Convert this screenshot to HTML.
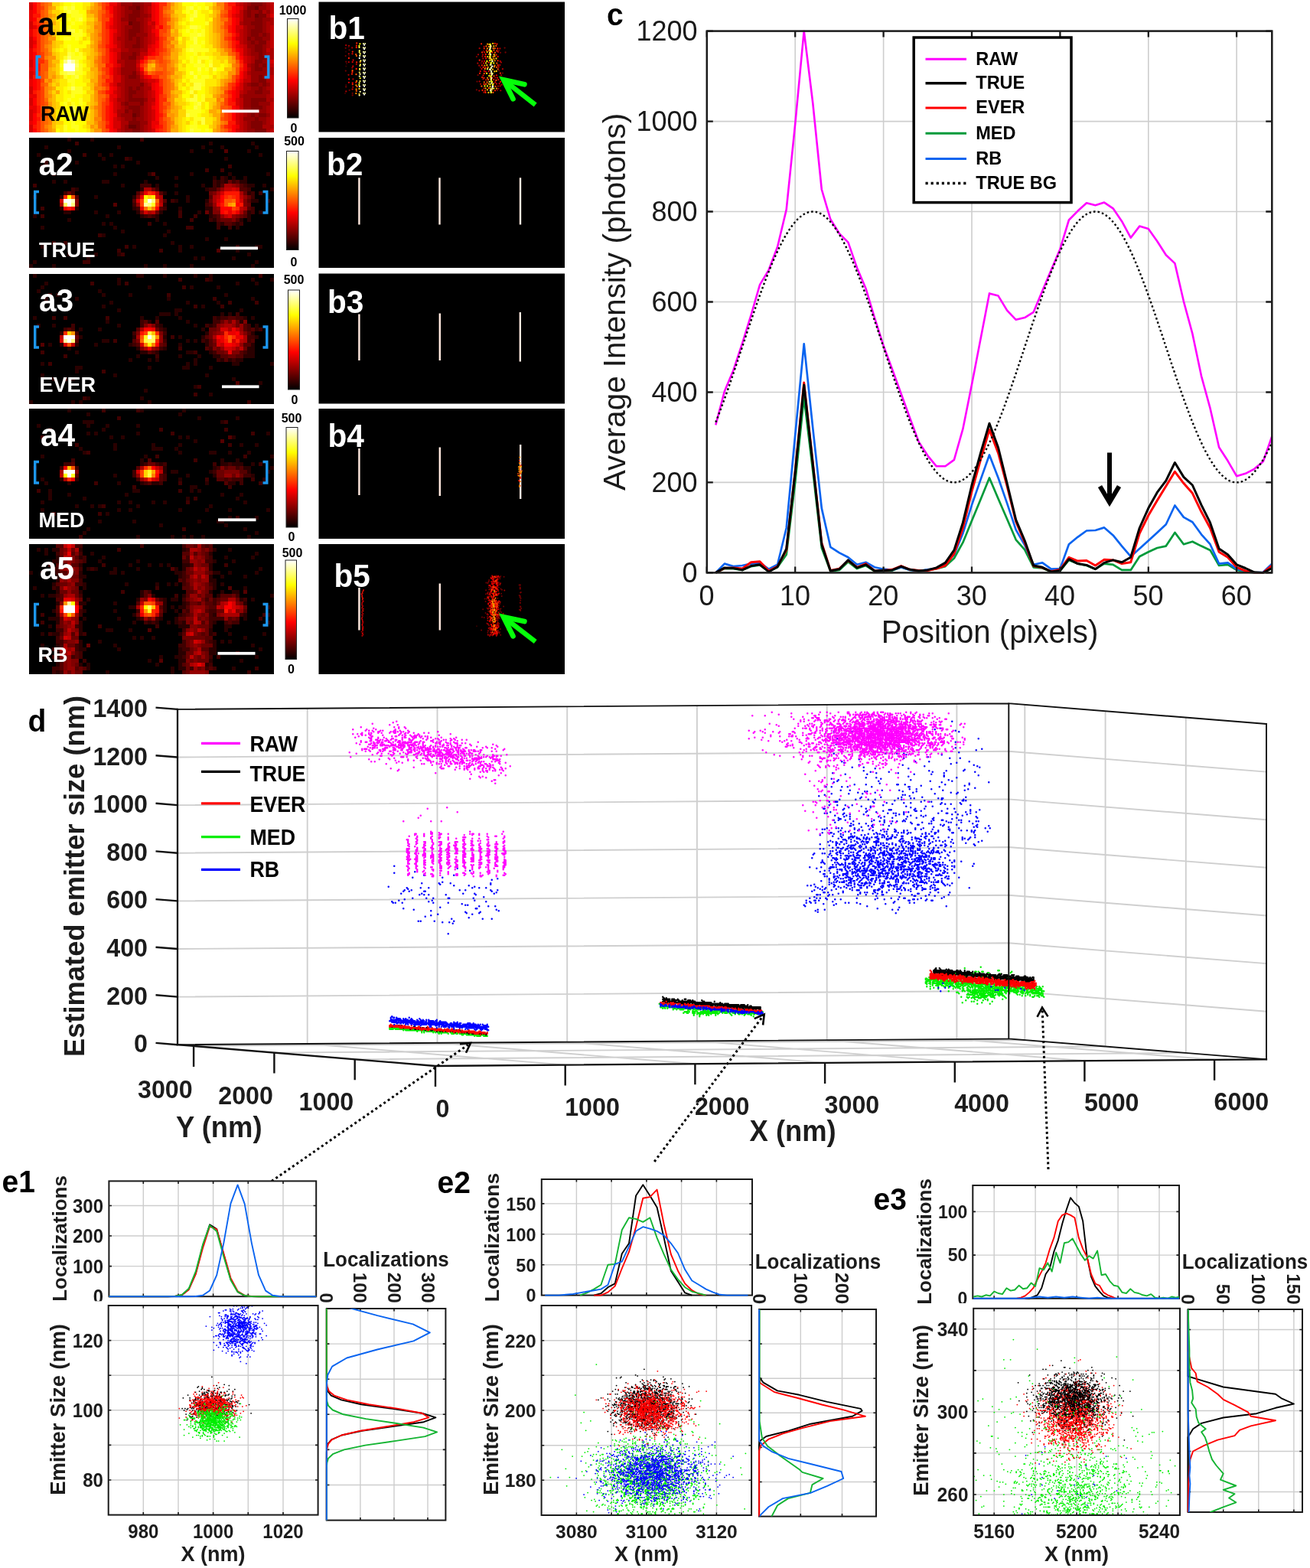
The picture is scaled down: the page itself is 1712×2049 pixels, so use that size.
<!DOCTYPE html>
<html lang="en"><head><meta charset="utf-8"><title>Figure</title>
<style>html,body{margin:0;padding:0;background:#fff}svg{display:block}text{font-family:"Liberation Sans",sans-serif}</style></head>
<body><svg width="1712" height="2049" viewBox="0 0 1712 2049">
<rect width="1712" height="2049" fill="#fff"/>

<g id="panels-a"><g transform="translate(38 2.5) scale(5)" shape-rendering="crispEdges"><rect x="0" y="0" width="64" height="34" fill="#000"/><path fill="#6a0000" d="M28 1h1v1h-1zM59 1h1v1h-1zM59 3h1v1h-1zM26 5h1v1h-1zM27 29h1v1h-1zM26 32h2v1h-2z"/><path fill="#800000" d="M27 0h2v1h-2zM58 0h3v1h-3zM26 1h2v1h-2zM57 1h2v1h-2zM27 2h2v1h-2zM57 2h1v1h-1zM60 2h1v1h-1zM26 3h3v1h-3zM57 3h1v1h-1zM60 3h2v1h-2zM26 4h2v1h-2zM59 4h2v1h-2zM27 5h2v1h-2zM58 5h3v1h-3zM27 6h2v1h-2zM59 6h2v1h-2zM26 7h3v1h-3zM58 7h3v1h-3zM26 8h2v1h-2zM58 8h2v1h-2zM61 8h1v1h-1zM26 9h1v1h-1zM28 9h1v1h-1zM57 9h1v1h-1zM59 9h2v1h-2zM28 10h1v1h-1zM58 10h1v1h-1zM60 10h2v1h-2zM27 11h2v1h-2zM59 11h2v1h-2zM59 12h2v1h-2zM27 13h1v1h-1zM60 13h1v1h-1zM26 14h2v1h-2zM60 14h2v1h-2zM59 15h2v1h-2zM59 16h1v1h-1zM61 16h1v1h-1zM59 17h2v1h-2zM27 18h1v1h-1zM26 19h2v1h-2zM60 19h1v1h-1zM60 20h2v1h-2zM29 21h1v1h-1zM58 21h2v1h-2zM61 21h1v1h-1zM26 22h1v1h-1zM28 22h1v1h-1zM60 22h1v1h-1zM26 23h2v1h-2zM59 23h2v1h-2zM26 24h1v1h-1zM26 25h4v1h-4zM58 25h4v1h-4zM25 26h1v1h-1zM29 26h1v1h-1zM58 26h2v1h-2zM26 27h3v1h-3zM58 27h3v1h-3zM25 28h1v1h-1zM27 28h2v1h-2zM28 29h1v1h-1zM58 29h1v1h-1zM60 29h2v1h-2zM27 30h1v1h-1zM59 30h1v1h-1zM26 31h3v1h-3zM58 31h3v1h-3zM28 32h1v1h-1zM58 32h3v1h-3zM27 33h2v1h-2zM59 33h3v1h-3z"/><path fill="#950000" d="M24 0h3v1h-3zM29 0h1v1h-1zM57 0h1v1h-1zM61 0h1v1h-1zM25 1h1v1h-1zM29 1h1v1h-1zM60 1h2v1h-2zM25 2h2v1h-2zM29 2h1v1h-1zM56 2h1v1h-1zM58 2h2v1h-2zM62 2h1v1h-1zM25 3h1v1h-1zM29 3h2v1h-2zM56 3h1v1h-1zM58 3h1v1h-1zM24 4h2v1h-2zM28 4h2v1h-2zM56 4h3v1h-3zM61 4h2v1h-2zM29 5h1v1h-1zM56 5h2v1h-2zM61 5h1v1h-1zM25 6h2v1h-2zM29 6h1v1h-1zM57 6h2v1h-2zM61 6h1v1h-1zM25 7h1v1h-1zM29 7h1v1h-1zM57 7h1v1h-1zM61 7h1v1h-1zM25 8h1v1h-1zM28 8h3v1h-3zM57 8h1v1h-1zM60 8h1v1h-1zM62 8h1v1h-1zM25 9h1v1h-1zM27 9h1v1h-1zM29 9h1v1h-1zM58 9h1v1h-1zM61 9h2v1h-2zM25 10h3v1h-3zM29 10h1v1h-1zM57 10h1v1h-1zM59 10h1v1h-1zM25 11h2v1h-2zM29 11h1v1h-1zM57 11h2v1h-2zM61 11h1v1h-1zM26 12h3v1h-3zM58 12h1v1h-1zM61 12h1v1h-1zM24 13h3v1h-3zM28 13h1v1h-1zM58 13h2v1h-2zM61 13h1v1h-1zM24 14h2v1h-2zM59 14h1v1h-1zM62 14h1v1h-1zM25 15h3v1h-3zM61 15h1v1h-1zM25 16h3v1h-3zM58 16h1v1h-1zM60 16h1v1h-1zM24 17h4v1h-4zM58 17h1v1h-1zM61 17h1v1h-1zM24 18h3v1h-3zM58 18h4v1h-4zM25 19h1v1h-1zM28 19h1v1h-1zM58 19h2v1h-2zM61 19h1v1h-1zM25 20h4v1h-4zM58 20h2v1h-2zM25 21h4v1h-4zM57 21h1v1h-1zM60 21h1v1h-1zM62 21h1v1h-1zM25 22h1v1h-1zM27 22h1v1h-1zM29 22h1v1h-1zM58 22h2v1h-2zM61 22h1v1h-1zM25 23h1v1h-1zM28 23h2v1h-2zM57 23h2v1h-2zM61 23h2v1h-2zM25 24h1v1h-1zM27 24h3v1h-3zM56 24h6v1h-6zM25 25h1v1h-1zM30 25h1v1h-1zM56 25h2v1h-2zM24 26h1v1h-1zM26 26h3v1h-3zM56 26h2v1h-2zM60 26h3v1h-3zM25 27h1v1h-1zM29 27h1v1h-1zM56 27h2v1h-2zM61 27h1v1h-1zM26 28h1v1h-1zM29 28h1v1h-1zM57 28h5v1h-5zM24 29h3v1h-3zM29 29h1v1h-1zM57 29h1v1h-1zM59 29h1v1h-1zM62 29h1v1h-1zM25 30h2v1h-2zM28 30h2v1h-2zM56 30h3v1h-3zM60 30h2v1h-2zM29 31h2v1h-2zM57 31h1v1h-1zM61 31h1v1h-1zM25 32h1v1h-1zM29 32h1v1h-1zM57 32h1v1h-1zM25 33h2v1h-2zM29 33h1v1h-1zM57 33h2v1h-2z"/><path fill="#aa0000" d="M30 0h2v1h-2zM56 0h1v1h-1zM62 0h1v1h-1zM24 1h1v1h-1zM30 1h1v1h-1zM56 1h1v1h-1zM62 1h1v1h-1zM24 2h1v1h-1zM30 2h1v1h-1zM61 2h1v1h-1zM24 3h1v1h-1zM31 3h1v1h-1zM62 3h1v1h-1zM30 4h1v1h-1zM63 4h1v1h-1zM24 5h2v1h-2zM30 5h1v1h-1zM55 5h1v1h-1zM62 5h2v1h-2zM24 6h1v1h-1zM30 6h1v1h-1zM56 6h1v1h-1zM62 6h1v1h-1zM24 7h1v1h-1zM30 7h1v1h-1zM56 7h1v1h-1zM62 7h1v1h-1zM24 8h1v1h-1zM56 8h1v1h-1zM23 9h2v1h-2zM30 9h1v1h-1zM56 9h1v1h-1zM24 10h1v1h-1zM30 10h1v1h-1zM56 10h1v1h-1zM62 10h1v1h-1zM24 11h1v1h-1zM30 11h1v1h-1zM62 11h1v1h-1zM24 12h2v1h-2zM29 12h2v1h-2zM57 12h1v1h-1zM63 12h1v1h-1zM57 13h1v1h-1zM62 13h2v1h-2zM28 14h1v1h-1zM58 14h1v1h-1zM63 14h1v1h-1zM23 15h2v1h-2zM58 15h1v1h-1zM62 15h1v1h-1zM24 16h1v1h-1zM57 16h1v1h-1zM62 16h1v1h-1zM62 17h2v1h-2zM28 18h1v1h-1zM57 18h1v1h-1zM62 18h2v1h-2zM24 19h1v1h-1zM62 19h1v1h-1zM24 20h1v1h-1zM29 20h1v1h-1zM62 20h1v1h-1zM23 21h2v1h-2zM30 21h1v1h-1zM56 21h1v1h-1zM24 22h1v1h-1zM30 22h2v1h-2zM56 22h2v1h-2zM62 22h1v1h-1zM24 23h1v1h-1zM30 23h1v1h-1zM56 23h1v1h-1zM24 24h1v1h-1zM30 24h1v1h-1zM55 24h1v1h-1zM62 24h1v1h-1zM23 25h2v1h-2zM62 25h2v1h-2zM30 26h1v1h-1zM24 27h1v1h-1zM30 27h1v1h-1zM62 27h1v1h-1zM23 28h2v1h-2zM30 28h1v1h-1zM56 28h1v1h-1zM62 28h1v1h-1zM23 29h1v1h-1zM30 29h1v1h-1zM56 29h1v1h-1zM24 30h1v1h-1zM30 30h1v1h-1zM62 30h1v1h-1zM24 31h2v1h-2zM56 31h1v1h-1zM62 31h1v1h-1zM24 32h1v1h-1zM30 32h1v1h-1zM56 32h1v1h-1zM61 32h3v1h-3zM24 33h1v1h-1zM30 33h1v1h-1zM56 33h1v1h-1zM62 33h1v1h-1z"/><path fill="#bf0000" d="M23 0h1v1h-1zM55 0h1v1h-1zM63 0h1v1h-1zM23 1h1v1h-1zM31 1h1v1h-1zM63 1h1v1h-1zM23 2h1v1h-1zM31 2h1v1h-1zM55 2h1v1h-1zM63 2h1v1h-1zM23 3h1v1h-1zM55 3h1v1h-1zM23 4h1v1h-1zM31 4h1v1h-1zM55 4h1v1h-1zM23 5h1v1h-1zM32 5h1v1h-1zM23 6h1v1h-1zM31 6h1v1h-1zM63 6h1v1h-1zM23 7h1v1h-1zM31 7h1v1h-1zM55 7h1v1h-1zM63 7h1v1h-1zM23 8h1v1h-1zM31 8h1v1h-1zM55 8h1v1h-1zM63 8h1v1h-1zM31 9h1v1h-1zM55 9h1v1h-1zM63 9h1v1h-1zM23 10h1v1h-1zM31 10h1v1h-1zM55 10h1v1h-1zM63 10h1v1h-1zM23 11h1v1h-1zM56 11h1v1h-1zM63 11h1v1h-1zM56 12h1v1h-1zM62 12h1v1h-1zM23 13h1v1h-1zM29 13h2v1h-2zM56 13h1v1h-1zM23 14h1v1h-1zM29 14h1v1h-1zM57 14h1v1h-1zM28 15h1v1h-1zM57 15h1v1h-1zM63 16h1v1h-1zM23 17h1v1h-1zM28 17h1v1h-1zM57 17h1v1h-1zM23 18h1v1h-1zM29 19h1v1h-1zM57 19h1v1h-1zM63 19h1v1h-1zM30 20h1v1h-1zM56 20h2v1h-2zM63 20h1v1h-1zM31 21h1v1h-1zM63 21h1v1h-1zM23 22h1v1h-1zM63 22h1v1h-1zM23 23h1v1h-1zM31 23h1v1h-1zM55 23h1v1h-1zM63 23h1v1h-1zM23 24h1v1h-1zM31 24h1v1h-1zM63 24h1v1h-1zM31 25h2v1h-2zM55 25h1v1h-1zM23 26h1v1h-1zM31 26h1v1h-1zM55 26h1v1h-1zM63 26h1v1h-1zM23 27h1v1h-1zM31 27h1v1h-1zM55 27h1v1h-1zM63 27h1v1h-1zM31 28h1v1h-1zM55 28h1v1h-1zM63 28h1v1h-1zM31 29h1v1h-1zM55 29h1v1h-1zM63 29h1v1h-1zM23 30h1v1h-1zM31 30h1v1h-1zM55 30h1v1h-1zM63 30h1v1h-1zM31 31h1v1h-1zM55 31h1v1h-1zM63 31h1v1h-1zM31 32h1v1h-1zM55 32h1v1h-1zM23 33h1v1h-1zM31 33h1v1h-1zM55 33h1v1h-1zM63 33h1v1h-1z"/><path fill="#d40000" d="M0 0h1v1h-1zM54 0h1v1h-1zM0 1h1v1h-1zM22 1h1v1h-1zM55 1h1v1h-1zM22 2h1v1h-1zM22 3h1v1h-1zM54 3h1v1h-1zM63 3h1v1h-1zM22 4h1v1h-1zM0 5h1v1h-1zM22 5h1v1h-1zM31 5h1v1h-1zM0 6h1v1h-1zM22 6h1v1h-1zM32 6h1v1h-1zM54 6h2v1h-2zM54 7h1v1h-1zM22 8h1v1h-1zM32 8h1v1h-1zM0 9h1v1h-1zM22 9h1v1h-1zM32 9h1v1h-1zM54 9h1v1h-1zM0 10h1v1h-1zM22 10h1v1h-1zM32 10h1v1h-1zM0 11h1v1h-1zM31 11h1v1h-1zM55 11h1v1h-1zM22 12h2v1h-2zM56 14h1v1h-1zM0 15h1v1h-1zM56 15h1v1h-1zM63 15h1v1h-1zM0 16h1v1h-1zM23 16h1v1h-1zM28 16h1v1h-1zM22 17h1v1h-1zM0 18h1v1h-1zM22 18h1v1h-1zM29 18h1v1h-1zM56 18h1v1h-1zM0 19h1v1h-1zM22 19h2v1h-2zM56 19h1v1h-1zM22 20h2v1h-2zM31 20h2v1h-2zM22 21h1v1h-1zM55 21h1v1h-1zM0 22h1v1h-1zM55 22h1v1h-1zM0 23h1v1h-1zM22 23h1v1h-1zM32 23h1v1h-1zM32 24h1v1h-1zM0 25h1v1h-1zM22 25h1v1h-1zM54 25h1v1h-1zM0 26h1v1h-1zM22 26h1v1h-1zM32 26h1v1h-1zM54 26h1v1h-1zM22 27h1v1h-1zM0 28h1v1h-1zM22 28h1v1h-1zM32 28h1v1h-1zM54 28h1v1h-1zM0 29h1v1h-1zM32 29h1v1h-1zM54 29h1v1h-1zM0 30h1v1h-1zM22 30h1v1h-1zM32 30h1v1h-1zM54 30h1v1h-1zM22 31h2v1h-2zM54 31h1v1h-1zM0 32h1v1h-1zM22 32h2v1h-2zM0 33h1v1h-1zM32 33h1v1h-1zM54 33h1v1h-1z"/><path fill="#ea0000" d="M21 0h2v1h-2zM32 0h1v1h-1zM32 1h1v1h-1zM54 1h1v1h-1zM0 2h1v1h-1zM32 2h1v1h-1zM54 2h1v1h-1zM0 3h1v1h-1zM32 3h1v1h-1zM53 3h1v1h-1zM0 4h1v1h-1zM32 4h1v1h-1zM54 4h1v1h-1zM54 5h1v1h-1zM1 6h1v1h-1zM21 6h1v1h-1zM0 7h1v1h-1zM22 7h1v1h-1zM32 7h1v1h-1zM0 8h1v1h-1zM54 8h1v1h-1zM33 9h1v1h-1zM1 10h1v1h-1zM22 11h1v1h-1zM32 11h1v1h-1zM54 11h1v1h-1zM0 12h1v1h-1zM21 12h1v1h-1zM31 12h2v1h-2zM55 12h1v1h-1zM0 13h1v1h-1zM22 13h1v1h-1zM31 13h1v1h-1zM55 13h1v1h-1zM0 14h1v1h-1zM22 14h1v1h-1zM22 15h1v1h-1zM22 16h1v1h-1zM56 16h1v1h-1zM0 17h1v1h-1zM56 17h1v1h-1zM1 18h1v1h-1zM30 19h1v1h-1zM0 20h1v1h-1zM33 20h1v1h-1zM55 20h1v1h-1zM0 21h1v1h-1zM21 21h1v1h-1zM32 21h1v1h-1zM22 22h1v1h-1zM32 22h1v1h-1zM54 22h1v1h-1zM54 23h1v1h-1zM0 24h2v1h-2zM21 24h2v1h-2zM54 24h1v1h-1zM21 25h1v1h-1zM0 27h2v1h-2zM32 27h1v1h-1zM54 27h1v1h-1zM1 28h1v1h-1zM22 29h1v1h-1zM0 31h1v1h-1zM32 31h2v1h-2zM32 32h1v1h-1zM54 32h1v1h-1zM22 33h1v1h-1z"/><path fill="#ff0000" d="M1 0h1v1h-1zM33 0h1v1h-1zM1 1h1v1h-1zM21 1h1v1h-1zM33 1h1v1h-1zM53 1h1v1h-1zM1 2h1v1h-1zM21 2h1v1h-1zM33 2h1v1h-1zM53 2h1v1h-1zM33 3h1v1h-1zM1 4h1v1h-1zM21 4h1v1h-1zM33 4h1v1h-1zM53 4h1v1h-1zM21 5h1v1h-1zM33 5h1v1h-1zM53 5h1v1h-1zM34 6h1v1h-1zM53 6h1v1h-1zM21 7h1v1h-1zM33 7h1v1h-1zM53 7h1v1h-1zM21 8h1v1h-1zM33 8h1v1h-1zM1 9h1v1h-1zM21 9h1v1h-1zM53 9h1v1h-1zM21 10h1v1h-1zM33 10h1v1h-1zM54 10h1v1h-1zM1 11h1v1h-1zM21 11h1v1h-1zM33 11h1v1h-1zM54 12h1v1h-1zM1 13h1v1h-1zM21 13h1v1h-1zM32 13h1v1h-1zM1 14h1v1h-1zM21 14h1v1h-1zM30 14h1v1h-1zM55 14h1v1h-1zM1 15h1v1h-1zM21 15h1v1h-1zM29 15h1v1h-1zM1 16h1v1h-1zM1 17h1v1h-1zM21 17h1v1h-1zM29 17h1v1h-1zM21 18h1v1h-1zM55 18h1v1h-1zM31 19h1v1h-1zM55 19h1v1h-1zM1 20h1v1h-1zM1 21h1v1h-1zM33 21h1v1h-1zM54 21h1v1h-1zM1 22h1v1h-1zM21 22h1v1h-1zM33 22h1v1h-1zM21 23h1v1h-1zM33 23h1v1h-1zM53 23h1v1h-1zM33 24h1v1h-1zM53 24h1v1h-1zM1 25h1v1h-1zM33 25h1v1h-1zM53 25h1v1h-1zM1 26h1v1h-1zM21 26h1v1h-1zM33 26h1v1h-1zM21 27h1v1h-1zM33 27h1v1h-1zM53 27h1v1h-1zM21 28h1v1h-1zM33 28h1v1h-1zM53 28h1v1h-1zM1 29h1v1h-1zM21 29h1v1h-1zM33 29h1v1h-1zM53 29h1v1h-1zM1 30h1v1h-1zM21 30h1v1h-1zM33 30h1v1h-1zM53 30h1v1h-1zM1 31h1v1h-1zM21 31h1v1h-1zM21 32h1v1h-1zM33 32h1v1h-1zM53 32h1v1h-1zM1 33h1v1h-1zM21 33h1v1h-1zM53 33h1v1h-1z"/><path fill="#ff1500" d="M52 0h2v1h-2zM20 1h1v1h-1zM52 2h1v1h-1zM1 3h2v1h-2zM21 3h1v1h-1zM52 3h1v1h-1zM1 5h1v1h-1zM20 5h1v1h-1zM2 6h1v1h-1zM20 6h1v1h-1zM33 6h1v1h-1zM52 6h1v1h-1zM1 7h1v1h-1zM52 7h1v1h-1zM1 8h1v1h-1zM53 8h1v1h-1zM53 10h1v1h-1zM20 11h1v1h-1zM53 11h1v1h-1zM1 12h1v1h-1zM33 12h1v1h-1zM33 13h1v1h-1zM55 15h1v1h-1zM2 16h1v1h-1zM20 16h2v1h-2zM2 17h1v1h-1zM55 17h1v1h-1zM1 19h1v1h-1zM21 19h1v1h-1zM2 20h1v1h-1zM20 20h2v1h-2zM54 20h1v1h-1zM2 21h1v1h-1zM2 22h1v1h-1zM34 22h1v1h-1zM53 22h1v1h-1zM1 23h1v1h-1zM20 23h1v1h-1zM34 23h1v1h-1zM52 23h1v1h-1zM52 25h1v1h-1zM52 26h2v1h-2zM2 27h1v1h-1zM20 27h1v1h-1zM2 28h1v1h-1zM20 28h1v1h-1zM20 29h1v1h-1zM34 29h1v1h-1zM2 30h1v1h-1zM20 30h1v1h-1zM52 31h2v1h-2zM1 32h1v1h-1zM20 32h1v1h-1zM34 32h1v1h-1zM52 32h1v1h-1zM33 33h1v1h-1z"/><path fill="#ff2a00" d="M2 0h1v1h-1zM20 0h1v1h-1zM34 0h2v1h-2zM2 1h1v1h-1zM34 1h1v1h-1zM52 1h1v1h-1zM2 2h1v1h-1zM20 2h1v1h-1zM34 2h1v1h-1zM20 3h1v1h-1zM34 3h1v1h-1zM34 4h1v1h-1zM52 4h1v1h-1zM2 5h1v1h-1zM34 5h1v1h-1zM52 5h1v1h-1zM2 7h1v1h-1zM20 7h1v1h-1zM2 8h1v1h-1zM20 8h1v1h-1zM2 9h1v1h-1zM20 9h1v1h-1zM34 9h1v1h-1zM52 9h1v1h-1zM2 10h1v1h-1zM20 10h1v1h-1zM34 10h1v1h-1zM2 11h1v1h-1zM34 11h1v1h-1zM2 12h1v1h-1zM20 12h1v1h-1zM34 12h1v1h-1zM53 12h1v1h-1zM2 13h1v1h-1zM20 13h1v1h-1zM54 13h1v1h-1zM2 14h1v1h-1zM20 14h1v1h-1zM31 14h2v1h-2zM54 14h1v1h-1zM2 15h2v1h-2zM20 15h1v1h-1zM30 15h1v1h-1zM29 16h1v1h-1zM55 16h1v1h-1zM20 17h1v1h-1zM2 18h1v1h-1zM20 18h1v1h-1zM30 18h1v1h-1zM2 19h1v1h-1zM32 19h2v1h-2zM54 19h1v1h-1zM34 20h1v1h-1zM20 21h1v1h-1zM34 21h1v1h-1zM53 21h1v1h-1zM2 23h1v1h-1zM2 24h1v1h-1zM34 24h1v1h-1zM52 24h1v1h-1zM2 25h1v1h-1zM20 25h1v1h-1zM34 25h2v1h-2zM2 26h1v1h-1zM20 26h1v1h-1zM34 26h1v1h-1zM34 27h1v1h-1zM34 28h1v1h-1zM52 28h1v1h-1zM2 29h1v1h-1zM52 29h1v1h-1zM34 30h1v1h-1zM52 30h1v1h-1zM2 31h1v1h-1zM20 31h1v1h-1zM34 31h1v1h-1zM2 32h1v1h-1zM51 32h1v1h-1zM2 33h1v1h-1zM34 33h1v1h-1zM52 33h1v1h-1z"/><path fill="#ff4000" d="M19 0h1v1h-1zM51 0h1v1h-1zM3 1h1v1h-1zM19 1h1v1h-1zM51 1h1v1h-1zM19 3h1v1h-1zM51 3h1v1h-1zM2 4h1v1h-1zM19 4h2v1h-2zM35 4h1v1h-1zM3 5h1v1h-1zM19 5h1v1h-1zM35 5h1v1h-1zM51 5h1v1h-1zM19 6h1v1h-1zM35 6h1v1h-1zM51 6h1v1h-1zM19 7h1v1h-1zM34 7h2v1h-2zM19 8h1v1h-1zM34 8h1v1h-1zM52 8h1v1h-1zM19 9h1v1h-1zM35 9h1v1h-1zM51 9h1v1h-1zM19 10h1v1h-1zM52 10h1v1h-1zM19 11h1v1h-1zM52 11h1v1h-1zM35 12h1v1h-1zM3 13h1v1h-1zM34 13h1v1h-1zM3 14h1v1h-1zM19 14h1v1h-1zM33 14h2v1h-2zM19 15h1v1h-1zM34 15h1v1h-1zM19 17h1v1h-1zM33 18h2v1h-2zM19 19h2v1h-2zM3 20h1v1h-1zM19 21h1v1h-1zM52 21h1v1h-1zM3 22h1v1h-1zM20 22h1v1h-1zM52 22h1v1h-1zM3 23h1v1h-1zM19 23h1v1h-1zM51 23h1v1h-1zM3 24h1v1h-1zM20 24h1v1h-1zM35 24h1v1h-1zM3 25h1v1h-1zM51 25h1v1h-1zM3 26h1v1h-1zM19 26h1v1h-1zM51 26h1v1h-1zM19 27h1v1h-1zM35 27h1v1h-1zM52 27h1v1h-1zM19 28h1v1h-1zM51 28h1v1h-1zM3 29h1v1h-1zM19 29h1v1h-1zM35 29h1v1h-1zM51 29h1v1h-1zM19 30h1v1h-1zM51 30h1v1h-1zM35 31h1v1h-1zM35 32h1v1h-1zM20 33h1v1h-1zM35 33h1v1h-1z"/><path fill="#ff5500" d="M3 0h1v1h-1zM35 1h1v1h-1zM3 2h1v1h-1zM19 2h1v1h-1zM51 2h1v1h-1zM3 3h1v1h-1zM35 3h1v1h-1zM50 3h1v1h-1zM36 4h1v1h-1zM3 6h1v1h-1zM36 6h1v1h-1zM3 7h1v1h-1zM51 7h1v1h-1zM3 8h1v1h-1zM35 8h1v1h-1zM51 8h1v1h-1zM3 9h1v1h-1zM3 10h1v1h-1zM35 10h1v1h-1zM3 11h1v1h-1zM18 11h1v1h-1zM35 11h1v1h-1zM3 12h1v1h-1zM19 12h1v1h-1zM19 13h1v1h-1zM35 13h1v1h-1zM53 13h1v1h-1zM4 15h1v1h-1zM33 15h1v1h-1zM35 15h1v1h-1zM54 15h1v1h-1zM3 16h2v1h-2zM30 16h1v1h-1zM34 16h2v1h-2zM3 17h2v1h-2zM35 17h1v1h-1zM54 17h1v1h-1zM3 18h1v1h-1zM19 18h1v1h-1zM32 18h1v1h-1zM35 18h1v1h-1zM54 18h1v1h-1zM3 19h1v1h-1zM34 19h2v1h-2zM53 19h1v1h-1zM19 20h1v1h-1zM35 20h1v1h-1zM53 20h1v1h-1zM3 21h1v1h-1zM35 21h1v1h-1zM35 22h1v1h-1zM18 23h1v1h-1zM35 23h1v1h-1zM51 24h1v1h-1zM19 25h1v1h-1zM4 26h1v1h-1zM35 26h2v1h-2zM3 27h1v1h-1zM50 27h2v1h-2zM3 28h1v1h-1zM35 28h1v1h-1zM4 29h1v1h-1zM3 30h1v1h-1zM35 30h1v1h-1zM50 30h1v1h-1zM3 31h1v1h-1zM19 31h1v1h-1zM3 32h1v1h-1zM19 32h1v1h-1zM50 32h1v1h-1zM3 33h1v1h-1zM19 33h1v1h-1zM51 33h1v1h-1z"/><path fill="#ff6a00" d="M4 0h1v1h-1zM18 0h1v1h-1zM36 0h1v1h-1zM4 1h1v1h-1zM36 1h1v1h-1zM4 2h1v1h-1zM18 2h1v1h-1zM35 2h1v1h-1zM50 2h1v1h-1zM4 3h1v1h-1zM18 3h1v1h-1zM36 3h1v1h-1zM3 4h1v1h-1zM18 4h1v1h-1zM50 4h2v1h-2zM4 5h1v1h-1zM4 6h1v1h-1zM50 6h1v1h-1zM4 7h1v1h-1zM36 7h1v1h-1zM4 8h1v1h-1zM18 8h1v1h-1zM36 8h1v1h-1zM4 9h1v1h-1zM4 10h1v1h-1zM18 10h1v1h-1zM36 10h1v1h-1zM51 10h1v1h-1zM51 11h1v1h-1zM4 12h1v1h-1zM18 12h1v1h-1zM36 12h1v1h-1zM52 12h1v1h-1zM4 13h1v1h-1zM36 13h1v1h-1zM52 13h1v1h-1zM18 14h1v1h-1zM35 14h1v1h-1zM18 15h1v1h-1zM31 15h1v1h-1zM36 15h1v1h-1zM18 16h2v1h-2zM33 16h1v1h-1zM54 16h1v1h-1zM18 17h1v1h-1zM30 17h1v1h-1zM33 17h2v1h-2zM4 18h1v1h-1zM31 18h1v1h-1zM36 18h1v1h-1zM4 19h1v1h-1zM18 19h1v1h-1zM18 20h1v1h-1zM36 20h1v1h-1zM4 21h1v1h-1zM18 21h1v1h-1zM36 21h1v1h-1zM19 22h1v1h-1zM36 22h1v1h-1zM51 22h1v1h-1zM36 23h1v1h-1zM18 24h2v1h-2zM36 24h1v1h-1zM50 24h1v1h-1zM4 25h1v1h-1zM18 25h1v1h-1zM18 26h1v1h-1zM50 26h1v1h-1zM4 27h1v1h-1zM18 27h1v1h-1zM36 27h1v1h-1zM4 28h1v1h-1zM18 28h1v1h-1zM18 29h1v1h-1zM50 29h1v1h-1zM4 30h1v1h-1zM36 30h1v1h-1zM4 31h1v1h-1zM18 31h1v1h-1zM36 31h1v1h-1zM51 31h1v1h-1zM18 32h1v1h-1zM36 32h1v1h-1zM4 33h1v1h-1zM36 33h1v1h-1zM50 33h1v1h-1z"/><path fill="#ff8000" d="M5 0h1v1h-1zM49 0h2v1h-2zM18 1h1v1h-1zM50 1h1v1h-1zM36 2h1v1h-1zM4 4h1v1h-1zM18 5h1v1h-1zM36 5h1v1h-1zM50 5h1v1h-1zM17 6h2v1h-2zM18 7h1v1h-1zM50 7h1v1h-1zM5 8h1v1h-1zM50 8h1v1h-1zM18 9h1v1h-1zM36 9h2v1h-2zM50 9h1v1h-1zM5 10h1v1h-1zM50 10h1v1h-1zM4 11h1v1h-1zM36 11h2v1h-2zM50 11h1v1h-1zM51 12h1v1h-1zM5 13h1v1h-1zM18 13h1v1h-1zM4 14h1v1h-1zM36 14h1v1h-1zM53 14h1v1h-1zM17 15h1v1h-1zM32 15h1v1h-1zM36 16h1v1h-1zM53 16h1v1h-1zM36 17h2v1h-2zM18 18h1v1h-1zM37 18h1v1h-1zM36 19h1v1h-1zM5 20h1v1h-1zM52 20h1v1h-1zM37 21h1v1h-1zM51 21h1v1h-1zM4 22h1v1h-1zM17 22h2v1h-2zM37 22h1v1h-1zM50 22h1v1h-1zM4 23h1v1h-1zM4 24h1v1h-1zM36 25h1v1h-1zM49 25h1v1h-1zM17 27h1v1h-1zM5 28h1v1h-1zM36 28h1v1h-1zM50 28h1v1h-1zM5 30h1v1h-1zM17 30h2v1h-2zM5 31h1v1h-1zM37 31h1v1h-1zM50 31h1v1h-1zM4 32h1v1h-1z"/><path fill="#ff9500" d="M17 0h1v1h-1zM37 0h1v1h-1zM5 1h1v1h-1zM17 1h1v1h-1zM49 1h1v1h-1zM16 2h2v1h-2zM37 2h1v1h-1zM5 3h1v1h-1zM17 3h1v1h-1zM49 3h1v1h-1zM37 4h1v1h-1zM49 4h1v1h-1zM5 5h1v1h-1zM17 5h1v1h-1zM37 5h1v1h-1zM49 5h1v1h-1zM5 6h1v1h-1zM37 6h1v1h-1zM49 6h1v1h-1zM17 7h1v1h-1zM49 7h1v1h-1zM17 8h1v1h-1zM5 9h2v1h-2zM17 9h1v1h-1zM17 10h1v1h-1zM5 11h1v1h-1zM17 11h1v1h-1zM5 12h1v1h-1zM17 12h1v1h-1zM37 12h1v1h-1zM5 14h2v1h-2zM17 14h1v1h-1zM5 15h1v1h-1zM37 15h1v1h-1zM53 15h1v1h-1zM5 16h1v1h-1zM17 16h1v1h-1zM37 16h1v1h-1zM32 17h1v1h-1zM53 17h1v1h-1zM52 18h2v1h-2zM6 19h1v1h-1zM52 19h1v1h-1zM4 20h1v1h-1zM37 20h1v1h-1zM51 20h1v1h-1zM17 21h1v1h-1zM5 22h1v1h-1zM17 23h1v1h-1zM50 23h1v1h-1zM5 24h1v1h-1zM17 24h1v1h-1zM37 24h1v1h-1zM49 24h1v1h-1zM17 25h1v1h-1zM37 25h1v1h-1zM50 25h1v1h-1zM5 26h1v1h-1zM37 26h1v1h-1zM49 26h1v1h-1zM5 27h1v1h-1zM37 27h1v1h-1zM49 27h1v1h-1zM17 28h1v1h-1zM17 29h1v1h-1zM36 29h2v1h-2zM37 30h1v1h-1zM17 31h1v1h-1zM5 32h1v1h-1zM16 32h1v1h-1zM37 32h1v1h-1zM49 32h1v1h-1zM5 33h1v1h-1zM17 33h2v1h-2zM49 33h1v1h-1z"/><path fill="#ffaa00" d="M6 1h1v1h-1zM16 1h1v1h-1zM37 1h1v1h-1zM48 1h1v1h-1zM5 2h1v1h-1zM15 2h1v1h-1zM49 2h1v1h-1zM6 3h1v1h-1zM37 3h1v1h-1zM5 4h1v1h-1zM17 4h1v1h-1zM38 4h1v1h-1zM48 4h1v1h-1zM6 5h1v1h-1zM48 5h1v1h-1zM48 6h1v1h-1zM5 7h1v1h-1zM38 7h1v1h-1zM48 7h1v1h-1zM16 8h1v1h-1zM37 8h2v1h-2zM49 8h1v1h-1zM16 9h1v1h-1zM49 9h1v1h-1zM37 10h2v1h-2zM49 10h1v1h-1zM16 11h1v1h-1zM49 11h1v1h-1zM38 12h1v1h-1zM50 12h1v1h-1zM17 13h1v1h-1zM37 13h2v1h-2zM50 13h2v1h-2zM37 14h2v1h-2zM52 14h1v1h-1zM38 15h1v1h-1zM52 15h1v1h-1zM6 16h1v1h-1zM31 16h1v1h-1zM5 17h1v1h-1zM16 17h2v1h-2zM31 17h1v1h-1zM38 17h1v1h-1zM5 18h2v1h-2zM17 18h1v1h-1zM5 19h1v1h-1zM17 19h1v1h-1zM37 19h2v1h-2zM16 20h2v1h-2zM50 20h1v1h-1zM5 21h1v1h-1zM50 21h1v1h-1zM6 22h1v1h-1zM38 22h1v1h-1zM49 22h1v1h-1zM5 23h1v1h-1zM7 23h1v1h-1zM37 23h1v1h-1zM49 23h1v1h-1zM38 24h1v1h-1zM48 24h1v1h-1zM5 25h1v1h-1zM17 26h1v1h-1zM16 27h1v1h-1zM38 27h1v1h-1zM48 27h1v1h-1zM37 28h2v1h-2zM47 28h2v1h-2zM5 29h1v1h-1zM38 29h1v1h-1zM48 29h2v1h-2zM49 30h1v1h-1zM49 31h1v1h-1zM17 32h1v1h-1zM38 32h1v1h-1zM6 33h1v1h-1zM37 33h2v1h-2zM48 33h1v1h-1z"/><path fill="#ffbf00" d="M16 0h1v1h-1zM38 0h1v1h-1zM48 0h1v1h-1zM38 1h1v1h-1zM48 2h1v1h-1zM15 3h2v1h-2zM38 3h1v1h-1zM48 3h1v1h-1zM6 4h1v1h-1zM15 5h2v1h-2zM38 5h1v1h-1zM16 6h1v1h-1zM38 6h1v1h-1zM6 7h1v1h-1zM15 7h2v1h-2zM37 7h1v1h-1zM6 8h1v1h-1zM48 8h1v1h-1zM38 9h1v1h-1zM48 9h1v1h-1zM6 10h1v1h-1zM16 10h1v1h-1zM48 10h1v1h-1zM6 11h1v1h-1zM38 11h1v1h-1zM48 11h1v1h-1zM16 12h1v1h-1zM39 12h1v1h-1zM49 12h1v1h-1zM6 13h1v1h-1zM16 13h1v1h-1zM15 14h2v1h-2zM6 15h2v1h-2zM16 15h1v1h-1zM16 16h1v1h-1zM32 16h1v1h-1zM38 16h1v1h-1zM6 17h1v1h-1zM51 17h2v1h-2zM16 18h1v1h-1zM38 18h2v1h-2zM7 19h1v1h-1zM16 19h1v1h-1zM39 19h1v1h-1zM51 19h1v1h-1zM6 20h1v1h-1zM38 20h1v1h-1zM7 21h1v1h-1zM16 21h1v1h-1zM38 21h1v1h-1zM16 22h1v1h-1zM48 22h1v1h-1zM38 23h2v1h-2zM48 23h1v1h-1zM6 24h1v1h-1zM16 24h1v1h-1zM6 25h1v1h-1zM16 25h1v1h-1zM6 26h1v1h-1zM16 26h1v1h-1zM38 26h1v1h-1zM48 26h1v1h-1zM6 27h1v1h-1zM39 27h1v1h-1zM6 28h1v1h-1zM16 28h1v1h-1zM49 28h1v1h-1zM6 29h1v1h-1zM16 29h1v1h-1zM6 30h1v1h-1zM16 30h1v1h-1zM38 30h1v1h-1zM6 31h1v1h-1zM15 31h2v1h-2zM38 31h1v1h-1zM48 31h1v1h-1zM6 32h1v1h-1zM48 32h1v1h-1zM16 33h1v1h-1z"/><path fill="#ffd400" d="M6 0h2v1h-2zM39 0h1v1h-1zM15 1h1v1h-1zM39 1h1v1h-1zM47 1h1v1h-1zM6 2h2v1h-2zM38 2h2v1h-2zM7 3h1v1h-1zM39 3h2v1h-2zM47 3h1v1h-1zM15 4h2v1h-2zM39 4h1v1h-1zM7 5h1v1h-1zM47 5h1v1h-1zM6 6h2v1h-2zM15 6h1v1h-1zM39 6h1v1h-1zM47 6h1v1h-1zM7 7h1v1h-1zM47 7h1v1h-1zM15 8h1v1h-1zM39 8h1v1h-1zM47 8h1v1h-1zM14 9h1v1h-1zM40 9h1v1h-1zM47 9h1v1h-1zM7 10h2v1h-2zM40 10h1v1h-1zM47 10h1v1h-1zM7 11h1v1h-1zM15 11h1v1h-1zM39 11h2v1h-2zM6 12h1v1h-1zM14 12h2v1h-2zM7 13h1v1h-1zM15 13h1v1h-1zM39 13h1v1h-1zM48 13h2v1h-2zM7 14h1v1h-1zM49 14h3v1h-3zM15 15h1v1h-1zM39 15h1v1h-1zM50 15h1v1h-1zM7 16h1v1h-1zM15 16h1v1h-1zM40 16h1v1h-1zM52 16h1v1h-1zM7 17h1v1h-1zM7 18h1v1h-1zM15 18h1v1h-1zM40 18h1v1h-1zM50 18h2v1h-2zM8 19h1v1h-1zM15 19h1v1h-1zM48 19h1v1h-1zM50 19h1v1h-1zM7 20h1v1h-1zM39 20h1v1h-1zM49 20h1v1h-1zM6 21h1v1h-1zM15 21h1v1h-1zM40 21h1v1h-1zM49 21h1v1h-1zM47 22h1v1h-1zM6 23h1v1h-1zM15 23h2v1h-2zM47 23h1v1h-1zM39 24h1v1h-1zM38 25h2v1h-2zM46 25h3v1h-3zM7 26h1v1h-1zM15 26h1v1h-1zM39 26h2v1h-2zM47 26h1v1h-1zM7 27h2v1h-2zM15 27h1v1h-1zM47 27h1v1h-1zM14 28h1v1h-1zM39 28h2v1h-2zM14 29h2v1h-2zM39 29h2v1h-2zM47 29h1v1h-1zM14 30h2v1h-2zM39 30h1v1h-1zM48 30h1v1h-1zM7 31h2v1h-2zM39 31h1v1h-1zM41 31h1v1h-1zM15 32h1v1h-1zM39 32h1v1h-1zM47 32h1v1h-1zM39 33h1v1h-1z"/><path fill="#ffea00" d="M8 0h1v1h-1zM14 0h2v1h-2zM46 0h2v1h-2zM7 1h1v1h-1zM14 1h1v1h-1zM40 1h1v1h-1zM8 2h1v1h-1zM45 2h2v1h-2zM46 3h1v1h-1zM7 4h2v1h-2zM40 4h1v1h-1zM46 4h1v1h-1zM14 5h1v1h-1zM39 5h1v1h-1zM41 5h1v1h-1zM13 6h2v1h-2zM40 6h1v1h-1zM46 6h1v1h-1zM9 7h1v1h-1zM14 7h1v1h-1zM39 7h1v1h-1zM46 7h1v1h-1zM7 8h1v1h-1zM10 8h1v1h-1zM46 8h1v1h-1zM7 9h1v1h-1zM15 9h1v1h-1zM41 9h1v1h-1zM46 9h1v1h-1zM13 10h1v1h-1zM39 10h1v1h-1zM46 10h1v1h-1zM8 11h1v1h-1zM46 11h2v1h-2zM7 12h1v1h-1zM9 12h1v1h-1zM13 12h1v1h-1zM40 12h1v1h-1zM47 12h2v1h-2zM8 13h2v1h-2zM14 13h1v1h-1zM40 13h1v1h-1zM44 13h1v1h-1zM46 13h2v1h-2zM8 14h1v1h-1zM39 14h2v1h-2zM48 14h1v1h-1zM14 15h1v1h-1zM41 15h1v1h-1zM45 15h1v1h-1zM48 15h2v1h-2zM51 15h1v1h-1zM39 16h1v1h-1zM48 16h2v1h-2zM51 16h1v1h-1zM14 17h2v1h-2zM39 17h2v1h-2zM47 17h1v1h-1zM47 18h1v1h-1zM49 18h1v1h-1zM14 19h1v1h-1zM40 19h1v1h-1zM49 19h1v1h-1zM8 20h2v1h-2zM14 20h2v1h-2zM41 20h1v1h-1zM46 20h3v1h-3zM8 21h2v1h-2zM39 21h1v1h-1zM42 21h1v1h-1zM46 21h3v1h-3zM7 22h2v1h-2zM14 22h2v1h-2zM39 22h1v1h-1zM41 22h1v1h-1zM46 22h1v1h-1zM8 23h1v1h-1zM10 23h1v1h-1zM40 23h1v1h-1zM43 23h1v1h-1zM46 23h1v1h-1zM7 24h2v1h-2zM14 24h2v1h-2zM42 24h1v1h-1zM46 24h2v1h-2zM7 25h2v1h-2zM14 25h2v1h-2zM40 25h1v1h-1zM10 26h1v1h-1zM41 26h1v1h-1zM45 26h1v1h-1zM14 27h1v1h-1zM40 27h1v1h-1zM45 27h1v1h-1zM7 28h2v1h-2zM15 28h1v1h-1zM46 28h1v1h-1zM7 29h2v1h-2zM45 29h2v1h-2zM7 30h1v1h-1zM13 30h1v1h-1zM40 30h1v1h-1zM42 30h1v1h-1zM46 30h2v1h-2zM40 31h1v1h-1zM44 31h1v1h-1zM46 31h2v1h-2zM7 32h2v1h-2zM14 32h1v1h-1zM40 32h1v1h-1zM8 33h1v1h-1zM15 33h1v1h-1zM40 33h1v1h-1z"/><path fill="#ffff00" d="M9 0h2v1h-2zM12 0h2v1h-2zM40 0h3v1h-3zM44 0h2v1h-2zM8 1h1v1h-1zM12 1h2v1h-2zM43 1h1v1h-1zM45 1h1v1h-1zM13 2h2v1h-2zM40 2h1v1h-1zM42 2h1v1h-1zM44 2h1v1h-1zM47 2h1v1h-1zM8 3h3v1h-3zM14 3h1v1h-1zM41 3h1v1h-1zM44 3h2v1h-2zM9 4h1v1h-1zM11 4h1v1h-1zM14 4h1v1h-1zM41 4h1v1h-1zM43 4h3v1h-3zM47 4h1v1h-1zM8 5h3v1h-3zM12 5h2v1h-2zM40 5h1v1h-1zM42 5h4v1h-4zM8 6h2v1h-2zM11 6h2v1h-2zM41 6h1v1h-1zM45 6h1v1h-1zM8 7h1v1h-1zM12 7h1v1h-1zM40 7h1v1h-1zM42 7h1v1h-1zM44 7h1v1h-1zM8 8h2v1h-2zM14 8h1v1h-1zM40 8h2v1h-2zM8 9h1v1h-1zM11 9h1v1h-1zM13 9h1v1h-1zM39 9h1v1h-1zM44 9h2v1h-2zM9 10h4v1h-4zM14 10h2v1h-2zM41 10h2v1h-2zM44 10h1v1h-1zM9 11h1v1h-1zM11 11h4v1h-4zM41 11h1v1h-1zM45 11h1v1h-1zM8 12h1v1h-1zM11 12h1v1h-1zM12 13h1v1h-1zM41 13h2v1h-2zM45 13h1v1h-1zM14 14h1v1h-1zM41 14h1v1h-1zM43 14h1v1h-1zM47 14h1v1h-1zM8 15h1v1h-1zM13 15h1v1h-1zM40 15h1v1h-1zM43 15h1v1h-1zM46 15h1v1h-1zM14 16h1v1h-1zM41 16h2v1h-2zM46 16h1v1h-1zM50 16h1v1h-1zM8 17h1v1h-1zM41 17h3v1h-3zM45 17h1v1h-1zM49 17h2v1h-2zM14 18h1v1h-1zM41 18h1v1h-1zM43 18h1v1h-1zM45 18h2v1h-2zM48 18h1v1h-1zM10 19h1v1h-1zM13 19h1v1h-1zM41 19h2v1h-2zM44 19h1v1h-1zM47 19h1v1h-1zM12 20h2v1h-2zM40 20h1v1h-1zM10 21h1v1h-1zM12 21h3v1h-3zM41 21h1v1h-1zM9 22h1v1h-1zM40 22h1v1h-1zM45 22h1v1h-1zM9 23h1v1h-1zM14 23h1v1h-1zM41 23h1v1h-1zM44 23h2v1h-2zM9 24h2v1h-2zM12 24h2v1h-2zM40 24h2v1h-2zM44 24h1v1h-1zM9 25h1v1h-1zM11 25h2v1h-2zM44 25h1v1h-1zM8 26h1v1h-1zM12 26h1v1h-1zM14 26h1v1h-1zM42 26h1v1h-1zM46 26h1v1h-1zM9 27h2v1h-2zM13 27h1v1h-1zM41 27h2v1h-2zM46 27h1v1h-1zM9 28h2v1h-2zM13 28h1v1h-1zM45 28h1v1h-1zM10 29h4v1h-4zM44 29h1v1h-1zM8 30h2v1h-2zM41 30h1v1h-1zM9 31h2v1h-2zM12 31h3v1h-3zM42 31h1v1h-1zM10 32h1v1h-1zM13 32h1v1h-1zM41 32h1v1h-1zM44 32h3v1h-3zM7 33h1v1h-1zM10 33h2v1h-2zM13 33h2v1h-2zM41 33h1v1h-1zM45 33h1v1h-1zM47 33h1v1h-1z"/><path fill="#ffff20" d="M11 0h1v1h-1zM43 0h1v1h-1zM10 1h1v1h-1zM41 1h1v1h-1zM44 1h1v1h-1zM46 1h1v1h-1zM9 2h1v1h-1zM11 2h2v1h-2zM41 2h1v1h-1zM11 3h3v1h-3zM42 3h1v1h-1zM10 4h1v1h-1zM12 4h1v1h-1zM11 5h1v1h-1zM46 5h1v1h-1zM10 6h1v1h-1zM44 6h1v1h-1zM13 7h1v1h-1zM41 7h1v1h-1zM43 7h1v1h-1zM45 7h1v1h-1zM11 8h3v1h-3zM42 8h2v1h-2zM45 8h1v1h-1zM9 9h2v1h-2zM12 9h1v1h-1zM42 9h1v1h-1zM45 10h1v1h-1zM10 11h1v1h-1zM42 11h3v1h-3zM10 12h1v1h-1zM41 12h1v1h-1zM43 12h4v1h-4zM11 13h1v1h-1zM13 13h1v1h-1zM43 13h1v1h-1zM9 14h1v1h-1zM11 14h3v1h-3zM42 14h1v1h-1zM44 14h3v1h-3zM42 15h1v1h-1zM47 15h1v1h-1zM8 16h1v1h-1zM13 16h1v1h-1zM43 16h3v1h-3zM13 17h1v1h-1zM46 17h1v1h-1zM8 18h1v1h-1zM12 18h2v1h-2zM44 18h1v1h-1zM9 19h1v1h-1zM11 19h1v1h-1zM45 19h2v1h-2zM10 20h2v1h-2zM42 20h4v1h-4zM11 21h1v1h-1zM45 21h1v1h-1zM10 22h1v1h-1zM12 22h2v1h-2zM42 22h1v1h-1zM11 23h3v1h-3zM11 24h1v1h-1zM45 24h1v1h-1zM10 25h1v1h-1zM13 25h1v1h-1zM41 25h1v1h-1zM45 25h1v1h-1zM9 26h1v1h-1zM11 26h1v1h-1zM13 26h1v1h-1zM43 26h1v1h-1zM12 27h1v1h-1zM44 27h1v1h-1zM12 28h1v1h-1zM41 28h4v1h-4zM9 29h1v1h-1zM42 29h2v1h-2zM10 30h1v1h-1zM12 30h1v1h-1zM43 30h2v1h-2zM11 31h1v1h-1zM43 31h1v1h-1zM9 32h1v1h-1zM11 32h2v1h-2zM42 32h2v1h-2zM9 33h1v1h-1zM12 33h1v1h-1zM43 33h2v1h-2zM46 33h1v1h-1z"/><path fill="#ffff40" d="M9 1h1v1h-1zM11 1h1v1h-1zM42 1h1v1h-1zM10 2h1v1h-1zM43 2h1v1h-1zM43 3h1v1h-1zM13 4h1v1h-1zM42 4h1v1h-1zM42 6h2v1h-2zM10 7h2v1h-2zM44 8h1v1h-1zM43 9h1v1h-1zM43 10h1v1h-1zM12 12h1v1h-1zM42 12h1v1h-1zM10 13h1v1h-1zM12 15h1v1h-1zM44 15h1v1h-1zM47 16h1v1h-1zM12 17h1v1h-1zM44 17h1v1h-1zM48 17h1v1h-1zM9 18h1v1h-1zM42 18h1v1h-1zM12 19h1v1h-1zM43 19h1v1h-1zM43 21h2v1h-2zM43 22h2v1h-2zM42 23h1v1h-1zM43 24h1v1h-1zM42 25h2v1h-2zM44 26h1v1h-1zM11 27h1v1h-1zM43 27h1v1h-1zM41 29h1v1h-1zM11 30h1v1h-1zM45 30h1v1h-1zM45 31h1v1h-1zM42 33h1v1h-1z"/><path fill="#ffff60" d="M10 14h1v1h-1zM12 16h1v1h-1zM10 18h2v1h-2zM11 22h1v1h-1zM11 28h1v1h-1z"/><path fill="#ffff80" d="M9 15h1v1h-1z"/><path fill="#ffff9f" d="M11 15h1v1h-1z"/><path fill="#ffffdf" d="M10 15h1v1h-1z"/><path fill="#ffffff" d="M9 16h3v1h-3zM9 17h3v1h-3z"/></g><g transform="translate(38 180) scale(5)" shape-rendering="crispEdges"><rect x="0" y="0" width="64" height="34" fill="#000"/><path fill="#2a0000" d="M10 0h1v1h-1zM16 0h1v1h-1zM47 1h1v1h-1zM58 1h1v1h-1zM4 2h1v1h-1zM23 2h1v1h-1zM45 2h1v1h-1zM50 2h1v1h-1zM59 2h1v1h-1zM10 3h1v1h-1zM42 3h1v1h-1zM47 3h1v1h-1zM57 3h1v1h-1zM2 4h1v1h-1zM18 4h1v1h-1zM21 4h1v1h-1zM60 4h1v1h-1zM19 5h1v1h-1zM26 5h1v1h-1zM51 5h1v1h-1zM12 6h1v1h-1zM28 6h1v1h-1zM3 7h1v1h-1zM22 7h1v1h-1zM24 7h1v1h-1zM6 9h1v1h-1zM22 9h1v1h-1zM31 9h1v1h-1zM42 9h1v1h-1zM52 9h1v1h-1zM62 9h1v1h-1zM33 10h1v1h-1zM38 10h1v1h-1zM48 10h1v1h-1zM51 10h1v1h-1zM53 10h1v1h-1zM56 10h1v1h-1zM6 11h1v1h-1zM9 11h1v1h-1zM19 11h2v1h-2zM30 11h1v1h-1zM49 11h1v1h-1zM51 11h1v1h-1zM55 11h2v1h-2zM24 12h1v1h-1zM33 12h1v1h-1zM38 12h1v1h-1zM45 12h1v1h-1zM49 12h1v1h-1zM57 12h2v1h-2zM61 12h1v1h-1zM12 13h1v1h-1zM29 13h1v1h-1zM46 13h1v1h-1zM63 13h1v1h-1zM35 14h1v1h-1zM38 14h1v1h-1zM57 14h1v1h-1zM1 15h1v1h-1zM8 15h1v1h-1zM17 15h1v1h-1zM27 15h1v1h-1zM41 15h1v1h-1zM38 16h1v1h-1zM41 16h1v1h-1zM46 16h1v1h-1zM58 16h2v1h-2zM62 16h1v1h-1zM35 17h1v1h-1zM8 18h1v1h-1zM12 18h1v1h-1zM27 18h1v1h-1zM39 18h1v1h-1zM46 18h2v1h-2zM9 19h2v1h-2zM17 19h1v1h-1zM23 19h1v1h-1zM28 19h1v1h-1zM34 19h1v1h-1zM44 19h1v1h-1zM47 19h1v1h-1zM57 19h1v1h-1zM60 19h1v1h-1zM1 20h1v1h-1zM20 20h1v1h-1zM29 20h1v1h-1zM33 20h1v1h-1zM47 20h1v1h-1zM57 20h1v1h-1zM10 21h1v1h-1zM33 21h1v1h-1zM48 21h1v1h-1zM55 21h1v1h-1zM57 21h1v1h-1zM19 22h1v1h-1zM21 22h1v1h-1zM35 22h1v1h-1zM50 22h1v1h-1zM54 22h1v1h-1zM3 23h1v1h-1zM22 23h1v1h-1zM54 23h1v1h-1zM24 24h1v1h-1zM36 24h1v1h-1zM19 25h1v1h-1zM35 25h1v1h-1zM46 26h1v1h-1zM51 26h1v1h-1zM37 27h1v1h-1zM3 28h1v1h-1zM27 28h1v1h-1zM39 28h1v1h-1zM42 28h1v1h-1zM59 28h2v1h-2zM39 29h1v1h-1zM54 29h1v1h-1zM10 30h1v1h-1zM17 30h1v1h-1zM23 30h1v1h-1zM57 30h1v1h-1zM15 31h1v1h-1zM43 31h1v1h-1zM45 31h1v1h-1zM53 31h1v1h-1zM1 32h1v1h-1zM59 32h1v1h-1zM0 33h1v1h-1zM6 33h1v1h-1zM30 33h1v1h-1zM35 33h1v1h-1zM42 33h1v1h-1zM58 33h1v1h-1z"/><path fill="#400000" d="M29 0h1v1h-1zM12 1h1v1h-1zM14 4h1v1h-1zM25 5h1v1h-1zM4 6h1v1h-1zM52 7h1v1h-1zM46 8h1v1h-1zM50 8h1v1h-1zM50 10h1v1h-1zM48 11h1v1h-1zM50 11h1v1h-1zM53 11h1v1h-1zM1 12h1v1h-1zM29 12h3v1h-3zM48 12h1v1h-1zM56 12h1v1h-1zM11 13h1v1h-1zM33 13h1v1h-1zM47 13h2v1h-2zM57 13h1v1h-1zM9 14h1v1h-1zM11 14h1v1h-1zM58 14h1v1h-1zM60 14h1v1h-1zM58 15h1v1h-1zM37 16h1v1h-1zM27 17h1v1h-1zM46 17h1v1h-1zM3 18h1v1h-1zM28 18h1v1h-1zM35 18h1v1h-1zM58 18h1v1h-1zM39 19h1v1h-1zM58 19h1v1h-1zM3 20h1v1h-1zM30 20h1v1h-1zM32 20h1v1h-1zM39 20h1v1h-1zM43 20h1v1h-1zM48 20h1v1h-1zM42 21h1v1h-1zM47 21h1v1h-1zM31 22h1v1h-1zM49 22h1v1h-1zM53 22h1v1h-1zM55 22h1v1h-1zM41 23h2v1h-2zM49 23h1v1h-1zM52 23h1v1h-1zM18 25h1v1h-1zM6 27h1v1h-1zM9 27h1v1h-1zM25 28h1v1h-1zM54 28h1v1h-1zM23 29h1v1h-1zM34 29h1v1h-1zM24 30h1v1h-1zM14 32h2v1h-2z"/><path fill="#550000" d="M51 3h1v1h-1zM32 9h1v1h-1zM54 11h1v1h-1zM50 12h1v1h-1zM55 12h1v1h-1zM55 13h2v1h-2zM28 14h1v1h-1zM34 14h1v1h-1zM12 15h1v1h-1zM47 15h1v1h-1zM27 16h1v1h-1zM35 16h1v1h-1zM57 16h1v1h-1zM22 17h1v1h-1zM47 17h1v1h-1zM34 18h1v1h-1zM57 18h1v1h-1zM31 20h1v1h-1zM49 20h1v1h-1zM56 20h1v1h-1zM49 21h1v1h-1zM54 21h1v1h-1zM51 22h2v1h-2zM49 29h1v1h-1z"/><path fill="#6a0000" d="M52 11h1v1h-1zM32 13h1v1h-1zM49 13h1v1h-1zM10 14h1v1h-1zM47 14h1v1h-1zM56 14h1v1h-1zM57 15h1v1h-1zM47 16h1v1h-1zM57 17h1v1h-1zM33 19h1v1h-1zM46 19h1v1h-1zM56 19h1v1h-1zM55 20h1v1h-1zM50 21h3v1h-3z"/><path fill="#800000" d="M54 12h1v1h-1zM48 14h1v1h-1zM28 15h1v1h-1zM12 16h1v1h-1zM56 16h1v1h-1zM12 17h1v1h-1zM56 17h1v1h-1zM48 18h1v1h-1zM29 19h1v1h-1zM48 19h2v1h-2zM54 20h1v1h-1zM53 21h1v1h-1z"/><path fill="#950000" d="M53 12h1v1h-1zM50 13h1v1h-1zM29 14h1v1h-1zM56 15h1v1h-1zM28 17h1v1h-1zM48 17h1v1h-1zM49 18h1v1h-1zM50 20h1v1h-1zM53 20h1v1h-1z"/><path fill="#aa0000" d="M51 12h2v1h-2zM30 13h2v1h-2zM49 14h1v1h-1zM55 14h1v1h-1zM34 15h1v1h-1zM48 15h1v1h-1zM34 16h1v1h-1zM48 16h1v1h-1zM8 17h1v1h-1zM56 18h1v1h-1zM31 19h1v1h-1zM55 19h1v1h-1z"/><path fill="#bf0000" d="M51 13h2v1h-2zM54 13h1v1h-1zM33 14h1v1h-1zM49 15h1v1h-1zM55 15h1v1h-1zM34 17h1v1h-1zM55 18h1v1h-1zM32 19h1v1h-1zM51 20h1v1h-1z"/><path fill="#d40000" d="M53 13h1v1h-1zM50 14h1v1h-1zM33 15h1v1h-1zM8 16h1v1h-1zM28 16h1v1h-1zM49 16h1v1h-1zM55 16h1v1h-1zM30 19h1v1h-1zM52 20h1v1h-1z"/><path fill="#ea0000" d="M30 14h1v1h-1zM29 15h1v1h-1zM49 17h1v1h-1zM9 18h1v1h-1zM11 18h1v1h-1zM29 18h1v1h-1zM52 19h1v1h-1zM54 19h1v1h-1z"/><path fill="#ff0000" d="M50 15h1v1h-1zM50 16h1v1h-1zM54 17h1v1h-1zM33 18h1v1h-1zM50 18h3v1h-3zM50 19h1v1h-1z"/><path fill="#ff1500" d="M32 14h1v1h-1zM51 14h4v1h-4zM54 15h1v1h-1zM54 16h1v1h-1zM50 17h1v1h-1zM55 17h1v1h-1zM10 18h1v1h-1zM51 19h1v1h-1zM53 19h1v1h-1z"/><path fill="#ff2a00" d="M31 14h1v1h-1zM9 15h1v1h-1zM51 15h1v1h-1zM53 15h1v1h-1zM54 18h1v1h-1z"/><path fill="#ff4000" d="M52 15h1v1h-1zM29 16h1v1h-1zM29 17h1v1h-1zM33 17h1v1h-1zM53 18h1v1h-1z"/><path fill="#ff5500" d="M11 15h1v1h-1zM51 16h2v1h-2zM51 17h1v1h-1z"/><path fill="#ff6a00" d="M33 16h1v1h-1zM53 16h1v1h-1zM30 18h1v1h-1z"/><path fill="#ff8000" d="M32 18h1v1h-1z"/><path fill="#ff9500" d="M52 17h1v1h-1z"/><path fill="#ffaa00" d="M53 17h1v1h-1z"/><path fill="#ffbf00" d="M31 18h1v1h-1z"/><path fill="#ffd400" d="M31 15h1v1h-1z"/><path fill="#ffea00" d="M32 15h1v1h-1z"/><path fill="#ffff00" d="M10 15h1v1h-1zM30 15h1v1h-1z"/><path fill="#ffff20" d="M32 17h1v1h-1z"/><path fill="#ffff40" d="M30 16h1v1h-1z"/><path fill="#ffff60" d="M9 17h1v1h-1z"/><path fill="#ffff80" d="M32 16h1v1h-1zM11 17h1v1h-1zM31 17h1v1h-1z"/><path fill="#ffff9f" d="M30 17h1v1h-1z"/><path fill="#ffffbf" d="M11 16h1v1h-1z"/><path fill="#ffffff" d="M9 16h2v1h-2zM31 16h1v1h-1zM10 17h1v1h-1z"/></g><g transform="translate(38 357.5) scale(5)" shape-rendering="crispEdges"><rect x="0" y="0" width="64" height="34" fill="#000"/><path fill="#2a0000" d="M1 0h1v1h-1zM28 0h2v1h-2zM35 0h1v1h-1zM43 0h1v1h-1zM47 0h1v1h-1zM23 1h1v1h-1zM47 1h1v1h-1zM58 1h1v1h-1zM63 1h1v1h-1zM4 2h1v1h-1zM23 2h1v1h-1zM54 2h1v1h-1zM59 2h1v1h-1zM3 3h1v1h-1zM31 3h1v1h-1zM42 3h1v1h-1zM49 3h1v1h-1zM2 4h1v1h-1zM18 4h1v1h-1zM7 5h1v1h-1zM19 5h1v1h-1zM26 5h1v1h-1zM51 5h1v1h-1zM4 6h1v1h-1zM12 6h1v1h-1zM36 6h1v1h-1zM58 6h1v1h-1zM21 7h1v1h-1zM41 7h1v1h-1zM49 7h1v1h-1zM19 8h1v1h-1zM45 8h1v1h-1zM23 9h1v1h-1zM38 9h2v1h-2zM55 9h1v1h-1zM34 10h3v1h-3zM38 10h1v1h-1zM50 10h1v1h-1zM52 10h1v1h-1zM1 11h1v1h-1zM29 11h1v1h-1zM33 11h1v1h-1zM39 11h1v1h-1zM49 11h1v1h-1zM56 11h1v1h-1zM58 11h1v1h-1zM20 12h1v1h-1zM31 12h1v1h-1zM41 12h1v1h-1zM55 12h1v1h-1zM2 13h1v1h-1zM6 13h1v1h-1zM23 13h1v1h-1zM34 13h1v1h-1zM43 13h1v1h-1zM47 13h1v1h-1zM59 13h1v1h-1zM13 14h1v1h-1zM18 14h1v1h-1zM35 14h1v1h-1zM45 14h1v1h-1zM59 14h1v1h-1zM8 15h1v1h-1zM46 15h1v1h-1zM58 15h1v1h-1zM13 16h1v1h-1zM27 16h1v1h-1zM35 16h1v1h-1zM39 16h1v1h-1zM45 16h1v1h-1zM59 16h1v1h-1zM19 17h2v1h-2zM41 17h1v1h-1zM43 17h1v1h-1zM46 17h1v1h-1zM5 18h1v1h-1zM8 18h1v1h-1zM12 18h1v1h-1zM17 18h1v1h-1zM26 18h1v1h-1zM39 18h1v1h-1zM46 18h1v1h-1zM58 18h1v1h-1zM10 19h1v1h-1zM28 19h1v1h-1zM35 19h1v1h-1zM57 19h2v1h-2zM12 20h1v1h-1zM29 20h2v1h-2zM33 20h1v1h-1zM41 20h2v1h-2zM47 20h1v1h-1zM57 20h2v1h-2zM28 21h1v1h-1zM39 21h1v1h-1zM44 21h1v1h-1zM48 21h2v1h-2zM56 21h3v1h-3zM26 22h1v1h-1zM31 22h1v1h-1zM33 22h1v1h-1zM43 22h1v1h-1zM50 22h1v1h-1zM52 22h1v1h-1zM54 22h2v1h-2zM3 23h1v1h-1zM41 23h1v1h-1zM43 23h1v1h-1zM53 23h2v1h-2zM63 23h1v1h-1zM12 24h2v1h-2zM31 24h1v1h-1zM40 24h2v1h-2zM47 24h1v1h-1zM12 25h1v1h-1zM3 26h1v1h-1zM22 26h1v1h-1zM46 26h1v1h-1zM6 27h1v1h-1zM11 27h1v1h-1zM53 27h1v1h-1zM60 28h1v1h-1zM43 29h1v1h-1zM30 30h1v1h-1zM47 31h1v1h-1zM15 32h1v1h-1zM29 32h1v1h-1zM0 33h1v1h-1zM11 33h1v1h-1zM13 33h1v1h-1zM31 33h1v1h-1z"/><path fill="#400000" d="M60 0h1v1h-1zM39 1h1v1h-1zM46 1h1v1h-1zM16 2h1v1h-1zM25 2h1v1h-1zM40 3h1v1h-1zM5 5h1v1h-1zM36 5h1v1h-1zM48 6h1v1h-1zM52 7h1v1h-1zM59 7h1v1h-1zM43 8h1v1h-1zM50 8h1v1h-1zM54 10h1v1h-1zM6 11h1v1h-1zM9 11h1v1h-1zM20 11h1v1h-1zM48 11h1v1h-1zM50 11h2v1h-2zM54 11h2v1h-2zM29 12h1v1h-1zM48 12h2v1h-2zM11 13h1v1h-1zM29 13h1v1h-1zM33 13h1v1h-1zM46 13h1v1h-1zM48 13h1v1h-1zM57 13h1v1h-1zM9 14h1v1h-1zM11 14h1v1h-1zM34 14h1v1h-1zM57 14h1v1h-1zM60 14h1v1h-1zM12 15h1v1h-1zM27 15h1v1h-1zM35 15h1v1h-1zM37 16h1v1h-1zM57 16h2v1h-2zM22 17h1v1h-1zM35 17h1v1h-1zM45 17h1v1h-1zM57 17h1v1h-1zM27 18h1v1h-1zM34 19h1v1h-1zM39 19h1v1h-1zM47 19h1v1h-1zM3 20h1v1h-1zM32 20h1v1h-1zM43 20h1v1h-1zM48 20h1v1h-1zM56 20h1v1h-1zM9 21h1v1h-1zM33 21h1v1h-1zM49 22h1v1h-1zM53 22h1v1h-1zM5 23h1v1h-1zM19 25h1v1h-1zM9 27h1v1h-1zM44 29h1v1h-1zM43 31h1v1h-1zM14 32h1v1h-1zM57 33h1v1h-1z"/><path fill="#550000" d="M52 11h2v1h-2zM30 12h1v1h-1zM33 12h1v1h-1zM56 13h1v1h-1zM10 14h1v1h-1zM28 14h1v1h-1zM56 14h1v1h-1zM58 14h1v1h-1zM57 15h1v1h-1zM46 16h1v1h-1zM12 17h1v1h-1zM27 17h1v1h-1zM47 17h1v1h-1zM58 17h1v1h-1zM3 18h1v1h-1zM28 18h1v1h-1zM35 18h1v1h-1zM47 18h1v1h-1zM56 18h2v1h-2zM46 19h1v1h-1zM31 20h1v1h-1zM55 20h1v1h-1zM50 21h2v1h-2zM54 21h2v1h-2zM51 22h1v1h-1zM54 28h1v1h-1z"/><path fill="#6a0000" d="M50 12h1v1h-1zM52 12h1v1h-1zM54 12h1v1h-1zM54 13h1v1h-1zM33 14h1v1h-1zM47 14h2v1h-2zM47 15h1v1h-1zM12 16h1v1h-1zM47 16h1v1h-1zM34 18h1v1h-1zM48 18h1v1h-1zM49 19h1v1h-1zM56 19h1v1h-1zM49 20h2v1h-2zM52 21h2v1h-2z"/><path fill="#800000" d="M56 12h1v1h-1zM30 13h1v1h-1zM32 13h1v1h-1zM49 13h1v1h-1zM49 14h1v1h-1zM28 15h1v1h-1zM34 15h1v1h-1zM48 15h1v1h-1zM56 15h1v1h-1zM28 17h1v1h-1zM48 17h1v1h-1zM29 19h1v1h-1zM33 19h1v1h-1zM48 19h1v1h-1zM51 20h1v1h-1zM53 20h2v1h-2z"/><path fill="#950000" d="M51 12h1v1h-1zM50 13h1v1h-1zM53 13h1v1h-1zM55 13h1v1h-1zM55 14h1v1h-1zM49 15h1v1h-1zM34 16h1v1h-1zM34 17h1v1h-1zM55 18h1v1h-1zM32 19h1v1h-1zM50 19h1v1h-1zM54 19h1v1h-1z"/><path fill="#aa0000" d="M53 12h1v1h-1zM31 13h1v1h-1zM51 13h2v1h-2zM29 14h1v1h-1zM52 14h1v1h-1zM50 15h1v1h-1zM55 15h1v1h-1zM28 16h1v1h-1zM48 16h1v1h-1zM56 16h1v1h-1zM56 17h1v1h-1zM30 19h1v1h-1z"/><path fill="#bf0000" d="M54 14h1v1h-1zM8 16h1v1h-1zM55 17h1v1h-1zM11 18h1v1h-1zM50 18h1v1h-1zM53 19h1v1h-1zM55 19h1v1h-1z"/><path fill="#d40000" d="M50 14h2v1h-2zM8 17h1v1h-1zM49 17h1v1h-1zM53 17h1v1h-1zM9 18h1v1h-1zM29 18h1v1h-1zM49 18h1v1h-1zM54 18h1v1h-1zM51 19h2v1h-2z"/><path fill="#ea0000" d="M32 14h1v1h-1zM53 14h1v1h-1zM52 15h2v1h-2zM50 16h1v1h-1zM54 16h2v1h-2zM50 17h1v1h-1zM53 18h1v1h-1zM31 19h1v1h-1zM52 20h1v1h-1z"/><path fill="#ff0000" d="M30 14h2v1h-2zM54 15h1v1h-1zM49 16h1v1h-1zM33 18h1v1h-1zM51 18h2v1h-2z"/><path fill="#ff1500" d="M29 15h1v1h-1zM51 17h1v1h-1zM54 17h1v1h-1z"/><path fill="#ff2a00" d="M9 15h1v1h-1zM33 15h1v1h-1zM51 15h1v1h-1zM51 16h1v1h-1zM53 16h1v1h-1zM33 17h1v1h-1z"/><path fill="#ff4000" d="M30 15h1v1h-1z"/><path fill="#ff5500" d="M29 16h1v1h-1zM52 16h1v1h-1zM52 17h1v1h-1zM10 18h1v1h-1z"/><path fill="#ff6a00" d="M29 17h1v1h-1z"/><path fill="#ff8000" d="M30 18h1v1h-1zM32 18h1v1h-1z"/><path fill="#ff9500" d="M11 15h1v1h-1zM33 16h1v1h-1z"/><path fill="#ffbf00" d="M32 15h1v1h-1z"/><path fill="#ffd400" d="M10 15h1v1h-1z"/><path fill="#ffff00" d="M31 18h1v1h-1z"/><path fill="#ffff20" d="M30 16h1v1h-1z"/><path fill="#ffff40" d="M31 15h1v1h-1zM30 17h1v1h-1z"/><path fill="#ffff60" d="M32 16h1v1h-1zM31 17h2v1h-2z"/><path fill="#ffff80" d="M11 17h1v1h-1z"/><path fill="#ffff9f" d="M9 17h1v1h-1z"/><path fill="#ffffff" d="M9 16h3v1h-3zM31 16h1v1h-1zM10 17h1v1h-1z"/></g><g transform="translate(38 534) scale(5)" shape-rendering="crispEdges"><rect x="0" y="0" width="64" height="34" fill="#000"/><path fill="#2a0000" d="M10 0h1v1h-1zM29 0h1v1h-1zM40 0h1v1h-1zM15 1h1v1h-1zM39 1h1v1h-1zM44 2h1v1h-1zM54 2h1v1h-1zM14 3h3v1h-3zM50 3h1v1h-1zM2 4h1v1h-1zM15 4h1v1h-1zM20 4h1v1h-1zM28 4h1v1h-1zM5 5h1v1h-1zM19 5h1v1h-1zM15 6h1v1h-1zM17 6h1v1h-1zM28 6h1v1h-1zM62 6h1v1h-1zM8 7h1v1h-1zM21 7h1v1h-1zM24 7h1v1h-1zM39 7h1v1h-1zM41 7h1v1h-1zM53 7h1v1h-1zM43 8h1v1h-1zM22 9h1v1h-1zM32 9h1v1h-1zM39 9h1v1h-1zM55 9h1v1h-1zM59 9h1v1h-1zM13 10h1v1h-1zM22 10h1v1h-1zM32 10h3v1h-3zM38 10h1v1h-1zM14 11h1v1h-1zM39 11h1v1h-1zM47 11h2v1h-2zM52 11h1v1h-1zM57 11h1v1h-1zM3 12h1v1h-1zM30 12h1v1h-1zM63 12h1v1h-1zM29 13h1v1h-1zM50 13h1v1h-1zM54 13h1v1h-1zM29 14h1v1h-1zM34 14h1v1h-1zM50 14h2v1h-2zM53 14h3v1h-3zM58 14h1v1h-1zM1 15h1v1h-1zM35 15h1v1h-1zM48 15h1v1h-1zM56 15h2v1h-2zM63 15h1v1h-1zM35 16h1v1h-1zM37 16h2v1h-2zM47 16h1v1h-1zM57 16h1v1h-1zM62 16h1v1h-1zM22 17h1v1h-1zM41 17h1v1h-1zM48 17h1v1h-1zM58 17h1v1h-1zM3 18h1v1h-1zM8 18h1v1h-1zM12 18h1v1h-1zM39 18h1v1h-1zM61 18h1v1h-1zM4 19h1v1h-1zM10 19h1v1h-1zM23 19h1v1h-1zM29 19h1v1h-1zM32 19h2v1h-2zM46 19h1v1h-1zM52 19h2v1h-2zM42 20h2v1h-2zM5 21h1v1h-1zM27 21h2v1h-2zM42 21h1v1h-1zM44 21h1v1h-1zM5 22h1v1h-1zM10 22h1v1h-1zM25 22h1v1h-1zM50 22h1v1h-1zM55 22h1v1h-1zM5 23h1v1h-1zM14 23h1v1h-1zM41 23h1v1h-1zM54 23h1v1h-1zM3 24h1v1h-1zM23 24h1v1h-1zM26 24h1v1h-1zM32 24h1v1h-1zM35 24h1v1h-1zM56 24h1v1h-1zM12 25h1v1h-1zM16 25h1v1h-1zM18 25h1v1h-1zM28 25h1v1h-1zM47 25h1v1h-1zM3 26h1v1h-1zM23 26h1v1h-1zM26 26h1v1h-1zM39 26h1v1h-1zM46 26h1v1h-1zM52 26h1v1h-1zM62 26h1v1h-1zM20 27h1v1h-1zM52 28h1v1h-1zM59 28h1v1h-1zM18 29h1v1h-1zM27 29h1v1h-1zM44 29h1v1h-1zM49 29h2v1h-2zM34 30h1v1h-1zM51 30h1v1h-1zM15 31h1v1h-1zM56 31h1v1h-1zM14 32h1v1h-1zM59 32h1v1h-1zM28 33h1v1h-1zM37 33h1v1h-1zM40 33h1v1h-1zM42 33h1v1h-1zM45 33h1v1h-1zM57 33h1v1h-1z"/><path fill="#400000" d="M19 0h1v1h-1zM28 0h1v1h-1zM23 2h1v1h-1zM51 3h1v1h-1zM34 5h1v1h-1zM51 5h1v1h-1zM37 6h1v1h-1zM58 6h1v1h-1zM3 7h1v1h-1zM12 9h1v1h-1zM52 9h1v1h-1zM15 11h1v1h-1zM33 12h1v1h-1zM56 12h1v1h-1zM11 13h1v1h-1zM43 13h1v1h-1zM9 14h2v1h-2zM30 14h1v1h-1zM33 14h1v1h-1zM35 14h1v1h-1zM48 14h1v1h-1zM52 14h1v1h-1zM60 14h1v1h-1zM8 15h1v1h-1zM12 15h1v1h-1zM49 15h1v1h-1zM54 15h1v1h-1zM27 16h1v1h-1zM48 16h1v1h-1zM27 17h1v1h-1zM35 17h1v1h-1zM56 17h2v1h-2zM28 18h1v1h-1zM35 18h1v1h-1zM46 18h1v1h-1zM51 18h1v1h-1zM53 18h3v1h-3zM58 18h1v1h-1zM17 19h1v1h-1zM30 19h1v1h-1zM34 19h1v1h-1zM39 19h1v1h-1zM55 19h1v1h-1zM60 19h1v1h-1zM27 20h1v1h-1zM52 20h1v1h-1zM2 21h1v1h-1zM39 21h1v1h-1zM43 23h1v1h-1zM41 24h1v1h-1zM19 25h1v1h-1zM6 27h1v1h-1zM18 27h1v1h-1zM54 28h1v1h-1zM40 31h1v1h-1zM13 33h1v1h-1z"/><path fill="#550000" d="M52 7h1v1h-1zM50 8h1v1h-1zM31 13h1v1h-1zM11 14h1v1h-1zM28 15h1v1h-1zM51 15h1v1h-1zM55 15h1v1h-1zM55 16h2v1h-2zM12 17h1v1h-1zM34 17h1v1h-1zM34 18h1v1h-1zM49 18h2v1h-2zM52 18h1v1h-1zM31 19h1v1h-1zM51 19h1v1h-1z"/><path fill="#6a0000" d="M31 14h2v1h-2zM52 15h2v1h-2zM49 16h2v1h-2zM49 17h2v1h-2zM53 17h1v1h-1zM55 17h1v1h-1z"/><path fill="#800000" d="M50 15h1v1h-1zM12 16h1v1h-1zM51 16h4v1h-4z"/><path fill="#950000" d="M34 15h1v1h-1zM28 17h1v1h-1zM51 17h2v1h-2zM54 17h1v1h-1zM29 18h1v1h-1z"/><path fill="#aa0000" d="M29 15h1v1h-1zM8 16h1v1h-1zM9 18h1v1h-1z"/><path fill="#bf0000" d="M33 15h1v1h-1zM34 16h1v1h-1zM8 17h1v1h-1zM30 18h1v1h-1zM33 18h1v1h-1z"/><path fill="#d40000" d="M28 16h1v1h-1zM32 18h1v1h-1z"/><path fill="#ea0000" d="M9 15h1v1h-1zM11 18h1v1h-1z"/><path fill="#ff0000" d="M32 15h1v1h-1zM33 17h1v1h-1z"/><path fill="#ff1500" d="M33 16h1v1h-1z"/><path fill="#ff2a00" d="M30 15h1v1h-1zM10 18h1v1h-1zM31 18h1v1h-1z"/><path fill="#ff4000" d="M29 16h1v1h-1zM29 17h1v1h-1z"/><path fill="#ff5500" d="M11 15h1v1h-1z"/><path fill="#ff6a00" d="M31 15h1v1h-1z"/><path fill="#ff8000" d="M32 17h1v1h-1z"/><path fill="#ffaa00" d="M32 16h1v1h-1z"/><path fill="#ffbf00" d="M10 15h1v1h-1z"/><path fill="#ffd400" d="M30 16h1v1h-1zM30 17h1v1h-1z"/><path fill="#ffff00" d="M9 17h1v1h-1z"/><path fill="#ffff20" d="M31 16h1v1h-1zM11 17h1v1h-1z"/><path fill="#ffff40" d="M31 17h1v1h-1z"/><path fill="#ffffdf" d="M9 16h1v1h-1z"/><path fill="#ffffff" d="M10 16h2v1h-2zM10 17h1v1h-1z"/></g><g transform="translate(38 711) scale(5)" shape-rendering="crispEdges"><rect x="0" y="0" width="64" height="34" fill="#000"/><path fill="#2a0000" d="M2 1h1v1h-1zM4 1h1v1h-1zM6 1h2v1h-2zM13 1h1v1h-1zM40 1h1v1h-1zM48 1h1v1h-1zM52 1h1v1h-1zM4 2h1v1h-1zM16 2h1v1h-1zM47 2h1v1h-1zM59 2h1v1h-1zM7 3h1v1h-1zM13 3h1v1h-1zM19 3h1v1h-1zM51 3h1v1h-1zM58 3h1v1h-1zM6 4h2v1h-2zM18 4h1v1h-1zM28 4h1v1h-1zM48 4h1v1h-1zM53 4h1v1h-1zM13 5h1v1h-1zM26 5h1v1h-1zM31 5h1v1h-1zM34 5h1v1h-1zM36 5h1v1h-1zM40 5h2v1h-2zM47 5h1v1h-1zM15 6h1v1h-1zM17 6h1v1h-1zM22 6h1v1h-1zM28 6h1v1h-1zM38 6h1v1h-1zM40 6h1v1h-1zM47 6h1v1h-1zM60 6h1v1h-1zM0 7h1v1h-1zM3 7h1v1h-1zM6 7h1v1h-1zM13 7h1v1h-1zM21 7h2v1h-2zM24 7h1v1h-1zM38 7h2v1h-2zM48 7h2v1h-2zM52 7h1v1h-1zM59 7h1v1h-1zM7 8h1v1h-1zM13 8h2v1h-2zM39 8h1v1h-1zM47 8h1v1h-1zM50 8h1v1h-1zM56 8h1v1h-1zM7 9h1v1h-1zM47 9h2v1h-2zM6 10h1v1h-1zM14 10h1v1h-1zM25 10h1v1h-1zM33 10h1v1h-1zM36 10h1v1h-1zM38 10h1v1h-1zM48 10h1v1h-1zM50 10h1v1h-1zM1 11h1v1h-1zM7 11h1v1h-1zM14 11h1v1h-1zM48 11h1v1h-1zM56 11h1v1h-1zM7 12h1v1h-1zM13 12h1v1h-1zM29 12h1v1h-1zM47 12h1v1h-1zM50 12h1v1h-1zM53 12h2v1h-2zM3 13h1v1h-1zM5 13h2v1h-2zM29 13h1v1h-1zM32 13h1v1h-1zM40 13h1v1h-1zM49 13h1v1h-1zM63 13h1v1h-1zM15 14h1v1h-1zM28 14h1v1h-1zM35 14h1v1h-1zM37 14h2v1h-2zM55 14h1v1h-1zM58 14h1v1h-1zM7 15h1v1h-1zM13 15h2v1h-2zM22 15h1v1h-1zM35 15h1v1h-1zM40 15h1v1h-1zM56 15h1v1h-1zM26 16h2v1h-2zM35 16h1v1h-1zM37 16h1v1h-1zM39 16h2v1h-2zM62 16h1v1h-1zM6 17h1v1h-1zM14 17h1v1h-1zM22 17h1v1h-1zM35 17h1v1h-1zM38 17h1v1h-1zM27 18h1v1h-1zM39 18h1v1h-1zM48 18h1v1h-1zM56 18h1v1h-1zM62 18h1v1h-1zM5 19h3v1h-3zM14 19h1v1h-1zM23 19h1v1h-1zM28 19h1v1h-1zM34 19h1v1h-1zM38 19h1v1h-1zM56 19h1v1h-1zM7 20h1v1h-1zM13 20h1v1h-1zM27 20h1v1h-1zM31 20h1v1h-1zM33 20h1v1h-1zM36 20h1v1h-1zM38 20h1v1h-1zM40 20h1v1h-1zM48 20h1v1h-1zM62 20h1v1h-1zM5 21h1v1h-1zM13 21h1v1h-1zM39 21h3v1h-3zM51 21h2v1h-2zM13 22h1v1h-1zM20 22h2v1h-2zM26 22h1v1h-1zM47 22h1v1h-1zM51 22h1v1h-1zM3 23h1v1h-1zM6 23h2v1h-2zM13 23h1v1h-1zM39 23h1v1h-1zM47 23h1v1h-1zM52 23h1v1h-1zM61 23h1v1h-1zM27 24h1v1h-1zM29 24h1v1h-1zM32 24h1v1h-1zM56 24h1v1h-1zM13 25h1v1h-1zM18 25h1v1h-1zM48 25h1v1h-1zM50 25h1v1h-1zM52 25h1v1h-1zM3 26h1v1h-1zM7 26h1v1h-1zM13 26h1v1h-1zM22 26h1v1h-1zM48 26h1v1h-1zM58 26h1v1h-1zM13 27h2v1h-2zM23 27h1v1h-1zM39 27h1v1h-1zM47 27h2v1h-2zM60 27h1v1h-1zM7 28h1v1h-1zM39 28h2v1h-2zM47 28h2v1h-2zM4 29h1v1h-1zM34 29h1v1h-1zM38 29h2v1h-2zM59 29h1v1h-1zM7 30h1v1h-1zM31 30h1v1h-1zM39 30h2v1h-2zM47 30h1v1h-1zM55 30h1v1h-1zM7 31h1v1h-1zM13 31h1v1h-1zM15 31h1v1h-1zM33 31h1v1h-1zM39 31h1v1h-1zM46 31h1v1h-1zM15 32h1v1h-1zM37 32h1v1h-1zM39 32h2v1h-2zM53 32h1v1h-1zM7 33h1v1h-1zM20 33h1v1h-1zM37 33h1v1h-1z"/><path fill="#400000" d="M12 0h2v1h-2zM29 0h1v1h-1zM40 0h1v1h-1zM46 0h1v1h-1zM23 1h1v1h-1zM41 1h1v1h-1zM7 2h1v1h-1zM13 2h1v1h-1zM14 3h1v1h-1zM41 3h1v1h-1zM47 3h1v1h-1zM14 4h1v1h-1zM40 4h2v1h-2zM46 4h2v1h-2zM5 5h1v1h-1zM9 5h1v1h-1zM19 5h1v1h-1zM42 5h1v1h-1zM51 5h1v1h-1zM6 6h2v1h-2zM13 6h1v1h-1zM16 6h1v1h-1zM7 7h1v1h-1zM40 7h1v1h-1zM40 8h1v1h-1zM13 9h1v1h-1zM40 9h1v1h-1zM12 10h2v1h-2zM40 10h1v1h-1zM47 10h1v1h-1zM6 11h1v1h-1zM33 11h1v1h-1zM24 12h1v1h-1zM31 12h1v1h-1zM7 13h1v1h-1zM13 13h1v1h-1zM38 13h1v1h-1zM54 13h1v1h-1zM34 14h1v1h-1zM40 14h1v1h-1zM46 14h1v1h-1zM48 14h1v1h-1zM56 14h1v1h-1zM41 15h1v1h-1zM48 15h1v1h-1zM13 17h1v1h-1zM28 17h1v1h-1zM41 17h1v1h-1zM47 17h2v1h-2zM3 18h1v1h-1zM7 18h1v1h-1zM13 18h1v1h-1zM40 18h1v1h-1zM47 18h1v1h-1zM55 18h1v1h-1zM61 18h1v1h-1zM29 19h1v1h-1zM33 19h1v1h-1zM47 19h4v1h-4zM60 19h1v1h-1zM3 20h1v1h-1zM30 20h1v1h-1zM32 20h1v1h-1zM39 20h1v1h-1zM47 20h1v1h-1zM51 20h1v1h-1zM53 20h2v1h-2zM12 21h1v1h-1zM18 21h1v1h-1zM33 21h1v1h-1zM47 21h1v1h-1zM7 22h2v1h-2zM40 22h1v1h-1zM5 23h1v1h-1zM14 23h1v1h-1zM48 23h1v1h-1zM7 24h1v1h-1zM7 25h2v1h-2zM40 25h1v1h-1zM47 25h1v1h-1zM8 26h1v1h-1zM12 26h1v1h-1zM39 26h2v1h-2zM6 27h2v1h-2zM12 27h1v1h-1zM40 27h2v1h-2zM13 28h1v1h-1zM54 28h1v1h-1zM6 29h2v1h-2zM11 29h1v1h-1zM13 29h1v1h-1zM40 29h1v1h-1zM47 29h1v1h-1zM49 29h1v1h-1zM8 30h1v1h-1zM14 30h1v1h-1zM47 31h1v1h-1zM6 32h2v1h-2zM42 32h1v1h-1zM46 32h1v1h-1zM48 32h1v1h-1zM59 32h1v1h-1zM6 33h1v1h-1zM8 33h1v1h-1zM57 33h1v1h-1z"/><path fill="#550000" d="M7 0h2v1h-2zM43 0h1v1h-1zM45 0h1v1h-1zM47 0h1v1h-1zM47 1h1v1h-1zM11 2h1v1h-1zM40 2h2v1h-2zM43 2h1v1h-1zM46 2h1v1h-1zM8 3h1v1h-1zM12 3h1v1h-1zM46 3h1v1h-1zM8 4h1v1h-1zM13 4h1v1h-1zM7 5h2v1h-2zM11 5h2v1h-2zM37 6h1v1h-1zM8 7h2v1h-2zM47 7h1v1h-1zM41 8h1v1h-1zM39 9h1v1h-1zM7 10h1v1h-1zM41 10h1v1h-1zM40 11h2v1h-2zM47 11h1v1h-1zM52 11h1v1h-1zM30 12h1v1h-1zM41 12h2v1h-2zM56 12h1v1h-1zM8 13h1v1h-1zM30 13h1v1h-1zM41 13h1v1h-1zM46 13h2v1h-2zM50 13h3v1h-3zM7 14h2v1h-2zM49 14h1v1h-1zM28 15h1v1h-1zM44 15h1v1h-1zM46 15h2v1h-2zM7 16h1v1h-1zM34 16h1v1h-1zM41 16h1v1h-1zM47 16h2v1h-2zM7 17h1v1h-1zM40 17h1v1h-1zM46 17h1v1h-1zM56 17h1v1h-1zM34 18h1v1h-1zM41 18h1v1h-1zM39 19h2v1h-2zM52 19h1v1h-1zM54 19h1v1h-1zM45 20h1v1h-1zM52 20h1v1h-1zM7 21h1v1h-1zM31 22h1v1h-1zM8 23h1v1h-1zM11 23h1v1h-1zM40 23h1v1h-1zM45 23h1v1h-1zM46 24h2v1h-2zM46 25h1v1h-1zM45 27h2v1h-2zM12 28h1v1h-1zM12 29h1v1h-1zM34 30h1v1h-1zM8 31h1v1h-1zM40 31h1v1h-1zM8 32h1v1h-1zM12 32h1v1h-1zM14 32h1v1h-1zM47 32h1v1h-1zM40 33h1v1h-1z"/><path fill="#6a0000" d="M41 0h2v1h-2zM8 1h1v1h-1zM11 1h1v1h-1zM45 1h1v1h-1zM8 2h1v1h-1zM45 2h1v1h-1zM40 3h1v1h-1zM12 4h1v1h-1zM45 5h2v1h-2zM41 6h1v1h-1zM11 7h1v1h-1zM41 7h2v1h-2zM46 7h1v1h-1zM8 8h5v1h-5zM41 9h1v1h-1zM8 10h2v1h-2zM46 10h1v1h-1zM12 11h1v1h-1zM42 11h1v1h-1zM46 11h1v1h-1zM8 12h2v1h-2zM11 12h2v1h-2zM43 12h1v1h-1zM46 12h1v1h-1zM12 13h1v1h-1zM44 13h1v1h-1zM53 13h1v1h-1zM13 14h1v1h-1zM33 14h1v1h-1zM41 14h1v1h-1zM45 14h1v1h-1zM47 14h1v1h-1zM50 14h2v1h-2zM54 14h1v1h-1zM42 15h2v1h-2zM49 15h1v1h-1zM55 15h1v1h-1zM13 16h1v1h-1zM46 16h1v1h-1zM56 16h1v1h-1zM34 17h1v1h-1zM49 17h2v1h-2zM28 18h1v1h-1zM42 18h1v1h-1zM45 18h1v1h-1zM8 19h1v1h-1zM31 19h1v1h-1zM44 19h1v1h-1zM46 19h1v1h-1zM53 19h1v1h-1zM8 20h1v1h-1zM42 20h1v1h-1zM8 21h1v1h-1zM44 21h3v1h-3zM46 22h1v1h-1zM44 23h1v1h-1zM46 23h1v1h-1zM8 24h1v1h-1zM11 24h2v1h-2zM40 24h6v1h-6zM9 25h1v1h-1zM41 25h1v1h-1zM10 26h2v1h-2zM15 26h1v1h-1zM41 26h1v1h-1zM45 26h3v1h-3zM42 27h1v1h-1zM41 28h2v1h-2zM46 28h1v1h-1zM41 29h1v1h-1zM44 29h1v1h-1zM46 29h1v1h-1zM42 30h1v1h-1zM44 30h3v1h-3zM12 31h1v1h-1zM41 31h1v1h-1zM13 32h1v1h-1zM41 32h1v1h-1zM44 32h1v1h-1zM10 33h1v1h-1zM12 33h2v1h-2zM41 33h1v1h-1z"/><path fill="#800000" d="M9 1h1v1h-1zM46 1h1v1h-1zM12 2h1v1h-1zM44 2h1v1h-1zM11 3h1v1h-1zM43 3h1v1h-1zM45 3h1v1h-1zM9 4h1v1h-1zM11 4h1v1h-1zM44 4h1v1h-1zM44 5h1v1h-1zM8 6h1v1h-1zM12 6h1v1h-1zM42 6h1v1h-1zM46 6h1v1h-1zM10 7h1v1h-1zM12 7h1v1h-1zM44 8h1v1h-1zM9 9h1v1h-1zM11 9h2v1h-2zM42 9h1v1h-1zM44 9h1v1h-1zM10 10h1v1h-1zM42 10h1v1h-1zM45 10h1v1h-1zM8 11h1v1h-1zM11 11h1v1h-1zM44 11h1v1h-1zM45 12h1v1h-1zM31 13h1v1h-1zM45 13h1v1h-1zM30 14h1v1h-1zM42 14h1v1h-1zM8 15h1v1h-1zM45 15h1v1h-1zM54 15h1v1h-1zM42 16h1v1h-1zM42 17h1v1h-1zM54 17h1v1h-1zM44 18h1v1h-1zM46 18h1v1h-1zM49 18h1v1h-1zM12 19h1v1h-1zM41 19h2v1h-2zM45 19h1v1h-1zM10 20h1v1h-1zM12 20h1v1h-1zM41 20h1v1h-1zM46 20h1v1h-1zM9 21h1v1h-1zM42 21h2v1h-2zM9 22h1v1h-1zM12 22h1v1h-1zM41 22h1v1h-1zM43 22h1v1h-1zM43 23h1v1h-1zM10 25h2v1h-2zM42 25h1v1h-1zM42 26h1v1h-1zM44 26h1v1h-1zM43 27h1v1h-1zM8 28h1v1h-1zM11 28h1v1h-1zM45 28h1v1h-1zM8 29h2v1h-2zM43 29h1v1h-1zM9 30h1v1h-1zM11 30h2v1h-2zM41 30h1v1h-1zM43 30h1v1h-1zM9 31h1v1h-1zM11 31h1v1h-1zM9 32h1v1h-1zM45 32h1v1h-1zM46 33h1v1h-1z"/><path fill="#950000" d="M44 1h1v1h-1zM9 2h1v1h-1zM42 2h1v1h-1zM44 3h1v1h-1zM10 4h1v1h-1zM42 4h2v1h-2zM45 4h1v1h-1zM43 5h1v1h-1zM9 6h1v1h-1zM11 6h1v1h-1zM44 6h1v1h-1zM43 7h3v1h-3zM42 8h1v1h-1zM46 8h1v1h-1zM8 9h1v1h-1zM43 9h1v1h-1zM45 9h2v1h-2zM11 10h1v1h-1zM44 10h1v1h-1zM10 11h1v1h-1zM45 11h1v1h-1zM10 12h1v1h-1zM9 13h1v1h-1zM42 13h2v1h-2zM12 14h1v1h-1zM29 14h1v1h-1zM43 14h1v1h-1zM34 15h1v1h-1zM43 16h3v1h-3zM45 17h1v1h-1zM55 17h1v1h-1zM12 18h1v1h-1zM50 18h1v1h-1zM11 19h1v1h-1zM30 19h1v1h-1zM32 19h1v1h-1zM51 19h1v1h-1zM9 20h1v1h-1zM10 21h1v1h-1zM11 22h1v1h-1zM42 22h1v1h-1zM45 22h1v1h-1zM9 23h1v1h-1zM12 23h1v1h-1zM12 25h1v1h-1zM45 25h1v1h-1zM43 26h1v1h-1zM10 27h1v1h-1zM9 28h1v1h-1zM10 29h1v1h-1zM45 29h1v1h-1zM10 30h1v1h-1zM10 31h1v1h-1zM10 32h2v1h-2zM43 32h1v1h-1zM9 33h1v1h-1zM11 33h1v1h-1zM42 33h4v1h-4z"/><path fill="#aa0000" d="M44 0h1v1h-1zM12 1h1v1h-1zM42 1h2v1h-2zM10 5h1v1h-1zM10 6h1v1h-1zM45 6h1v1h-1zM10 9h1v1h-1zM43 10h1v1h-1zM43 11h1v1h-1zM44 12h1v1h-1zM10 13h2v1h-2zM44 14h1v1h-1zM52 14h2v1h-2zM33 15h1v1h-1zM50 15h1v1h-1zM28 16h1v1h-1zM50 16h1v1h-1zM55 16h1v1h-1zM43 17h1v1h-1zM8 18h1v1h-1zM43 18h1v1h-1zM51 18h4v1h-4zM44 20h1v1h-1zM11 21h1v1h-1zM10 23h1v1h-1zM9 26h1v1h-1zM8 27h1v1h-1zM11 27h1v1h-1zM44 27h1v1h-1zM43 28h1v1h-1zM42 31h1v1h-1z"/><path fill="#bf0000" d="M9 0h1v1h-1zM11 0h1v1h-1zM10 1h1v1h-1zM9 3h2v1h-2zM42 3h1v1h-1zM43 6h1v1h-1zM43 8h1v1h-1zM45 8h1v1h-1zM9 11h1v1h-1zM12 15h1v1h-1zM29 15h1v1h-1zM51 15h1v1h-1zM49 16h1v1h-1zM54 16h1v1h-1zM44 17h1v1h-1zM52 17h1v1h-1zM33 18h1v1h-1zM10 19h1v1h-1zM43 19h1v1h-1zM11 20h1v1h-1zM43 20h1v1h-1zM10 22h1v1h-1zM44 22h1v1h-1zM41 23h1v1h-1zM10 24h1v1h-1zM44 25h1v1h-1zM9 27h1v1h-1zM10 28h1v1h-1zM44 28h1v1h-1zM42 29h1v1h-1zM43 31h1v1h-1zM45 31h1v1h-1z"/><path fill="#d40000" d="M11 14h1v1h-1zM32 14h1v1h-1zM53 15h1v1h-1zM53 16h1v1h-1zM9 19h1v1h-1zM42 23h1v1h-1zM9 24h1v1h-1zM43 25h1v1h-1z"/><path fill="#ea0000" d="M10 0h1v1h-1zM10 2h1v1h-1zM9 14h2v1h-2zM53 17h1v1h-1zM29 18h1v1h-1zM44 31h1v1h-1z"/><path fill="#ff0000" d="M31 14h1v1h-1zM52 15h1v1h-1zM12 16h1v1h-1zM51 16h2v1h-2zM12 17h1v1h-1z"/><path fill="#ff1500" d="M33 16h1v1h-1zM8 17h1v1h-1zM29 17h1v1h-1zM33 17h1v1h-1zM51 17h1v1h-1z"/><path fill="#ff2a00" d="M8 16h1v1h-1zM29 16h1v1h-1zM32 17h1v1h-1zM32 18h1v1h-1z"/><path fill="#ff4000" d="M32 15h1v1h-1zM9 18h1v1h-1zM30 18h1v1h-1z"/><path fill="#ff5500" d="M30 15h2v1h-2zM11 18h1v1h-1zM31 18h1v1h-1z"/><path fill="#ff9500" d="M9 15h1v1h-1zM30 17h1v1h-1z"/><path fill="#ffbf00" d="M32 16h1v1h-1zM10 18h1v1h-1z"/><path fill="#ffff00" d="M11 15h1v1h-1zM30 16h1v1h-1z"/><path fill="#ffff20" d="M31 17h1v1h-1z"/><path fill="#ffff60" d="M31 16h1v1h-1z"/><path fill="#ffff9f" d="M10 15h1v1h-1z"/><path fill="#ffffff" d="M9 16h3v1h-3zM9 17h3v1h-3z"/></g></g><defs><linearGradient id="hotg" x1="0" y1="1" x2="0" y2="0"><stop offset="0" stop-color="#000"/><stop offset="0.375" stop-color="#f00"/><stop offset="0.75" stop-color="#ff0"/><stop offset="1" stop-color="#fff"/></linearGradient><filter id="bl" x="-20%" y="-20%" width="140%" height="140%"><feGaussianBlur stdDeviation="0.55"/></filter></defs><text font-size="40.6" font-weight="bold" transform="translate(49 45.7) scale(1 1.05)">a1</text><text font-size="27" font-weight="bold" transform="translate(53 158.1) scale(1 1.05)">RAW</text><path d="M53.5 74H48.2V101H53.5M345.5 74H350.8V101H345.5" fill="none" stroke="#1d97ee" stroke-width="3.4"/><rect x="290" y="143.4" width="48.5" height="3.8" fill="#fff"/><rect x="375.5" y="24.5" width="14.5" height="129.5" fill="url(#hotg)" stroke="#222" stroke-width="1"/><text font-size="16" font-weight="bold" text-anchor="middle" transform="translate(382.5 18.8) scale(1 1.05)">1000</text><text font-size="16" font-weight="bold" text-anchor="middle" transform="translate(384 172.5) scale(1 1.05)">0</text><text font-size="40.6" font-weight="bold" fill="#fff" transform="translate(50.5 228.9) scale(1 1.05)">a2</text><text font-size="27" font-weight="bold" fill="#fff" transform="translate(51 335.6) scale(1 1.05)">TRUE</text><path d="M51 250.5H45.7V278H51M343.5 250.5H348.8V278H343.5" fill="none" stroke="#1d97ee" stroke-width="3.4"/><rect x="288" y="322.4" width="49" height="3.8" fill="#fff"/><rect x="374.5" y="197.5" width="15.5" height="129" fill="url(#hotg)" stroke="#222" stroke-width="1"/><text font-size="16" font-weight="bold" text-anchor="middle" transform="translate(384.5 189.5) scale(1 1.05)">500</text><text font-size="16" font-weight="bold" text-anchor="middle" transform="translate(384 348) scale(1 1.05)">0</text><text font-size="40.6" font-weight="bold" fill="#fff" transform="translate(51 406.9) scale(1 1.05)">a3</text><text font-size="27" font-weight="bold" fill="#fff" transform="translate(51.5 511.5) scale(1 1.05)">EVER</text><path d="M51 427H45.7V454H51M343.5 427H348.8V454H343.5" fill="none" stroke="#1d97ee" stroke-width="3.4"/><rect x="290" y="503.4" width="48.5" height="3.8" fill="#fff"/><rect x="376.5" y="379" width="15" height="130" fill="url(#hotg)" stroke="#222" stroke-width="1"/><text font-size="16" font-weight="bold" text-anchor="middle" transform="translate(384 371.3) scale(1 1.05)">500</text><text font-size="16" font-weight="bold" text-anchor="middle" transform="translate(385 528) scale(1 1.05)">0</text><text font-size="40.6" font-weight="bold" fill="#fff" transform="translate(53 582.9) scale(1 1.05)">a4</text><text font-size="27" font-weight="bold" fill="#fff" transform="translate(50.5 689.3) scale(1 1.05)">MED</text><path d="M51 603.5H45.7V631H51M343.5 603.5H348.8V631H343.5" fill="none" stroke="#1d97ee" stroke-width="3.4"/><rect x="285" y="677.4" width="49.5" height="3.8" fill="#fff"/><rect x="374" y="558.5" width="15" height="130.5" fill="url(#hotg)" stroke="#222" stroke-width="1"/><text font-size="16" font-weight="bold" text-anchor="middle" transform="translate(381 552) scale(1 1.05)">500</text><text font-size="16" font-weight="bold" text-anchor="middle" transform="translate(381 706.5) scale(1 1.05)">0</text><text font-size="40.6" font-weight="bold" fill="#fff" transform="translate(52 756.9) scale(1 1.05)">a5</text><text font-size="27" font-weight="bold" fill="#fff" transform="translate(49.5 865.3) scale(1 1.05)">RB</text><path d="M51 789.5H45.7V817H51M343.5 789.5H348.8V817H343.5" fill="none" stroke="#1d97ee" stroke-width="3.4"/><rect x="284.5" y="851.9" width="49" height="3.8" fill="#fff"/><rect x="373" y="732" width="14.5" height="129.5" fill="url(#hotg)" stroke="#222" stroke-width="1"/><text font-size="16" font-weight="bold" text-anchor="middle" transform="translate(382 728) scale(1 1.05)">500</text><text font-size="16" font-weight="bold" text-anchor="middle" transform="translate(380.5 879.5) scale(1 1.05)">0</text>
<g id="panels-b"><rect x="416.5" y="2.5" width="321.5" height="170" fill="#000"/><rect x="416.5" y="180" width="321.5" height="170" fill="#000"/><rect x="416.5" y="357.5" width="321.5" height="170" fill="#000"/><rect x="416.5" y="534" width="321.5" height="170" fill="#000"/><rect x="416.5" y="711" width="321.5" height="170" fill="#000"/><g filter="url(#bl)" fill="none" stroke-linecap="round"><path stroke="#390000" stroke-width="2.3" d="M455.6 61.8h0M452.1 67.6h0M456.3 72.9h0M453 83.2h0M452.3 86.6h0M452.3 111.2h0M451.1 121.9h0"/><path stroke="#710000" stroke-width="2.3" d="M451.7 62.8h0M456.5 65.3h0M451.7 73.1h0M452.3 80.7h0M451.8 92.6h0M452.2 113.5h0M456.7 117.9h0M460.7 121.8h0M460.7 124.5h0"/><path stroke="#aa0000" stroke-width="2.3" d="M452.2 59.2h0M456 59.8h0M460.2 62.4h0M455.8 70.3h0M455.8 81.2h0M465.8 84h0M460.4 88.6h0M455.5 97.8h0M461.4 103.4h0M461.2 113.8h0M452.3 119.4h0"/><path stroke="#e30000" stroke-width="2.3" d="M460.5 70.3h0M461.6 78.6h0M460.7 81.1h0M461.3 86.6h0M456.1 103.4h0M455.9 107.8h0M460.8 108.5h0M460.6 116.6h0"/><path stroke="#ff1c00" stroke-width="2.3" d="M466.2 56.4h0M465.9 59.6h0M465.8 62h0M460.8 67.6h0M455.9 76h0M466.1 81.4h0M465.7 90h0M460.5 94.2h0M460 96.7h0M465.3 107.7h0M460.8 110.3h0"/><path stroke="#ff5500" stroke-width="2.3" d="M465.2 71.1h0M466 73.1h0M460.6 92.2h0M465.5 97.2h0M466.6 113.1h0M465.8 118.9h0"/><path stroke="#ff8e00" stroke-width="2.3" d="M470.7 80.9h0M466.1 105.8h0M465.4 111.4h0M465.6 116.7h0M465.3 122.1h0"/><path stroke="#ffc600" stroke-width="2.3" d="M469.5 116h0M469.5 122.8h0"/><path stroke="#ffff00" stroke-width="2.3" d="M470.4 57.3h0M469.4 60h0M470.2 91h0M470.7 102.3h0M469.3 110.9h0"/><path stroke="#ffff55" stroke-width="2.3" d="M469.5 62h0M469.8 66.2h0M469.7 68.2h0M470.7 70.5h0M471.4 79.3h0M470.9 84.4h0M470.4 86.1h0M470.1 89.8h0M469.8 94.6h0M470.5 106.1h0M469.6 108.5h0"/><path stroke="#ffffaa" stroke-width="2.3" d="M470.2 72.9h0M470.6 96.8h0M469.8 99.7h0M470.7 119.8h0M469.7 124.6h0"/><path stroke="#ffffff" stroke-width="2.3" d="M469.8 76h0M469.9 113h0"/></g><g filter="url(#bl)" fill="none" stroke-linecap="round"><path stroke="#ffffaa" stroke-width="2.2" d="M474.9 57h0M477.3 57h0M474.9 62.4h0M477.3 62.4h0M474.9 67.8h0M477.3 67.8h0M474.9 73.2h0M477.3 73.2h0M474.9 78.6h0M477.3 78.6h0M474.9 84h0M477.3 84h0M474.9 89.4h0M477.3 89.4h0M474.9 94.8h0M477.3 94.8h0M474.9 100.2h0M477.3 100.2h0M474.9 105.6h0M477.3 105.6h0M474.9 111h0M477.3 111h0M474.9 116.4h0M477.3 116.4h0M474.9 121.8h0M477.3 121.8h0"/><path stroke="#ffffff" stroke-width="2.2" d="M476.1 58.8h0M476.1 64.2h0M476.1 69.6h0M476.1 75h0M476.1 80.4h0M476.1 85.8h0M476.1 91.2h0M476.1 96.6h0M476.1 102h0M476.1 107.4h0M476.1 112.8h0M476.1 118.2h0M476.1 123.6h0"/></g><g filter="url(#bl)" fill="none" stroke-linecap="round"><path stroke="#710000" stroke-width="2.3" d="M622.9 74.2h0M624.6 98.2h0M623.5 106.6h0M622.9 117.4h0M628.8 82.3h0M628 87.8h0M631.9 66.6h0M652 66.1h0M652.2 92.3h0M649.9 118h0M654 68.8h0M653.6 101.8h0M656.9 95.6h0M658.4 104.2h0M659.6 62.6h0M660.6 68.5h0"/><path stroke="#aa0000" stroke-width="2.3" d="M625 71.3h0M624.3 82.7h0M626.7 63.2h0M626.2 85.7h0M626.7 106.4h0M628.1 109.8h0M626.3 118.6h0M632.6 60.9h0M631 71.4h0M630.5 73.7h0M631.3 76.5h0M630 80h0M631.4 103.4h0M632.3 115.4h0M632.3 120.7h0M647.3 101.6h0M651 68h0M650.9 112.6h0M651.4 115.8h0M653.4 63.4h0M653.7 80h0M654.9 81.6h0M653.3 85h0M655 98.3h0M655.6 110.7h0M653.6 112.4h0M654.3 118.3h0M656.9 90.2h0"/><path stroke="#e30000" stroke-width="2.3" d="M627.8 93.2h0M631.9 82.6h0M629.5 90.1h0M632.8 92.8h0M631.5 98.6h0M633.1 68.3h0M635.1 76.5h0M633.1 79.9h0M634.5 88h0M634.8 93.7h0M635.2 104.4h0M638.7 93.1h0M648.9 98.4h0M647.3 107.4h0M648.9 109.6h0M650.7 74h0M651.6 87.5h0M649.9 101.7h0M651.3 104.2h0M652.6 109.3h0M654 107h0"/><path stroke="#ff1c00" stroke-width="2.3" d="M626.7 78.7h0M627 95.8h0M629.1 57.3h0M630.1 68.4h0M629.9 85.3h0M631.6 87.9h0M630.1 101.1h0M632.6 109.9h0M630.5 118h0M632.8 63.3h0M635.8 65.8h0M634.7 71h0M634.1 73.9h0M632.5 101.8h0M634 118.6h0M634.5 120.9h0M638.6 81.6h0M640.7 101.7h0M643.3 68.4h0M643.1 101.7h0M645.2 104.1h0M646.7 56.8h0M649.4 66.5h0M648.5 71.6h0M647 118.3h0M649.4 57.6h0M650.3 63.5h0M650.6 79.3h0M650.7 85.2h0M653.9 95.7h0"/><path stroke="#ff5500" stroke-width="2.3" d="M629.4 112.7h0M635.5 60.4h0M632.8 96.1h0M632.8 107.3h0M635 109.9h0M638.9 66.3h0M638.1 104.2h0M636.6 107.4h0M638.9 115.2h0M641.3 77.2h0M640.2 96.4h0M645.4 65.6h0M645.5 99.3h0M644.4 120.9h0M648.3 59.9h0M646.8 63.2h0M646.9 68.7h0M649.3 82.6h0M649 87.8h0M648.4 104.9h0M647.5 112.9h0M650.7 90.3h0"/><path stroke="#ff8e00" stroke-width="2.3" d="M633.3 85.6h0M633.8 90h0M634.5 115.5h0M637.1 57.7h0M639 60.9h0M636.9 63.4h0M639.1 71.1h0M639.4 76.3h0M637.7 88h0M637.1 101.8h0M638.5 109.6h0M641.7 60.4h0M642.1 87.9h0M644.6 63.1h0M644.5 74.3h0M645.4 76.9h0M643.5 79.7h0M645.9 87.3h0M644.9 109.4h0M643.1 117.3h0M646.5 73.5h0M646.7 79.3h0M646.5 85.6h0M648.9 115.7h0"/><path stroke="#ffc600" stroke-width="2.3" d="M635 82.4h0M636.7 68h0M637.2 74.2h0M636.4 85.2h0M636.9 117.4h0M638.4 121h0M639.4 58h0M640.6 68h0M640.6 71.4h0M640 74h0M640.7 84.8h0M641.8 99.1h0M641.9 104.3h0M640.6 112.9h0M641.3 115.6h0M644.1 56.9h0M645.3 60.3h0M645.7 71.5h0M643.9 90.7h0M646.3 93.4h0M644.2 112.5h0M648.5 76.5h0M648.8 93h0"/><path stroke="#ffff00" stroke-width="2.3" d="M633.5 112.4h0M636.4 80h0M636.1 95.9h0M639.2 99.1h0M637 112.5h0M640.6 63.1h0M640.8 66h0M640.3 79.2h0M640.5 110.2h0M641.8 121h0M645.2 82.5h0M643.2 106.8h0M645.3 115.6h0"/><path stroke="#ffff55" stroke-width="2.3" d="M637 90.2h0M641.5 82.4h0M639.7 106.8h0M643.7 96.1h0"/><path stroke="#ffffaa" stroke-width="2.3" d="M640.1 90.7h0M641 118h0"/></g><g filter="url(#bl)" fill="none" stroke-linecap="round"><path stroke="#ffff00" stroke-width="2.4" d="M640.8 58h0M642 66.8h0M640.7 73.4h0M642.7 77.8h0M641.9 82.2h0M641.5 99.8h0M642.2 106.4h0M643.9 110.8h0"/><path stroke="#ffff55" stroke-width="2.4" d="M640.2 69h0M640.7 75.6h0M641.8 104.2h0M641.7 119.6h0"/><path stroke="#ffffaa" stroke-width="2.4" d="M641.1 60.2h0M640.9 62.4h0M640.1 64.6h0M641.1 71.2h0M643.4 80h0M641.5 84.4h0M641.9 88.8h0M640.8 91h0M642.1 93.2h0M642.3 95.4h0M642.8 97.6h0M642.2 102h0M642.6 108.6h0M643.5 115.2h0M641.7 117.4h0"/><path stroke="#ffffff" stroke-width="2.4" d="M643.3 86.6h0M643.8 113h0"/></g><rect x="468.2" y="232.3" width="2.4" height="61.2" fill="#ffe9df"/><rect x="573.3" y="232.3" width="2.4" height="61.2" fill="#ffe9df"/><rect x="678.8" y="232.3" width="2.4" height="61.2" fill="#ffe9df"/><rect x="468.2" y="410.5" width="2.4" height="60.5" fill="#ffe9df"/><rect x="573.6" y="409.5" width="2.4" height="61.5" fill="#ffe9df"/><rect x="678.6" y="408" width="2.4" height="64.5" fill="#ffe9df"/><rect x="468.2" y="586" width="2.4" height="61" fill="#ffe9df"/><rect x="573.6" y="584.5" width="2.4" height="63.5" fill="#ffe9df"/><rect x="679" y="581" width="2.4" height="71" fill="#ffe9df"/><g filter="url(#bl)" fill="none" stroke-linecap="round"><path stroke="#e30000" stroke-width="1.8" d="M680.6 608h0M680.2 623.3h0M679.1 612.7h0M680.2 625h0M679.3 612.7h0M677.2 621.1h0"/><path stroke="#ff1c00" stroke-width="1.8" d="M679.6 617.6h0M679.4 629.4h0M679.5 618.6h0M679.8 624.1h0M680.2 619.1h0M678.1 628h0M680.3 616.3h0M678.9 605h0M678.8 601.6h0M678.6 628.1h0M680.3 618.9h0M679 621.9h0M679.7 634.8h0"/><path stroke="#ff5500" stroke-width="1.8" d="M677 618.8h0M682 615.3h0M679 611.3h0M679.7 614.8h0M681.1 609.5h0"/><path stroke="#ff8e00" stroke-width="1.8" d="M679.7 609.1h0M679.2 617.8h0M679.1 597.7h0M679 634.2h0M678.1 615.8h0M679.4 604.9h0M678.8 635.8h0M677.7 610.2h0M678.9 605.7h0M678.6 615.5h0M678.8 609.7h0M679.3 611.4h0M677.4 621.6h0M680 629.1h0M679.1 622.1h0M680.8 617.9h0M679.3 597.3h0"/><path stroke="#ffc600" stroke-width="1.8" d="M678.2 612.9h0M680.8 609.9h0M679.5 621.1h0M681.2 616.5h0"/></g><g filter="url(#bl)" fill="none" stroke-linecap="round"><path stroke="#aa0000" stroke-width="1.8" d="M473.5 773.6h0M473.6 784h0M473.1 787.9h0M473.3 789.2h0M473 790.5h0M473.8 793.1h0M473.6 797h0M473.1 799.6h0M473.5 800.9h0M474.6 802.2h0M474.1 804.8h0M473.4 806.1h0M472.6 808.7h0M473.9 811.3h0M474.3 813.9h0M473.7 815.2h0M473.7 817.8h0M474.2 824.3h0M472.5 825.6h0M474.1 826.9h0M474.6 829.5h0"/><path stroke="#e30000" stroke-width="1.8" d="M475.1 771h0M472.4 776.2h0M473.2 777.5h0M473.2 778.8h0M474.2 781.4h0M474.7 785.3h0M474.1 786.6h0M474.1 791.8h0M473.1 794.4h0M474.8 795.7h0M473.1 803.5h0M473.1 807.4h0M473.6 810h0M474.2 812.6h0M473.4 816.5h0M474.4 819.1h0M474.1 820.4h0M474.2 821.7h0M473.9 823h0M473.6 828.2h0M473.3 830.8h0"/><path stroke="#ff1c00" stroke-width="1.8" d="M474.5 772.3h0M473.8 774.9h0M473.3 780.1h0M474 782.7h0M474.5 798.3h0"/></g><rect x="468.2" y="768" width="2.4" height="55.5" fill="#ffe9df"/><rect x="573.6" y="762.5" width="2.4" height="61" fill="#ffe9df"/><g filter="url(#bl)" fill="none" stroke-linecap="round"><path stroke="#390000" stroke-width="2" d="M651.3 800.4h0M642.1 763.5h0M623 818.2h0M642.3 768.4h0M653.3 799.8h0M654.4 752.4h0"/><path stroke="#710000" stroke-width="2" d="M654.5 769.6h0M652 817.5h0M641.8 760h0M645.4 754.8h0M651.9 761.1h0M636 782.6h0M640 811.2h0M658.1 792.6h0M649.5 767.2h0M638.6 780.7h0M651.9 800.6h0M651.4 814.6h0M638.9 759.8h0M636.3 802.8h0M652.4 791.6h0M653 785.5h0M650.7 811h0M652.6 827.4h0M651.9 826.4h0M637.8 824h0M653.1 796.1h0M651 802.8h0M650.3 781.7h0M638.6 794.8h0M636.6 794.8h0M642.7 763.6h0M639.4 817.6h0M654.2 829.8h0M650.2 813h0M649.7 762.5h0M639.3 783h0M634.9 776.3h0M654 822h0M651.8 775.5h0M649.4 761.6h0M637.4 826.5h0M656 770.8h0M646 756.3h0M658.6 753.7h0M637.5 762.3h0M651.9 762.3h0M638.8 767.4h0M649.9 765.6h0M639.2 817.2h0M651.9 767.4h0M637.9 773.8h0M636.2 814.6h0M641.7 775.2h0M641.9 768.3h0M643.8 757.2h0M649.1 753.2h0M654 753.8h0M641.2 813h0M662.8 822.8h0M653.3 756.3h0M648.1 763.2h0M654.5 795.6h0M655.2 800h0M648.5 757.9h0M640.5 769.2h0M653.3 789.1h0M650.4 760.3h0M651.1 807.2h0M650.8 764.2h0M648.4 752.3h0M653 826.1h0M639.4 793.3h0M629.1 823.4h0M639.6 779.4h0M637.6 779.4h0M639.6 776.9h0M652.6 807.9h0M653.4 786.9h0M634.6 786h0M640.3 829.6h0M641.4 830h0M650.9 757.5h0M639.6 812h0M653.6 798.2h0M642.8 755.4h0M638.5 817h0M649.9 769.8h0M650.7 777.4h0M649.9 768.6h0M643.9 759.6h0M638.2 788h0M644.2 752.9h0M637 805.7h0M648.8 823.4h0M651.4 752.5h0M651.5 819.7h0M650.6 809.1h0M652.6 804.6h0M642.6 823.2h0M641.5 808.3h0M637.6 761.2h0M639.8 822.5h0M639 806.8h0M655.7 779.1h0M639.1 758.1h0M643.6 783h0M635.4 761.6h0M649.5 773.3h0M637.1 802.1h0M650.4 765.9h0M638.4 815.8h0M638.2 798.8h0M631.2 796.2h0M637.6 776.4h0M633.6 782.5h0M630 806.5h0M652.3 815h0M638.1 824.6h0M645.6 767.7h0M650 753.9h0M650.2 805.5h0M654.2 804.6h0M635.1 771.3h0M632.7 807.1h0M655 775.8h0M634.6 801.1h0M650.2 777.3h0M678.9 796.7h0M679.8 797.2h0M679.7 767.4h0M679.8 787.5h0M679.4 764.4h0M680.1 796.7h0M680.1 781.4h0M681.1 794.9h0M679.9 779h0M680.9 773.9h0M679.9 787.9h0M680.4 792.7h0M679.9 792.4h0M679.9 769.4h0M680 764.5h0M680 774.6h0M679.5 769.2h0M680.6 781.7h0M680.2 798h0M680.1 768.9h0M680.2 784.5h0M678.6 764.5h0M678.7 778h0M680 792.9h0M679.5 779.9h0"/><path stroke="#aa0000" stroke-width="2" d="M644.3 764.5h0M650 829h0M654.1 762.3h0M650.6 791.2h0M649.3 794.1h0M639.7 784h0M648.4 829.9h0M647.8 828.2h0M649.8 786.2h0M637.8 829.2h0M648.6 760.3h0M653.3 763.9h0M644.3 754.2h0M650.1 819.9h0M642.7 801.9h0M639.4 791.4h0M646.9 792.9h0M643.1 829.3h0M640.6 776h0M643.4 830.5h0M640.8 777.2h0M651.4 753.6h0M641.1 766.8h0M639.3 820.5h0M649.5 766.4h0M650.1 789.9h0M650 814.9h0M648.4 758.1h0M641.7 754.6h0M637.3 815.2h0M651 799.9h0M642.5 760.2h0M640.9 829.1h0M638.5 784.5h0M657.7 802.1h0M649.3 821.3h0M649.7 793.4h0M648 754.8h0M649.8 778h0M649.5 753.4h0M649.5 776.3h0M642.5 760.4h0M642.5 802.8h0M640.8 801.6h0M647.3 785.2h0M642.7 768.9h0M637 775.3h0M641.8 773.8h0M652.5 804.6h0M637.9 829.8h0M649.1 758.8h0M641.5 793.4h0M651.5 806.5h0M641.2 766.3h0M640.4 791.6h0M641.9 771.8h0M648.1 786.1h0M650.6 795.4h0M641 773.7h0M643.2 761.6h0M649 819h0M649.3 829.1h0M649.5 826.6h0M650.9 814.1h0M637.3 807.9h0M659.3 771.6h0M649.9 761.5h0M651.2 793.7h0M641.8 773.3h0M643.1 752.3h0M643 759.8h0M640.9 810.3h0M651.6 788.2h0M639.2 779.5h0M650.6 756.1h0M640.9 826.2h0M644.8 765.4h0M650.7 770.4h0M650.9 764.5h0M647.8 761.2h0M640.3 774.8h0M652.5 801.8h0M647.6 826.4h0M648.8 831h0M648.7 759.9h0M646.3 770.8h0M640.1 764.8h0M642.5 810.9h0M641.2 823.5h0M640.7 773.4h0M650.3 817.4h0M641.4 809.3h0M649.5 827.3h0M653.7 786.7h0M649 753.9h0M650.8 823.9h0M637.9 795.7h0M641.2 785h0M650 757.7h0M651.3 776h0M648.7 762.5h0M637.7 803.2h0M639.4 770.4h0M638.6 820.9h0M648.8 817.4h0M647.6 787.5h0M649.3 829.4h0M648.3 773.2h0M638.1 789.4h0M644.4 760h0M650.8 777.1h0M652.4 754.3h0M644.4 753.7h0M644.1 756.3h0M642.1 823h0M649 785.7h0M649.5 761.3h0M649.7 776.3h0M646 760.8h0M649.2 830.3h0M647.5 776.4h0M637.4 810.8h0M643.5 829.8h0M640 830.9h0M651.3 772.2h0M640.8 808.5h0M640.5 776.1h0M650.2 755.6h0M649.5 815.2h0M647.9 807.4h0M648.8 820.6h0M641.5 794.2h0M649.7 807.7h0M646.9 821.4h0M647.4 769.6h0M650.8 826.1h0M641.2 822.5h0"/><path stroke="#e30000" stroke-width="2" d="M644 818.4h0M642.2 821.9h0M644.8 758.2h0M647.7 801.3h0M644.5 768.4h0M641.6 815.7h0M642.5 772.1h0M650 791.2h0M643.2 801h0M646.2 819.3h0M646.7 818.3h0M640 787.3h0M647.9 819.4h0M645.5 771.1h0M647.7 754.6h0M645.3 827.4h0M649.1 797.5h0M644.4 776h0M647.6 821.2h0M642.1 816.1h0M650.9 752.9h0M648.8 810.4h0M642.6 826.2h0M647.5 778h0M652.2 785.7h0M642.2 800.2h0M646.5 788.1h0M644.3 821.5h0M641.9 772.5h0M643.8 753.8h0M643.1 762.4h0M639.8 784.7h0M644.2 757.3h0M647.9 767h0M640.7 795.4h0M649.5 761.1h0M644.4 781.1h0M648.1 776.1h0M644.4 814.5h0M648.5 795.5h0M647 817.5h0M649 805.3h0M637.1 780.6h0M647.8 799.6h0M642.5 827.2h0M641.5 790.8h0M642.4 780.7h0M645.3 779.1h0M649.1 805.3h0M639.7 776.3h0M649.9 765.3h0M651.8 785.4h0M643.3 763.3h0M638.2 789h0M651.5 819h0M640.5 765.3h0M646.9 828h0M652.1 803.4h0M642.6 789h0M649.2 760.2h0M641 820.5h0M644.8 820.1h0M646.6 772.3h0M643.9 788.3h0M647.5 774.5h0M643 823.2h0M650.4 770.8h0M648 801.2h0M645.7 762.3h0M639.9 805.8h0M647.2 808.9h0M641.9 786.8h0M648.5 768.4h0M640.8 806.3h0M649.5 762.8h0M647.2 812.5h0M647.5 754.3h0M639.2 764.9h0M646.4 753.3h0M646.4 825.9h0M649.1 778.3h0M644.4 813.6h0M645 756.2h0M649 825.9h0M646.7 787.2h0M644.8 829.4h0M650.9 796.5h0M642.5 756.1h0M645.6 765.5h0M641.5 806.3h0M643.5 810.9h0M646 804.7h0M650 804.6h0M649.7 791.4h0M641.3 787.4h0M650 789.5h0M650.8 816.8h0M644.3 782.2h0M647 767.3h0M641.7 797.4h0M641.9 802.6h0M641.5 790.8h0M652.1 775.4h0M645.2 777.3h0M639.8 811.8h0M644.9 762.5h0M644.4 781.6h0M644.9 789.4h0M642.4 769.9h0M643.8 790.6h0M648.1 827.8h0M641.7 755.4h0M642.6 789.2h0M649.2 763.8h0M649.4 768.9h0M647 782.4h0M647.2 759h0M641.6 808.4h0M647.3 812.6h0"/><path stroke="#ff1c00" stroke-width="2" d="M645.3 788.9h0M642 799.6h0M644.7 819.1h0M645.9 809h0M642.2 803.5h0M642.6 821.2h0M648.2 824.4h0M648.7 797.3h0M648.7 794.6h0M642.6 818.6h0M643.3 789.4h0M640.4 799.2h0M647.5 768.1h0M643.6 766.7h0M640.3 791.8h0M643.9 770.8h0M648.2 791.6h0M643 785.8h0M643.2 767.1h0M647 792.5h0M644.3 768.8h0M649.3 762.3h0M648.5 790h0M648 787.3h0M640.6 800.1h0M645.7 777.9h0M643.1 791.5h0M644.4 804.8h0M642.4 772.8h0M647.6 799.1h0M642.5 817.1h0M644.7 823h0M649.1 803.1h0M643.5 789h0M647.7 802.6h0M649.4 757.5h0M638.1 781.5h0M646.8 809.1h0M642 789h0M644.7 779.9h0M648.4 784.5h0M643.2 789.6h0M646.7 812.4h0M640.7 810.2h0M645.1 777.6h0M648.1 772.8h0M642.9 803.1h0M645.8 808.7h0M647.6 789.4h0M646.1 823.1h0M648.8 824.9h0M650.4 790.5h0M649.3 788.9h0M650.3 802.8h0M643.4 775.5h0M644.7 766.6h0M648.4 793.5h0M645.2 828.5h0M647.9 799.4h0M645.9 779.1h0M645.1 775.5h0M647.5 816.6h0M645.1 775.2h0M642.3 785.4h0M642.7 808.1h0M646 774.6h0M646.3 784.7h0M650 820.7h0M650.9 787.3h0M648.9 769.8h0M643.1 793.4h0M645.8 794.3h0M641.8 797h0M643.1 791.9h0M642.1 793h0M649.7 827.4h0M646.9 824.1h0M643.1 796.9h0M642 779.1h0M646 809.2h0M642.8 791h0M648.4 758.5h0M645.8 796.9h0M645.7 759.8h0M645.4 812.7h0M646 795.6h0M647.4 788.1h0M644 754.1h0M644.5 779.6h0"/><path stroke="#ff5500" stroke-width="2" d="M646.6 786.1h0M643.3 796.8h0M644.7 790h0M648.1 799.5h0M646.7 785.8h0M642.1 807.5h0M645.7 767.2h0M645.3 817.7h0M648.2 820.5h0M643.3 794.4h0M647.8 759.6h0M644 804h0M640.6 798.2h0M649.4 788.6h0M644 802h0M645.3 803.4h0M649.7 792.7h0M647.8 822.4h0M645.7 789h0M644.2 791h0M644.8 785.4h0M648.5 777.1h0M644.3 823.5h0M645.6 816.2h0M648.7 798.6h0M646.1 806.4h0M644.2 796.6h0M646 798.5h0M645 797.8h0M642.5 770.7h0M645 821.5h0M646.3 813.1h0M643.1 785.5h0M646.5 753.8h0M645.8 792.6h0M643.8 799.2h0M643.8 825.9h0M647.2 821.2h0M645.7 817.9h0M646.3 801h0M645.9 791.8h0M643.9 807.6h0M645.7 796.6h0M643.5 783.6h0M646.8 810.5h0"/><path stroke="#ff8e00" stroke-width="2" d="M647.2 822.7h0M646.7 807.7h0M645.8 817.2h0M647.5 781.5h0M645.8 783.7h0M643.8 788.8h0M645.2 793.5h0M644 810h0M646 803.2h0M645.1 789.6h0M645.8 790.1h0M643.5 785.8h0M645.8 818.4h0M644 787.3h0M647 811.7h0M647.2 803.8h0"/><path stroke="#ffc600" stroke-width="2" d="M646.2 809.3h0M645.4 806.3h0M646 772.5h0M644.2 800.1h0M645.1 791.9h0M644.6 812.2h0M646.6 797h0"/></g><path d="M699.7 136.9L660.8 106.4" fill="none" stroke="#06ff0a" stroke-width="6.4"/><path d="M670.5 129.3L658.1 104.2L685.4 110.3" fill="none" stroke="#06ff0a" stroke-width="6.7" stroke-linejoin="miter" stroke-miterlimit="10" stroke-linecap="round"/><path d="M699.7 838.5L660.7 808.4" fill="none" stroke="#06ff0a" stroke-width="6.4"/><path d="M670.5 831.2L658 806.2L685.4 812.1" fill="none" stroke="#06ff0a" stroke-width="6.7" stroke-linejoin="miter" stroke-miterlimit="10" stroke-linecap="round"/><text font-size="40.6" font-weight="bold" fill="#fff" transform="translate(429.5 50.7) scale(1 1.05)">b1</text><text font-size="40.6" font-weight="bold" fill="#fff" transform="translate(427 228.7) scale(1 1.05)">b2</text><text font-size="40.6" font-weight="bold" fill="#fff" transform="translate(428 408.5) scale(1 1.05)">b3</text><text font-size="40.6" font-weight="bold" fill="#fff" transform="translate(428.5 583.7) scale(1 1.05)">b4</text><text font-size="40.6" font-weight="bold" fill="#fff" transform="translate(436.5 766.5) scale(1 1.05)">b5</text></g>
<g id="panel-c"><rect x="923.8" y="40.6" width="738.5" height="707.8" fill="#fff"/><path d="M1039.2 40.6V748.4M1154.6 40.6V748.4M1270 40.6V748.4M1385.4 40.6V748.4M1500.8 40.6V748.4M1616.1 40.6V748.4M923.8 630.4H1662.3M923.8 512.5H1662.3M923.8 394.5H1662.3M923.8 276.5H1662.3M923.8 158.6H1662.3" stroke="#cecece" stroke-width="1.6" fill="none"/><clipPath id="cclip"><rect x="923.8" y="39.6" width="739.5" height="709.8"/></clipPath><g clip-path="url(#cclip)"><polyline points="935.3,555.3 946.9,511.2 958.4,483.9 970,448.8 981.5,411.9 993,372.2 1004.6,352.8 1016.1,322.5 1027.7,273.9 1039.2,162 1050.7,40.5 1062.3,135 1073.8,247.5 1085.3,286.5 1096.9,305.2 1108.4,316.6 1120,349.9 1131.5,376.9 1143,415.4 1154.6,451.7 1166.1,482.7 1177.7,514.7 1189.2,546.5 1200.7,577.4 1212.3,595.3 1223.8,609.3 1235.4,609.3 1246.9,600.9 1258.4,560.4 1270,502.5 1281.5,443.1 1293,383.4 1304.6,386.6 1316.1,405.6 1327.7,417.8 1339.2,415.1 1350.7,407.8 1362.3,379.9 1373.8,352.8 1385.4,325.4 1396.9,287.5 1408.4,275.8 1420,265.2 1431.5,268.3 1443.1,264.6 1454.6,272.3 1466.1,289.2 1477.7,310.7 1489.2,295.6 1500.8,299.1 1512.3,315.2 1523.8,333.2 1535.4,344.1 1546.9,393.8 1558.4,436.2 1570,491.3 1581.5,533.4 1593.1,584.5 1604.6,602.3 1616.1,622.2 1627.7,618.8 1639.2,612.8 1650.8,603 1662.3,570.3" fill="none" stroke="#ff00ff" stroke-width="2.6" stroke-linejoin="round"/><polyline points="935.3,748.4 946.9,743.1 958.4,743.1 970,744.9 981.5,740.1 993,738.4 1004.6,746.6 1016.1,741.3 1027.7,724.8 1039.2,630.4 1050.7,519.5 1062.3,615.7 1073.8,716 1085.3,746.6 1096.9,744.9 1108.4,734.2 1120,743.1 1131.5,739 1143,746.6 1154.6,746 1166.1,745.5 1177.7,741.3 1189.2,744.9 1200.7,746 1212.3,745.5 1223.8,743.1 1235.4,740.1 1246.9,729.5 1258.4,708.9 1270,680.6 1281.5,652.8 1293,624.5 1304.6,651.7 1316.1,678.2 1327.7,705.3 1339.2,718.3 1350.7,741.3 1362.3,742.5 1373.8,747.2 1385.4,746 1396.9,731.9 1408.4,736.6 1420,739 1431.5,743.7 1443.1,736.6 1454.6,737.8 1466.1,744.9 1477.7,744.9 1489.2,727.2 1500.8,721.3 1512.3,716 1523.8,713.6 1535.4,695.9 1546.9,711.2 1558.4,707.7 1570,713.6 1581.5,718.9 1593.1,739 1604.6,737.8 1616.1,744.9 1627.7,747.2 1639.2,748.4 1650.8,748.4 1662.3,742.5" fill="none" stroke="#009a3a" stroke-width="2.7" stroke-linejoin="round"/><polyline points="935.3,748.4 946.9,736.6 958.4,740.1 970,739 981.5,736.6 993,735.4 1004.6,743.7 1016.1,737.8 1027.7,690 1039.2,568.5 1050.7,449.4 1062.3,559.7 1073.8,664.1 1085.3,714.8 1096.9,722.4 1108.4,728.3 1120,737.8 1131.5,734.8 1143,741.3 1154.6,743.7 1166.1,744.9 1177.7,741.3 1189.2,744.9 1200.7,746 1212.3,744.3 1223.8,742.5 1235.4,736.6 1246.9,724.8 1258.4,697.1 1270,659.9 1281.5,626.9 1293,594.5 1304.6,624.5 1316.1,657.6 1327.7,692.4 1339.2,712.4 1350.7,737.8 1362.3,735.4 1373.8,743.7 1385.4,743.1 1396.9,711.2 1408.4,701.8 1420,693.5 1431.5,693 1443.1,689.4 1454.6,699.4 1466.1,713.6 1477.7,727.2 1489.2,717.1 1500.8,706.5 1512.3,695.9 1523.8,685.3 1535.4,660.5 1546.9,675.9 1558.4,682.3 1570,698.3 1581.5,711.2 1593.1,736.6 1604.6,735.4 1616.1,743.7 1627.7,746 1639.2,748.4 1650.8,747.8 1662.3,736.6" fill="none" stroke="#0a64f0" stroke-width="2.7" stroke-linejoin="round"/><polyline points="935.3,748.4 946.9,742.5 958.4,741.9 970,743.1 981.5,734.8 993,733.7 1004.6,746 1016.1,740.1 1027.7,718.9 1039.2,615.7 1050.7,500.1 1062.3,605.1 1073.8,709.5 1085.3,745.5 1096.9,743.1 1108.4,732.5 1120,741.3 1131.5,736.6 1143,746 1154.6,745.5 1166.1,744.3 1177.7,739.6 1189.2,744.3 1200.7,745.5 1212.3,745.5 1223.8,743.1 1235.4,739 1246.9,723.6 1258.4,690 1270,642.2 1281.5,600.9 1293,561.4 1304.6,592.1 1316.1,635.2 1327.7,681.7 1339.2,708.9 1350.7,739.6 1362.3,741.9 1373.8,746.6 1385.4,744.3 1396.9,728.3 1408.4,733.1 1420,732.5 1431.5,739 1443.1,731.3 1454.6,731.9 1466.1,736.6 1477.7,734.8 1489.2,697.1 1500.8,673.5 1512.3,654 1523.8,635.2 1535.4,616.3 1546.9,631.6 1558.4,644.6 1570,668.8 1581.5,690 1593.1,721.3 1604.6,728.3 1616.1,741.3 1627.7,746 1639.2,748.4 1650.8,748.4 1662.3,739" fill="none" stroke="#ff0000" stroke-width="3" stroke-linejoin="round"/><polyline points="935.3,748.4 946.9,741.9 958.4,742.5 970,744.9 981.5,739.6 993,737.8 1004.6,747.2 1016.1,740.7 1027.7,717.1 1039.2,617.5 1050.7,503 1062.3,606.8 1073.8,711.2 1085.3,746 1096.9,743.7 1108.4,731.9 1120,741.9 1131.5,737.8 1143,746 1154.6,745.5 1166.1,744.9 1177.7,740.1 1189.2,744.3 1200.7,746 1212.3,744.9 1223.8,741.9 1235.4,735.4 1246.9,718.9 1258.4,682.9 1270,634 1281.5,592.1 1293,553.2 1304.6,585 1316.1,631.6 1327.7,679.4 1339.2,706.5 1350.7,739 1362.3,741.3 1373.8,747.2 1385.4,745.5 1396.9,730.7 1408.4,736.6 1420,738.4 1431.5,743.7 1443.1,735.4 1454.6,731.9 1466.1,734.8 1477.7,728.3 1489.2,690 1500.8,664.1 1512.3,643.4 1523.8,628.1 1535.4,604.5 1546.9,623.4 1558.4,634 1570,659.9 1581.5,682.9 1593.1,717.1 1604.6,724.8 1616.1,737.8 1627.7,742.5 1639.2,747.8 1650.8,748.4 1662.3,742.5" fill="none" stroke="#000" stroke-width="3" stroke-linejoin="round"/><polyline points="935.3,551.8 937.2,547.2 939,542.5 940.8,537.7 942.6,532.8 944.4,527.9 946.3,522.9 948.1,517.8 949.9,512.7 951.7,507.5 953.6,502.2 955.4,496.9 957.2,491.6 959,486.2 960.8,480.8 962.7,475.4 964.5,469.9 966.3,464.4 968.1,459 970,453.5 971.8,448 973.6,442.5 975.4,437 977.2,431.6 979.1,426.2 980.9,420.8 982.7,415.4 984.5,410 986.4,404.7 988.2,399.5 990,394.3 991.8,389.2 993.6,384.1 995.5,379.1 997.3,374.1 999.1,369.3 1000.9,364.5 1002.8,359.8 1004.6,355.2 1006.4,350.7 1008.2,346.2 1010,341.9 1011.9,337.7 1013.7,333.6 1015.5,329.7 1017.3,325.8 1019.1,322.1 1021,318.5 1022.8,315 1024.6,311.6 1026.4,308.4 1028.3,305.3 1030.1,302.4 1031.9,299.6 1033.7,297 1035.5,294.5 1037.4,292.2 1039.2,290 1041,288 1042.8,286.1 1044.7,284.4 1046.5,282.9 1048.3,281.5 1050.1,280.3 1051.9,279.3 1053.8,278.4 1055.6,277.7 1057.4,277.1 1059.2,276.8 1061.1,276.6 1062.9,276.5 1064.7,276.7 1066.5,277 1068.3,277.5 1070.2,278.1 1072,278.9 1073.8,279.9 1075.6,281.1 1077.5,282.4 1079.3,283.9 1081.1,285.5 1082.9,287.3 1084.7,289.3 1086.6,291.4 1088.4,293.7 1090.2,296.2 1092,298.7 1093.8,301.5 1095.7,304.4 1097.5,307.4 1099.3,310.5 1101.1,313.8 1103,317.3 1104.8,320.8 1106.6,324.5 1108.4,328.4 1110.2,332.3 1112.1,336.4 1113.9,340.5 1115.7,344.8 1117.5,349.2 1119.4,353.7 1121.2,358.2 1123,362.9 1124.8,367.7 1126.6,372.5 1128.5,377.4 1130.3,382.4 1132.1,387.5 1133.9,392.6 1135.8,397.8 1137.6,403 1139.4,408.3 1141.2,413.6 1143,419 1144.9,424.4 1146.7,429.8 1148.5,435.2 1150.3,440.7 1152.2,446.2 1154,451.7 1155.8,457.1 1157.6,462.6 1159.4,468.1 1161.3,473.6 1163.1,479 1164.9,484.4 1166.7,489.8 1168.5,495.1 1170.4,500.5 1172.2,505.7 1174,510.9 1175.8,516.1 1177.7,521.2 1179.5,526.2 1181.3,531.2 1183.1,536.1 1184.9,540.9 1186.8,545.6 1188.6,550.3 1190.4,554.8 1192.2,559.3 1194.1,563.6 1195.9,567.8 1197.7,572 1199.5,576 1201.3,579.9 1203.2,583.7 1205,587.3 1206.8,590.8 1208.6,594.2 1210.5,597.5 1212.3,600.6 1214.1,603.6 1215.9,606.4 1217.7,609.1 1219.6,611.6 1221.4,614 1223.2,616.3 1225,618.3 1226.9,620.2 1228.7,622 1230.5,623.6 1232.3,625 1234.1,626.3 1236,627.4 1237.8,628.3 1239.6,629.1 1241.4,629.7 1243.2,630.1 1245.1,630.3 1246.9,630.4 1248.7,630.3 1250.5,630.1 1252.4,629.7 1254.2,629.1 1256,628.3 1257.8,627.4 1259.6,626.3 1261.5,625 1263.3,623.6 1265.1,622 1266.9,620.2 1268.8,618.3 1270.6,616.3 1272.4,614 1274.2,611.6 1276,609.1 1277.9,606.4 1279.7,603.6 1281.5,600.6 1283.3,597.5 1285.2,594.2 1287,590.8 1288.8,587.3 1290.6,583.7 1292.4,579.9 1294.3,576 1296.1,572 1297.9,567.8 1299.7,563.6 1301.6,559.3 1303.4,554.8 1305.2,550.3 1307,545.6 1308.8,540.9 1310.7,536.1 1312.5,531.2 1314.3,526.2 1316.1,521.2 1318,516.1 1319.8,510.9 1321.6,505.7 1323.4,500.5 1325.2,495.1 1327.1,489.8 1328.9,484.4 1330.7,479 1332.5,473.6 1334.3,468.1 1336.2,462.6 1338,457.1 1339.8,451.7 1341.6,446.2 1343.5,440.7 1345.3,435.2 1347.1,429.8 1348.9,424.4 1350.7,419 1352.6,413.6 1354.4,408.3 1356.2,403 1358,397.8 1359.9,392.6 1361.7,387.5 1363.5,382.4 1365.3,377.4 1367.1,372.5 1369,367.7 1370.8,362.9 1372.6,358.2 1374.4,353.7 1376.3,349.2 1378.1,344.8 1379.9,340.5 1381.7,336.4 1383.5,332.3 1385.4,328.4 1387.2,324.5 1389,320.8 1390.8,317.3 1392.7,313.8 1394.5,310.5 1396.3,307.4 1398.1,304.4 1399.9,301.5 1401.8,298.7 1403.6,296.2 1405.4,293.7 1407.2,291.4 1409,289.3 1410.9,287.3 1412.7,285.5 1414.5,283.9 1416.3,282.4 1418.2,281.1 1420,279.9 1421.8,278.9 1423.6,278.1 1425.4,277.5 1427.3,277 1429.1,276.7 1430.9,276.5 1432.7,276.6 1434.6,276.8 1436.4,277.1 1438.2,277.7 1440,278.4 1441.8,279.3 1443.7,280.3 1445.5,281.5 1447.3,282.9 1449.1,284.4 1451,286.1 1452.8,288 1454.6,290 1456.4,292.2 1458.2,294.5 1460.1,297 1461.9,299.6 1463.7,302.4 1465.5,305.3 1467.4,308.4 1469.2,311.6 1471,315 1472.8,318.5 1474.6,322.1 1476.5,325.8 1478.3,329.7 1480.1,333.6 1481.9,337.7 1483.7,341.9 1485.6,346.2 1487.4,350.7 1489.2,355.2 1491,359.8 1492.9,364.5 1494.7,369.3 1496.5,374.1 1498.3,379.1 1500.1,384.1 1502,389.2 1503.8,394.3 1505.6,399.5 1507.4,404.7 1509.3,410 1511.1,415.4 1512.9,420.8 1514.7,426.2 1516.5,431.6 1518.4,437 1520.2,442.5 1522,448 1523.8,453.5 1525.7,459 1527.5,464.4 1529.3,469.9 1531.1,475.4 1532.9,480.8 1534.8,486.2 1536.6,491.6 1538.4,496.9 1540.2,502.2 1542.1,507.5 1543.9,512.7 1545.7,517.8 1547.5,522.9 1549.3,527.9 1551.2,532.8 1553,537.7 1554.8,542.5 1556.6,547.2 1558.4,551.8 1560.3,556.3 1562.1,560.7 1563.9,565 1565.7,569.2 1567.6,573.3 1569.4,577.3 1571.2,581.2 1573,584.9 1574.8,588.5 1576.7,592 1578.5,595.3 1580.3,598.5 1582.1,601.6 1584,604.5 1585.8,607.3 1587.6,610 1589.4,612.5 1591.2,614.8 1593.1,617 1594.9,619 1596.7,620.8 1598.5,622.5 1600.4,624.1 1602.2,625.5 1604,626.7 1605.8,627.7 1607.6,628.6 1609.5,629.3 1611.3,629.8 1613.1,630.2 1614.9,630.4 1616.8,630.4 1618.6,630.3 1620.4,630 1622.2,629.5 1624,628.8 1625.9,628 1627.7,627 1629.5,625.9 1631.3,624.6 1633.1,623.1 1635,621.4 1636.8,619.6 1638.6,617.7 1640.4,615.5 1642.3,613.2 1644.1,610.8 1645.9,608.2 1647.7,605.5 1649.5,602.6 1651.4,599.6 1653.2,596.4 1655,593.1 1656.8,589.7 1658.7,586.1 1660.5,582.4 1662.3,578.6" fill="none" stroke="#000" stroke-width="2.4" stroke-linejoin="round" stroke-dasharray="2.5 3.1"/></g><path d="M923.8 748.4v-8M923.8 40.6v8M1039.2 748.4v-8M1039.2 40.6v8M1154.6 748.4v-8M1154.6 40.6v8M1270 748.4v-8M1270 40.6v8M1385.4 748.4v-8M1385.4 40.6v8M1500.8 748.4v-8M1500.8 40.6v8M1616.1 748.4v-8M1616.1 40.6v8M923.8 748.4h8M1662.3 748.4h-8M923.8 630.4h8M1662.3 630.4h-8M923.8 512.5h8M1662.3 512.5h-8M923.8 394.5h8M1662.3 394.5h-8M923.8 276.5h8M1662.3 276.5h-8M923.8 158.6h8M1662.3 158.6h-8M923.8 40.6h8M1662.3 40.6h-8" stroke="#1a1a1a" stroke-width="2.3" fill="none"/><rect x="923.8" y="40.6" width="738.5" height="707.8" fill="none" stroke="#1a1a1a" stroke-width="2.5"/><text font-size="36" text-anchor="middle" fill="#1a1a1a" transform="translate(923.5 791.2) scale(1 1.05)">0</text><text font-size="36" text-anchor="middle" fill="#1a1a1a" transform="translate(1038.9 791.2) scale(1 1.05)">10</text><text font-size="36" text-anchor="middle" fill="#1a1a1a" transform="translate(1154.3 791.2) scale(1 1.05)">20</text><text font-size="36" text-anchor="middle" fill="#1a1a1a" transform="translate(1269.7 791.2) scale(1 1.05)">30</text><text font-size="36" text-anchor="middle" fill="#1a1a1a" transform="translate(1385.1 791.2) scale(1 1.05)">40</text><text font-size="36" text-anchor="middle" fill="#1a1a1a" transform="translate(1500.5 791.2) scale(1 1.05)">50</text><text font-size="36" text-anchor="middle" fill="#1a1a1a" transform="translate(1615.8 791.2) scale(1 1.05)">60</text><text font-size="36" text-anchor="end" fill="#1a1a1a" transform="translate(911.6 761) scale(1 1.05)">0</text><text font-size="36" text-anchor="end" fill="#1a1a1a" transform="translate(911.6 643) scale(1 1.05)">200</text><text font-size="36" text-anchor="end" fill="#1a1a1a" transform="translate(911.6 525.1) scale(1 1.05)">400</text><text font-size="36" text-anchor="end" fill="#1a1a1a" transform="translate(911.6 407.1) scale(1 1.05)">600</text><text font-size="36" text-anchor="end" fill="#1a1a1a" transform="translate(911.6 289.1) scale(1 1.05)">800</text><text font-size="36" text-anchor="end" fill="#1a1a1a" transform="translate(911.6 171.2) scale(1 1.05)">1000</text><text font-size="36" text-anchor="end" fill="#1a1a1a" transform="translate(911.6 53.2) scale(1 1.05)">1200</text><text font-size="40.2" text-anchor="middle" fill="#1a1a1a" transform="translate(1293.5 840) scale(1 1.05)">Position (pixels)</text><text font-size="40.4" text-anchor="middle" fill="#1a1a1a" transform="translate(817 394.5) rotate(-90)">Average Intensity (photons)</text><text font-size="39" font-weight="bold" transform="translate(793 33) scale(1 1.05)">c</text><rect x="1194.2" y="49" width="205.8" height="215.6" fill="#fff" stroke="#000" stroke-width="3.5"/><path d="M1209.5 77.2H1263" stroke="#ff00ff" stroke-width="3.0"/><text font-size="23.5" font-weight="bold" transform="translate(1275.3 84.5) scale(1 1.05)">RAW</text><path d="M1209.5 108.8H1263" stroke="#000" stroke-width="3.5"/><text font-size="23.5" font-weight="bold" transform="translate(1275.3 116.1) scale(1 1.05)">TRUE</text><path d="M1209.5 141H1263" stroke="#ff0000" stroke-width="3.0"/><text font-size="23.5" font-weight="bold" transform="translate(1275.3 148.3) scale(1 1.05)">EVER</text><path d="M1209.5 174.2H1263" stroke="#009a3a" stroke-width="3.0"/><text font-size="23.5" font-weight="bold" transform="translate(1275.3 181.5) scale(1 1.05)">MED</text><path d="M1209.5 207.4H1263" stroke="#0a64f0" stroke-width="3.0"/><text font-size="23.5" font-weight="bold" transform="translate(1275.3 214.7) scale(1 1.05)">RB</text><path d="M1209.5 239.6H1263" stroke="#000" stroke-width="3.5" stroke-dasharray="3.2 3.9"/><text font-size="23.5" font-weight="bold" transform="translate(1275.3 246.9) scale(1 1.05)">TRUE BG</text><path d="M1450 591.5V654M1437.5 635.5L1450 656.5L1462.5 635.5" fill="none" stroke="#000" stroke-width="6" stroke-linejoin="miter"/></g>
<g id="panel-d"><path d="M401.7 1364L401.7 925.7M738.7 1391.6L401.7 1364M571.5 1362.8L571.5 924.5M908.4 1390.3L571.5 1362.8M741.2 1361.6L741.2 923.3M1078.1 1388.9L741.2 1361.6M910.9 1360.4L910.9 922.1M1247.8 1387.6L910.9 1360.4M1080.7 1359.2L1080.7 920.9M1417.4 1386.2L1080.7 1359.2M1250.4 1358L1250.4 919.7M1587.1 1384.8L1250.4 1358M1549.8 1375.9L1549.8 937.6M463.7 1384.3L1549.8 1375.9M1444.6 1367.5L1444.6 929.2M358.4 1375.6L1444.6 1367.5M1339.3 1359.2L1339.3 920.9M253.1 1366.9L1339.3 1359.2M232 1302.6L1318.3 1294.9M1318.3 1294.9L1655 1321.7M232 1240L1318.3 1232.3M1318.3 1232.3L1655 1259.1M232 1177.4L1318.3 1169.7M1318.3 1169.7L1655 1196.5M232 1114.7L1318.3 1107M1318.3 1107L1655 1133.8M232 1052.1L1318.3 1044.4M1318.3 1044.4L1655 1071.2M232 989.5L1318.3 981.8M1318.3 981.8L1655 1008.6" stroke="#cfcfcf" stroke-width="1.9" fill="none"/><g transform="translate(0.75 0.75) scale(1.5)" fill="none" stroke-width="1.67" stroke-linecap="round"><path stroke="#0000ff" d="M829 628h0m-10 6h0m-5 1h0m18 1h0m-106 1h0m16 0h0m93 0h0m-106 6h0m123 0h0m-20 3h0m-57 1h0m-47 1h0m104 3h0m-49 1h0m72 0h0m-5 1h0m-117 1h0m102 1h0m-109 1h0m45 0h0m10 0h0m6 0h0m2 1h0m31 0h0m-12 2h0m-21 1h0m40 0h0m9 0h0m-88 1h0m-15 2h0m64 0h0m12 0h0m35 0h0m-109 1h0m98 0h0m-5 1h0m-80 1h0m38 0h0m62 0h0m-43 1h0m46 0h0m-109 1h0m10 0h0m101 0h0m-91 1h0m29 0h0m49 1h0m-88 1h0m57 0h0m15 0h0m15 0h0m-81 1h0m16 0h0m38 0h0m37 0h0m-124 1h0m38 0h0m19 0h0m40 0h0m-86 1h0m19 0h0m41 0h0m15 0h0m11 1h0m30 0h0m-61 1h0m31 0h0m-68 1h0m9 0h0m70 0h0m-109 1h0m43 0h0m-37 1h0m63 0h0m33 0h0m-97 1h0m36 0h0m45 0h0m19 0h0m-103 1h0m94 0h0m41 0h0m-95 1h0m78 0h0m-100 1h0m10 0h0m27 0h1m6 0h0m35 0h0m21 0h0m-42 1h0m38 0h0m-121 1h0m5 0h0m9 0h0m5 0h0m21 0h0m32 0h1m26 0h0m31 1h0m-57 1h0m6 0h0m13 0h0m32 0h0m-111 1h0m8 0h0m28 0h0m15 0h0m38 0h0m19 0h0m-87 1h0m2 0h0m31 0h0m12 0h0m-51 1h0m15 0h0m33 0h0m33 0h0m6 0h0m-110 1h0m15 0h0m12 0h0m63 0h0m19 0h0m-115 1h0m68 0h0m2 0h0m-75 1h0m79 0h0m-42 1h0m17 0h0m18 0h0m18 0h0m38 0h0m-92 1h0m33 0h0m11 0h0m3 0h0m21 0h0m3 0h1m-90 1h0m14 0h0m11 0h0m6 0h0m23 0h0m35 0h0m19 0h0m-60 1h0m26 0h0m33 0h1m2 0h0m-119 1h0m5 0h2m31 0h0m42 0h0m7 0h0m2 0h0m-50 1h0m11 0h0m15 0h0m6 0h0m27 0h0m16 0h0m-59 1h0m42 0h0m4 0h0m5 0h0m9 0h0m-115 1h0m7 0h0m7 0h0m6 0h0m27 0h0m76 0h0m-95 1h0m8 0h0m31 0h0m17 0h0m6 0h0m-73 1h0m19 0h0m35 0h0m-76 1h1m17 0h0m19 0h0m43 0h0m8 0h0m20 0h0m6 0h0m-97 1h0m40 0h2m20 0h0m49 0h0m8 0h0m-98 1h0m14 0h0m28 0h1m4 0h0m18 0h0m25 0h0m-122 1h0m31 0h0m9 0h0m24 0h0m4 0h0m41 0h0m9 0h0m9 0h0m-132 1h0m2 0h0m15 0h0m38 0h0m5 0h0m2 0h0m7 0h0m30 0h0m7 0h1m20 0h0m-111 1h0m6 0h0m12 0h0m31 0h0m4 0h0m42 0h0m5 0h0m8 0h0m-115 1h0m10 0h0m19 0h0m24 0h0m13 0h0m9 0h0m4 0h0m32 0h0m-103 1h0m5 0h0m25 0h0m5 0h0m20 0h0m14 0h0m46 0h0m-120 1h0m37 0h0m10 0h0m21 0h0m15 0h0m20 0h0m18 0h0m-120 1h1m8 0h0m49 0h0m23 0h0m17 0h0m-103 1h0m4 0h0m6 0h0m25 0h0m9 0h0m17 0h0m26 0h0m7 0h1m14 0h0m2 0h0m-94 1h0m16 0h0m7 0h0m4 0h0m7 0h0m4 0h0m5 0h0m2 0h0m23 0h0m13 0h0m20 0h0m6 0h0m2 0h0m-125 1h0m43 0h0m23 0h0m10 0h0m23 0h0m2 0h0m9 0h0m-96 1h0m7 0h0m6 0h0m22 0h0m18 0h0m15 0h0m2 0h0m36 0h0m-104 1h0m17 0h0m9 0h0m30 0h1m19 0h0m3 0h0m11 0h0m18 0h0m-111 1h1m15 0h0m3 0h0m15 0h0m47 0h0m29 0h0m11 0h0m-111 1h0m10 0h0m53 0h0m13 0h0m22 0h0m3 0h0m-131 1h0m8 0h0m2 0h0m3 0h0m11 0h0m53 0h0m7 0h0m31 0h0m23 0h0m4 0h0m-146 1h0m2 0h0m26 0h0m4 0h0m9 0h0m12 0h0m4 0h0m6 0h0m18 0h0m5 0h0m10 0h0m14 0h1m-95 1h0m15 0h0m4 0h0m9 0h0m7 0h0m13 0h0m7 0h0m3 0h0m27 0h0m10 0h0m10 0h0m5 0h0m4 0h0m3 0h0m-119 1h0m6 0h0m3 0h0m31 0h0m2 0h0m7 0h1m7 0h0m24 0h0m6 0h0m29 0h0m2 0h0m12 0h0m-144 1h0m7 0h1m20 0h0m19 0h0m19 0h0m3 0h0m2 0h0m4 0h0m2 0h0m13 0h0m8 0h1m14 0h1m18 0h0m-122 1h0m6 0h0m9 0h0m15 0h0m5 0h0m3 0h0m2 0h0m6 0h0m18 0h0m13 0h0m3 0h0m3 0h0m5 0h0m-100 1h0m20 0h0m16 0h0m3 0h0m15 0h1m8 0h0m4 0h0m68 0h0m-124 1h0m7 0h0m9 0h1m2 0h0m20 0h0m6 0h0m3 0h0m4 0h0m8 0h1m16 0h0m4 0h1m4 0h1m-79 1h0m6 0h1m2 0h1m3 0h0m6 0h0m3 0h0m4 0h0m3 0h1m5 0h0m2 0h0m6 0h0m3 0h1m14 0h0m3 0h0m8 0h0m12 0h0m9 0h0m12 0h0m7 0h0m4 0h0m-119 1h0m9 0h0m7 0h2m4 0h0m2 0h1m2 0h0m7 0h1m7 0h0m2 0h2m9 0h1m11 0h3m6 0h0m7 0h0m25 0h0m2 0h0m4 0h0m-110 1h2m5 0h0m8 0h0m5 0h0m3 0h0m8 0h0m7 0h1m11 0h0m10 0h0m7 0h1m7 0h0m20 0h0m9 0h0m5 0h0m-120 1h0m14 0h0m7 0h0m7 0h0m12 0h1m19 0h0m3 0h1m11 0h0m11 0h0m6 0h0m3 0h0m5 0h0m32 0h0m-134 1h0m4 0h0m3 0h0m4 0h1m8 0h0m5 0h0m4 0h0m2 0h0m2 0h2m5 0h4m19 0h0m2 0h0m3 0h0m2 0h0m9 0h1m4 0h0m7 0h0m9 0h0m7 0h0m24 0h0m-124 1h1m8 0h0m10 0h0m8 0h0m8 0h0m4 0h0m2 0h0m3 0h0m5 0h0m11 0h0m4 0h0m3 0h0m8 0h0m2 0h0m5 0h0m20 0h0m11 0h0m-127 1h0m14 0h0m3 0h0m4 0h0m10 0h0m6 0h0m2 0h0m10 0h0m4 0h0m7 0h0m3 0h0m3 0h0m5 0h0m6 0h0m8 0h0m2 0h0m8 0h0m14 0h0m25 0h0m-126 1h0m6 0h0m11 0h0m2 0h3m5 0h0m14 0h0m2 0h0m4 0h1m10 0h0m5 0h0m8 0h0m2 0h0m5 0h0m2 0h0m3 0h0m10 0h0m4 0h1m4 0h0m25 0h0m-111 1h0m3 0h0m7 0h0m2 0h0m4 0h0m6 0h0m12 0h1m10 0h0m3 0h0m3 0h0m5 0h2m5 0h0m7 0h0m15 0h0m5 0h0m-103 1h0m4 0h1m4 0h0m6 0h1m2 0h0m6 0h0m5 0h0m4 0h0m3 0h1m5 0h0m3 0h0m8 0h0m8 0h0m5 0h0m2 0h2m18 0h0m4 0h0m-103 1h0m3 0h0m15 0h1m4 0h1m3 0h1m2 0h0m8 0h0m7 0h0m7 0h0m6 0h0m3 0h0m2 0h0m5 0h0m5 0h0m4 0h0m2 0h0m2 0h0m4 0h0m2 0h0m8 0h0m4 0h0m-85 1h0m8 0h0m9 0h0m5 0h0m6 0h0m2 0h1m2 0h0m3 0h0m3 0h0m8 0h1m4 0h1m6 0h0m6 0h0m6 0h2m11 0h0m10 0h0m-99 1h0m2 0h0m6 0h1m7 0h0m9 0h1m9 0h0m4 0h0m8 0h0m2 0h0m5 0h0m6 0h0m2 0h1m3 0h0m2 0h0m2 0h2m2 0h0m6 0h0m5 0h0m3 0h0m2 0h0m3 0h1m6 0h0m8 0h0m-102 1h0m2 0h0m10 0h0m2 0h0m4 0h0m5 0h0m10 0h0m5 0h0m2 0h1m3 0h0m8 0h0m4 0h0m10 0h0m2 0h0m5 0h0m5 0h0m2 0h0m2 0h0m2 0h0m2 0h2m3 0h0m7 0h0m-118 1h0m7 0h0m2 0h0m5 0h0m5 0h0m4 0h0m2 0h0m5 0h0m7 0h0m8 0h0m3 0h0m3 0h0m2 0h0m4 0h0m2 0h2m4 0h0m2 0h0m2 0h1m2 0h0m3 0h1m2 0h1m4 0h0m3 0h0m2 0h0m2 0h0m4 0h2m5 0h0m2 0h0m6 0h0m-110 1h0m14 0h0m7 0h0m14 0h0m4 0h0m7 0h0m2 0h0m2 0h0m7 0h0m4 0h1m2 0h0m2 0h2m7 0h0m6 0h1m2 0h2m12 0h0m19 0h0m-101 1h0m8 0h0m4 0h2m2 0h1m2 0h0m3 0h0m2 0h1m4 0h0m2 0h0m2 0h0m3 0h1m8 0h0m2 0h0m4 0h0m2 0h0m11 0h0m2 0h0m4 0h0m3 0h0m3 0h1m2 0h0m3 0h1m2 0h0m17 0h0m-105 1h0m18 0h0m5 0h0m9 0h0m3 0h0m2 0h1m2 0h0m5 0h0m10 0h2m4 0h0m2 0h0m2 0h0m7 0h0m8 0h1m2 0h3m2 0h0m10 0h0m-112 1h0m18 0h1m2 0h0m4 0h0m5 0h0m2 0h0m6 0h3m4 0h1m4 0h0m2 0h0m2 0h0m2 0h1m5 0h0m4 0h0m2 0h0m7 0h1m2 0h0m3 0h2m8 0h2m2 0h0m9 0h0m2 0h1m9 0h0m-96 1h0m2 0h0m6 0h0m2 0h1m4 0h0m2 0h0m12 0h0m3 0h0m11 0h0m4 0h1m3 0h1m2 0h0m3 0h0m2 0h0m5 0h0m3 0h0m2 0h1m3 0h2m3 0h0m3 0h0m3 0h0m2 0h1m4 0h0m-102 1h0m8 0h0m4 0h0m8 0h0m8 0h1m4 0h0m4 0h2m3 0h1m4 0h0m4 0h0m3 0h0m2 0h0m11 0h0m5 0h0m9 0h0m2 0h0m2 0h0m2 0h0m3 0h0m4 0h0m17 0h0m4 0h0m-115 1h0m27 0h0m14 0h0m2 0h1m4 0h1m4 0h0m4 0h1m3 0h1m9 0h2m2 0h0m4 0h1m2 0h3m2 0h1m5 0h1m2 0h0m19 0h0m6 0h0m-122 1h0m2 0h0m10 0h0m2 0h0m7 0h0m6 0h0m2 0h0m4 0h0m3 0h0m2 0h0m4 0h0m5 0h0m2 0h1m2 0h0m5 0h0m5 0h0m8 0h1m2 0h1m3 0h0m2 0h0m10 0h0m2 0h0m11 0h1m3 0h0m8 0h0m-111 1h0m12 0h0m3 0h0m3 0h0m3 0h1m2 0h1m2 0h0m5 0h0m3 0h0m5 0h1m5 0h0m2 0h1m2 0h1m3 0h0m2 0h0m2 0h1m4 0h0m4 0h0m7 0h0m4 0h0m4 0h0m2 0h0m6 0h1m4 0h1m33 0h0m-123 1h0m3 0h0m3 0h1m2 0h0m2 0h0m8 0h0m3 0h0m6 0h0m4 0h0m7 0h2m2 0h0m8 0h0m6 0h3m7 0h0m5 0h3m7 0h0m5 0h4m2 0h1m2 0h0m2 0h0m-480 1h0m393 0h0m2 0h0m6 0h0m2 0h0m5 0h1m4 0h0m4 0h1m4 0h0m4 0h0m3 0h1m3 0h0m2 0h0m8 0h2m6 0h0m2 0h0m3 0h0m6 0h1m7 0h0m5 0h1m6 0h0m4 0h0m2 0h0m16 0h0m-142 1h0m10 0h0m8 0h3m2 0h0m7 0h0m3 0h0m2 0h0m5 0h1m3 0h0m7 0h0m6 0h1m2 0h1m5 0h0m2 0h0m3 0h0m2 0h0m2 0h2m2 0h1m2 0h0m4 0h0m8 0h1m2 0h0m2 0h0m2 0h0m8 0h0m8 0h0m9 0h0m-433 1h0m313 0h0m11 0h1m13 0h0m3 0h0m5 0h0m5 0h0m3 0h1m2 0h0m7 0h0m7 0h1m5 0h0m2 0h0m3 0h0m2 0h0m3 0h0m7 0h0m2 0h1m3 0h0m2 0h0m3 0h0m2 0h1m2 0h1m6 0h0m2 0h0m6 0h0m-94 1h0m2 0h2m3 0h0m6 0h0m3 0h0m2 0h1m5 0h0m2 0h0m3 0h1m5 0h0m3 0h2m5 0h1m6 0h0m3 0h1m2 0h7m5 0h1m4 0h0m3 0h0m3 0h1m6 0h0m8 0h0m4 0h0m-420 1h0m309 0h0m4 0h0m11 0h0m4 0h0m3 0h0m6 0h2m2 0h5m2 0h0m2 0h2m4 0h0m4 0h2m3 0h0m3 0h0m4 0h1m5 0h0m6 0h1m3 0h0m9 0h1m4 0h0m4 0h1m3 0h0m3 0h0m-461 1h0m353 0h0m15 0h0m9 0h0m4 0h0m2 0h0m2 0h0m3 0h0m5 0h0m4 0h0m3 0h1m6 0h0m8 0h0m3 0h0m7 0h1m3 0h0m3 0h0m3 0h0m4 0h1m6 0h2m3 0h0m11 0h0m-480 1h0m380 0h0m6 0h0m8 0h1m4 0h1m2 0h0m6 0h2m6 0h3m3 0h3m3 0h3m3 0h0m5 0h0m3 0h0m14 0h1m2 0h1m18 0h1m3 0h0m6 0h0m-114 1h1m8 0h0m8 0h2m2 0h0m4 0h0m5 0h0m4 0h0m5 0h0m4 0h1m5 0h0m3 0h0m2 0h0m2 0h0m4 0h1m4 0h0m6 0h0m2 0h0m2 0h1m2 0h0m5 0h0m2 0h0m4 0h1m4 0h0m7 0h0m-449 1h0m26 0h0m336 0h0m3 0h0m3 0h0m8 0h0m2 0h0m4 0h2m5 0h3m2 0h0m2 0h1m7 0h0m7 0h0m2 0h0m4 0h0m4 0h0m2 0h0m4 0h0m3 0h1m15 0h2m2 0h1m-102 1h0m2 0h0m6 0h1m2 0h0m9 0h0m5 0h0m3 0h0m2 0h0m6 0h0m2 0h0m9 0h2m2 0h1m2 0h0m4 0h0m3 0h2m3 0h0m2 0h1m7 0h1m2 0h0m2 0h1m2 0h1m2 0h2m17 0h0m2 0h0m-467 1h0m26 0h0m341 0h0m4 0h0m6 0h1m2 0h1m9 0h0m3 0h0m2 0h0m2 0h0m7 0h0m2 0h0m7 0h1m3 0h0m2 0h0m6 0h2m2 0h1m3 0h0m8 0h1m8 0h0m4 0h0m10 0h0m12 0h0m-402 1h0m289 0h0m6 0h0m4 0h0m2 0h0m7 0h1m5 0h0m4 0h0m4 0h0m4 0h1m3 0h0m8 0h1m3 0h0m2 0h1m3 0h0m4 0h0m6 0h0m4 0h0m7 0h0m5 0h0m2 0h0m11 0h0m5 0h1m-398 1h0m294 0h0m5 0h0m12 0h2m5 0h0m4 0h0m6 0h0m2 0h1m4 0h0m3 0h0m14 0h0m2 0h0m8 0h0m6 0h0m2 0h0m4 0h0m3 0h0m9 0h0m-99 1h0m14 0h0m6 0h0m2 0h0m4 0h0m2 0h1m5 0h0m10 0h0m3 0h0m4 0h0m4 0h0m10 0h0m2 0h0m11 0h0m4 0h0m2 0h0m3 0h1m6 0h0m8 0h0m3 0h0m-435 1h0m337 0h0m4 0h0m2 0h0m3 0h0m2 0h2m5 0h1m7 0h0m6 0h0m3 0h0m5 0h0m8 0h0m3 0h1m6 0h0m2 0h0m5 0h0m8 0h0m6 0h3m2 0h0m5 0h0m2 0h0m2 0h2m3 0h0m-453 1h0m15 0h0m10 0h0m35 0h0m297 0h0m15 0h0m2 0h0m3 0h0m6 0h1m2 0h2m2 0h1m8 0h0m2 0h2m16 0h1m2 0h0m2 0h0m7 0h0m7 0h0m2 0h0m14 0h0m8 0h0m-446 1h0m44 0h0m282 0h0m13 0h0m4 0h0m11 0h0m7 0h0m3 0h0m6 0h0m8 0h0m14 0h0m5 0h1m15 0h0m2 0h0m15 0h0m9 0h0m3 0h0m-430 1h0m13 0h0m295 0h0m3 0h0m21 0h0m11 0h1m2 0h0m7 0h2m2 0h0m5 0h0m11 0h1m4 0h1m2 0h0m2 0h1m6 0h0m10 0h0m4 0h1m2 0h0m9 0h0m3 0h0m9 0h0m4 0h0m-489 1h0m75 0h0m297 0h0m6 0h0m10 0h0m4 0h0m5 0h0m9 0h0m11 0h0m4 0h0m8 0h0m2 0h0m5 0h0m5 0h0m2 0h0m3 0h0m12 0h0m3 0h0m11 0h0m-456 1h0m12 0h0m7 0h0m38 0h0m6 0h0m6 0h0m289 0h0m7 0h0m13 0h0m5 0h0m5 0h0m7 0h1m5 0h0m13 0h0m16 0h0m3 0h0m11 0h0m5 0h0m9 0h0m2 0h0m30 0h0m-489 1h0m359 0h0m4 0h0m10 0h0m12 0h0m25 0h1m12 0h0m3 0h2m5 0h0m5 0h0m5 0h0m6 0h2m4 0h0m6 0h1m-465 1h0m6 0h0m42 0h0m5 0h0m22 0h0m6 0h0m276 0h0m7 0h0m8 0h0m18 0h0m4 0h2m13 0h1m2 0h1m9 0h0m11 0h0m3 0h0m3 0h0m12 0h0m11 0h1m-464 1h0m5 0h0m13 0h1m58 0h0m279 0h0m27 0h0m27 0h0m7 0h0m13 0h0m12 0h0m-361 1h0m285 0h1m3 0h0m13 0h0m15 0h0m4 0h0m2 0h0m7 0h0m6 0h0m4 0h0m38 0h0m7 0h0m10 0h0m-478 1h0m18 0h0m36 0h0m10 0h0m17 0h0m300 0h0m19 0h0m11 0h0m4 0h0m20 0h0m15 0h1m-435 1h0m4 0h0m4 0h0m15 0h0m26 0h0m297 0h1m2 0h0m8 0h0m3 0h0m22 0h0m7 0h0m14 0h1m25 0h0m15 0h0m17 0h0m-105 1h0m42 0h0m33 0h1m9 0h0m8 0h0m-393 1h0m288 0h0m74 0h0m39 0h0m-463 1h0m12 0h0m6 0h0m13 0h1m21 0h0m293 0h0m6 0h0m3 0h0m5 0h0m27 0h0m18 0h0m12 0h0m11 0h1m14 0h0m18 0h0m-468 1h0m368 0h0m7 0h0m5 0h0m30 0h0m8 0h0m12 0h0m13 0h1m3 0h0m8 0h0m-460 1h0m29 0h0m37 0h0m289 0h0m7 0h1m3 0h0m78 0h1m14 0h0m5 0h1m-471 1h0m32 0h0m50 0h0m282 0h0m20 0h0m54 0h0m-437 1h0m2 0h0m6 0h0m27 0h0m13 0h0m312 0h0m4 0h0m4 0h0m26 0h0m3 0h0m7 0h0m32 0h0m14 0h0m4 0h0m-394 1h0m315 0h0m11 0h0m21 0h0m22 0h0m-366 1h0m2 0h0m293 0h0m26 0h0m-309 1h0m8 0h0m6 0h0m270 0h0m54 0h0m69 0h0m-441 1h0m400 0h0m-432 1h0m63 0h1m349 0h0m-404 1h0m72 0h0m280 0h0m6 0h0m59 0h0m5 0h0m-407 1h0m59 0h0m276 0h0m-305 1h0m13 0h0m294 0h0m-306 1h0m11 0h0m363 0h0m-399 1h0m30 0h0m-36 1h0m-5 1h0m38 1h0m-15 1h0m27 0h0m8 0h0m-64 2h0m2 0h0m12 0h0m17 0h0m-10 1h0m6 0h0m3 1h0m-4 9h0"/><path stroke="#ff00ff" d="M672 620h0m42 0h0m6 0h0m10 0h0m8 0h1m6 0h0m5 0h0m3 0h0m2 0h0m6 0h0m3 0h0m3 0h2m20 0h0m4 0h0m5 0h0m-109 1h0m14 0h0m4 0h0m16 0h0m15 0h1m10 0h0m6 0h1m4 0h1m3 0h0m7 0h0m2 0h0m2 0h0m5 0h0m2 0h0m2 0h0m9 0h0m4 0h0m12 0h0m3 0h0m14 0h0m-148 1h0m35 0h0m27 0h0m3 0h0m2 0h2m2 0h0m2 0h3m3 0h0m2 0h2m4 0h0m5 0h0m3 0h0m2 0h2m10 0h0m8 0h0m6 0h0m3 0h0m-149 1h0m11 0h0m43 0h1m10 0h0m7 0h0m13 0h0m5 0h0m3 0h0m2 0h1m5 0h1m2 0h0m3 0h1m2 0h2m7 0h1m6 0h0m4 0h0m3 0h0m8 0h0m5 0h0m7 0h1m-120 1h0m10 0h0m11 0h0m15 0h0m7 0h0m2 0h0m2 0h0m8 0h0m4 0h0m3 0h0m2 0h5m2 0h0m5 0h1m2 0h0m2 0h0m2 0h0m2 0h1m2 0h0m2 0h0m9 0h0m2 0h2m3 0h0m5 0h0m4 0h0m10 0h0m-107 1h1m3 0h2m13 0h0m10 0h0m7 0h0m2 0h0m4 0h2m2 0h0m5 0h0m8 0h0m2 0h2m4 0h1m2 0h0m2 0h2m3 0h0m4 0h2m4 0h0m2 0h0m5 0h0m4 0h0m2 0h0m5 0h0m6 0h0m-127 1h0m9 0h0m12 0h1m9 0h1m8 0h0m3 0h0m5 0h0m3 0h0m7 0h0m3 0h0m3 0h1m2 0h0m3 0h0m2 0h1m3 0h1m2 0h0m4 0h1m3 0h0m2 0h1m3 0h0m2 0h0m2 0h0m2 0h0m3 0h0m23 0h0m7 0h1m-127 1h0m7 0h0m6 0h0m2 0h0m2 0h0m4 0h2m2 0h0m5 0h0m3 0h0m3 0h3m5 0h0m5 0h1m4 0h0m2 0h0m8 0h0m2 0h0m2 0h1m2 0h5m3 0h2m2 0h1m8 0h0m4 0h1m2 0h0m3 0h0m4 0h0m-458 1h0m352 0h0m3 0h0m9 0h0m9 0h0m2 0h1m5 0h0m4 0h0m6 0h0m4 0h0m3 0h0m2 0h2m3 0h0m5 0h2m2 0h2m3 0h4m2 0h0m3 0h3m2 0h1m2 0h2m2 0h0m4 0h1m3 0h0m2 0h0m2 0h0m2 0h3m11 0h0m5 0h0m2 0h0m-478 1h0m373 0h0m3 0h0m5 0h0m12 0h0m7 0h0m2 0h1m3 0h0m3 0h1m4 0h3m4 0h5m2 0h0m3 0h0m3 0h2m2 0h0m5 0h0m2 0h1m2 0h0m2 0h0m3 0h0m16 0h0m4 0h0m4 0h0m-495 1h0m346 0h0m25 0h0m10 0h0m2 0h0m9 0h0m7 0h1m5 0h2m3 0h0m3 0h1m2 0h0m5 0h8m2 0h1m2 0h0m2 0h1m2 0h4m2 0h0m3 0h3m4 0h1m3 0h2m2 0h2m7 0h1m2 0h3m4 0h0m7 0h0m24 0h0m3 0h0m-501 1h0m7 0h0m330 0h0m27 0h0m6 0h0m6 0h0m5 0h0m2 0h0m2 0h1m7 0h0m9 0h0m3 0h0m4 0h1m2 0h2m5 0h0m2 0h9m2 0h0m3 0h1m2 0h0m3 0h1m2 0h0m2 0h1m2 0h2m2 0h1m4 0h0m3 0h0m2 0h0m8 0h1m2 0h2m3 0h1m17 0h0m-158 1h0m17 0h0m6 0h0m3 0h0m3 0h1m7 0h0m11 0h1m4 0h1m3 0h2m2 0h1m4 0h2m2 0h4m4 0h6m3 0h2m2 0h2m2 0h1m2 0h1m3 0h0m4 0h0m2 0h0m2 0h0m3 0h2m2 0h0m2 0h0m3 0h0m3 0h1m10 0h0m14 0h0m-514 1h0m29 0h0m4 0h0m5 0h0m356 0h0m3 0h0m3 0h0m12 0h0m3 0h1m2 0h1m3 0h0m5 0h0m2 0h3m2 0h0m4 0h0m5 0h5m2 0h5m2 0h0m2 0h0m3 0h4m2 0h7m2 0h1m3 0h3m3 0h1m3 0h2m5 0h1m2 0h0m24 0h0m-514 1h0m22 0h0m6 0h0m339 0h0m7 0h0m2 0h1m3 0h0m6 0h0m5 0h0m4 0h0m2 0h3m2 0h1m3 0h3m4 0h2m2 0h3m2 0h17m3 0h8m2 0h2m2 0h6m2 0h0m2 0h6m6 0h1m2 0h0m10 0h0m2 0h0m2 0h1m-514 1h0m12 0h0m8 0h0m17 0h0m322 0h0m39 0h0m6 0h0m5 0h0m3 0h0m8 0h1m2 0h2m3 0h2m3 0h1m3 0h6m3 0h2m2 0h10m2 0h0m4 0h8m2 0h3m2 0h0m3 0h0m3 0h1m3 0h4m2 0h1m7 0h0m9 0h0m3 0h1m-507 1h0m3 0h0m3 0h0m7 0h0m2 0h0m10 0h1m4 0h0m7 0h0m297 0h0m10 0h0m44 0h0m5 0h0m3 0h0m2 0h0m4 0h0m4 0h0m2 0h2m2 0h1m2 0h0m2 0h4m2 0h0m2 0h0m2 0h1m2 0h3m2 0h4m3 0h10m2 0h1m2 0h1m2 0h0m2 0h2m3 0h1m2 0h1m2 0h1m4 0h1m2 0h0m4 0h1m16 0h0m10 0h0m-505 1h0m4 0h1m10 0h0m2 0h0m2 0h0m2 0h0m3 0h0m2 0h0m5 0h0m25 0h0m276 0h0m7 0h0m9 0h0m6 0h0m11 0h1m19 0h0m9 0h0m8 0h0m4 0h0m6 0h0m2 0h2m2 0h7m3 0h3m2 0h1m2 0h7m2 0h0m2 0h0m3 0h2m2 0h7m3 0h3m3 0h1m7 0h1m3 0h0m2 0h1m2 0h0m3 0h0m14 0h0m-514 1h0m6 0h0m2 0h0m6 0h0m3 0h0m7 0h0m4 0h1m5 0h0m4 0h0m2 0h0m5 0h0m9 0h0m4 0h0m283 0h0m10 0h0m12 0h0m14 0h0m7 0h0m8 0h0m2 0h1m4 0h0m5 0h0m5 0h0m2 0h0m2 0h2m3 0h0m2 0h1m4 0h2m3 0h1m2 0h4m3 0h1m2 0h2m3 0h11m2 0h1m2 0h3m2 0h3m2 0h1m2 0h1m2 0h0m3 0h1m3 0h0m5 0h0m2 0h1m5 0h0m-508 1h0m4 0h0m3 0h1m6 0h0m2 0h0m25 0h0m4 0h0m12 0h0m28 0h0m295 0h1m16 0h2m12 0h0m3 0h2m9 0h3m2 0h0m2 0h0m3 0h0m2 0h1m2 0h6m2 0h0m2 0h21m2 0h1m2 0h12m2 0h1m3 0h0m2 0h1m3 0h0m4 0h1m3 0h0m2 0h0m2 0h0m4 0h0m4 0h0m-512 1h0m3 0h0m4 0h0m11 0h0m14 0h0m3 0h0m3 0h0m4 0h0m4 0h0m2 0h0m2 0h0m17 0h0m289 0h0m19 0h0m9 0h0m3 0h0m7 0h0m6 0h0m3 0h0m3 0h0m5 0h5m2 0h1m2 0h0m3 0h0m3 0h3m3 0h2m2 0h1m2 0h7m2 0h7m2 0h11m2 0h0m8 0h0m2 0h0m2 0h2m2 0h0m3 0h0m2 0h0m5 0h0m5 0h0m6 0h0m2 0h0m-513 1h0m11 0h1m17 0h0m3 0h1m7 0h0m6 0h0m2 0h2m3 0h0m2 0h0m3 0h0m2 0h0m299 0h0m8 0h0m8 0h0m2 0h1m3 0h0m23 0h0m2 0h0m2 0h1m2 0h0m2 0h0m2 0h3m2 0h0m3 0h1m2 0h0m2 0h1m2 0h2m2 0h1m2 0h3m2 0h4m2 0h1m2 0h2m2 0h1m2 0h1m2 0h4m3 0h1m2 0h5m2 0h2m4 0h0m3 0h1m3 0h1m3 0h0m11 0h0m9 0h1m-520 1h0m12 0h0m2 0h0m6 0h0m5 0h0m16 0h0m2 0h1m6 0h0m2 0h1m4 0h0m6 0h0m3 0h0m9 0h0m13 0h0m260 0h0m7 0h0m39 0h0m6 0h0m4 0h1m7 0h2m2 0h0m2 0h1m3 0h1m2 0h4m4 0h7m2 0h1m2 0h11m2 0h0m2 0h0m2 0h10m2 0h2m2 0h1m2 0h1m3 0h0m2 0h0m3 0h0m2 0h0m3 0h0m2 0h0m7 0h1m4 0h1m3 0h0m16 0h0m-516 1h1m6 0h0m7 0h0m5 0h1m8 0h0m6 0h0m4 0h0m8 0h0m4 0h0m7 0h0m2 0h0m11 0h0m3 0h0m257 0h0m42 0h0m8 0h2m8 0h0m7 0h0m3 0h1m2 0h0m5 0h3m3 0h0m3 0h1m2 0h7m2 0h2m2 0h3m2 0h2m2 0h5m2 0h8m2 0h3m3 0h2m2 0h1m2 0h0m2 0h5m4 0h0m2 0h2m3 0h1m4 0h0m2 0h2m8 0h1m10 0h0m-517 1h0m4 0h1m3 0h0m2 0h0m4 0h0m3 0h0m4 0h1m5 0h0m6 0h1m2 0h0m12 0h0m6 0h0m5 0h0m4 0h0m2 0h0m5 0h0m3 0h0m6 0h0m4 0h0m257 0h0m22 0h0m11 0h0m14 0h0m6 0h0m2 0h0m2 0h0m3 0h0m2 0h3m2 0h1m2 0h2m2 0h1m2 0h0m2 0h1m2 0h2m3 0h2m2 0h0m2 0h0m2 0h1m3 0h6m2 0h4m2 0h2m2 0h0m2 0h4m2 0h3m2 0h4m5 0h1m2 0h0m4 0h0m6 0h0m3 0h0m22 0h0m-526 1h0m8 0h1m6 0h1m5 0h1m2 0h0m6 0h0m3 0h1m10 0h0m8 0h0m9 0h1m8 0h0m8 0h0m6 0h0m271 0h0m10 0h0m4 0h0m6 0h0m13 0h0m15 0h0m2 0h0m2 0h1m3 0h0m3 0h0m3 0h1m3 0h0m2 0h6m2 0h3m2 0h1m2 0h1m2 0h0m2 0h4m4 0h2m3 0h1m2 0h3m2 0h2m2 0h0m2 0h7m2 0h1m2 0h1m2 0h0m8 0h0m12 0h0m2 0h0m6 0h0m-514 1h0m4 0h1m6 0h0m3 0h0m2 0h0m2 0h1m5 0h1m3 0h0m4 0h2m2 0h3m2 0h3m3 0h2m2 0h0m3 0h1m8 0h0m3 0h0m2 0h1m5 0h0m7 0h0m21 0h0m265 0h0m15 0h1m16 0h1m5 0h0m7 0h1m2 0h1m4 0h6m2 0h0m2 0h0m3 0h3m2 0h0m2 0h13m2 0h0m2 0h1m3 0h1m2 0h10m2 0h2m4 0h0m3 0h1m8 0h0m3 0h0m3 0h1m4 0h3m3 0h0m9 0h0m2 0h0m3 0h0m-529 1h0m13 0h0m2 0h1m2 0h1m3 0h0m8 0h0m8 0h0m2 0h0m2 0h3m5 0h1m4 0h0m3 0h0m11 0h1m2 0h1m6 0h1m2 0h0m4 0h2m4 0h0m3 0h0m281 0h0m12 0h0m6 0h0m3 0h1m7 0h0m9 0h2m2 0h6m4 0h2m4 0h0m5 0h2m2 0h1m2 0h2m2 0h8m2 0h4m2 0h0m2 0h1m3 0h1m6 0h2m2 0h1m3 0h0m4 0h0m2 0h0m2 0h0m3 0h4m2 0h0m3 0h0m5 0h0m4 0h0m-513 1h0m8 0h1m4 0h0m5 0h0m2 0h1m7 0h1m2 0h0m3 0h0m2 0h0m2 0h0m4 0h0m2 0h2m2 0h0m3 0h0m4 0h0m15 0h0m3 0h0m6 0h0m6 0h0m11 0h0m20 0h0m256 0h0m5 0h0m12 0h0m2 0h1m6 0h0m2 0h0m5 0h0m2 0h0m9 0h3m2 0h3m2 0h3m3 0h0m2 0h10m2 0h1m2 0h1m2 0h3m2 0h11m2 0h0m8 0h0m2 0h1m3 0h1m2 0h0m4 0h0m6 0h2m2 0h0m3 0h0m4 0h0m11 0h0m7 0h0m-515 1h1m2 0h1m3 0h2m2 0h3m2 0h4m3 0h5m3 0h1m2 0h2m2 0h0m6 0h0m2 0h0m5 0h0m4 0h0m6 0h1m3 0h1m3 0h0m5 0h0m2 0h1m9 0h0m22 0h0m254 0h0m2 0h0m2 0h0m10 0h0m21 0h0m2 0h1m2 0h0m9 0h0m2 0h0m4 0h0m3 0h0m2 0h2m2 0h0m3 0h10m2 0h0m2 0h2m2 0h0m2 0h1m3 0h5m2 0h0m3 0h0m7 0h2m4 0h0m3 0h0m4 0h0m2 0h1m3 0h0m3 0h0m4 0h0m-500 1h0m6 0h0m13 0h0m6 0h1m3 0h0m2 0h1m4 0h0m4 0h0m4 0h0m2 0h0m2 0h1m5 0h0m3 0h0m2 0h0m2 0h0m2 0h0m2 0h0m8 0h0m2 0h0m3 0h0m17 0h0m8 0h0m10 0h0m251 0h1m19 0h1m5 0h1m5 0h0m7 0h0m7 0h3m6 0h2m2 0h5m2 0h0m5 0h0m2 0h4m2 0h3m2 0h3m2 0h0m2 0h0m2 0h0m2 0h0m2 0h3m3 0h0m2 0h0m2 0h1m10 0h0m8 0h0m2 0h0m17 0h0m-507 1h0m2 0h2m2 0h0m7 0h2m5 0h1m4 0h2m2 0h0m5 0h2m3 0h0m2 0h1m2 0h2m2 0h0m2 0h0m2 0h0m3 0h0m10 0h1m2 0h0m6 0h1m2 0h1m5 0h1m14 0h0m4 0h0m4 0h0m263 0h0m18 0h1m4 0h0m4 0h0m3 0h1m5 0h0m7 0h0m2 0h1m2 0h0m2 0h0m2 0h0m3 0h1m2 0h1m4 0h1m2 0h3m2 0h0m2 0h2m2 0h4m3 0h0m3 0h1m3 0h0m3 0h0m2 0h0m4 0h0m3 0h0m8 0h0m4 0h0m4 0h0m2 0h0m3 0h0m21 0h0m-521 1h0m2 0h2m5 0h0m9 0h2m8 0h1m6 0h0m6 0h1m3 0h1m4 0h0m2 0h0m3 0h5m3 0h0m3 0h1m7 0h0m3 0h2m3 0h0m2 0h0m4 0h0m28 0h0m8 0h0m258 0h0m5 0h0m6 0h0m6 0h1m8 0h0m2 0h0m7 0h0m2 0h0m7 0h0m3 0h2m3 0h0m2 0h2m2 0h0m2 0h2m5 0h0m2 0h1m3 0h1m5 0h1m2 0h0m5 0h2m5 0h0m2 0h0m2 0h0m6 0h0m13 0h0m2 0h0m2 0h0m5 0h0m7 0h0m-515 1h0m6 0h0m9 0h1m3 0h1m7 0h2m5 0h1m4 0h1m3 0h0m2 0h1m2 0h0m4 0h1m2 0h3m4 0h1m2 0h0m2 0h0m2 0h0m2 0h1m2 0h2m3 0h0m3 0h0m2 0h0m2 0h0m3 0h0m4 0h0m2 0h0m2 0h1m5 0h1m19 0h0m226 0h0m36 0h0m6 0h0m3 0h0m2 0h0m10 0h0m2 0h1m2 0h0m4 0h1m2 0h0m3 0h0m6 0h0m2 0h1m2 0h0m4 0h3m4 0h0m2 0h0m4 0h0m3 0h1m2 0h3m3 0h0m5 0h2m3 0h0m2 0h1m5 0h1m3 0h2m7 0h1m5 0h2m8 0h0m-505 1h0m4 0h0m9 0h0m2 0h0m6 0h1m6 0h0m9 0h0m2 0h1m3 0h0m4 0h0m3 0h1m4 0h2m2 0h3m3 0h0m5 0h1m2 0h1m3 0h0m3 0h1m2 0h4m3 0h0m4 0h2m2 0h0m2 0h0m10 0h0m4 0h0m270 0h0m15 0h1m4 0h0m2 0h1m7 0h0m2 0h0m4 0h0m3 0h1m7 0h3m2 0h0m2 0h1m2 0h0m2 0h3m3 0h0m9 0h1m4 0h0m2 0h0m2 0h0m2 0h1m4 0h0m3 0h1m11 0h0m17 0h0m4 0h1m-525 1h0m25 0h0m13 0h0m9 0h0m4 0h3m6 0h1m4 0h0m3 0h1m6 0h5m5 0h3m2 0h0m4 0h1m3 0h1m6 0h0m9 0h0m249 0h0m29 0h0m3 0h0m13 0h1m7 0h0m3 0h0m10 0h0m16 0h0m2 0h0m2 0h3m4 0h2m2 0h2m2 0h1m3 0h0m4 0h0m4 0h0m10 0h0m10 0h0m6 0h0m-496 1h0m18 0h0m4 0h0m6 0h0m5 0h0m5 0h0m5 0h0m2 0h0m7 0h2m3 0h0m2 0h0m4 0h0m2 0h0m4 0h0m3 0h1m2 0h0m3 0h3m2 0h0m6 0h0m2 0h0m2 0h1m2 0h0m2 0h0m2 0h1m6 0h0m313 0h0m3 0h0m9 0h0m8 0h0m2 0h0m4 0h0m2 0h0m2 0h0m2 0h0m8 0h0m2 0h0m2 0h1m2 0h0m2 0h0m3 0h1m9 0h0m2 0h1m16 0h0m6 0h0m3 0h0m-496 1h0m16 0h0m2 0h0m12 0h0m6 0h1m5 0h0m3 0h0m3 0h2m3 0h0m4 0h2m2 0h2m2 0h4m2 0h2m2 0h0m5 0h0m4 0h0m6 0h0m7 0h0m8 0h0m12 0h0m233 0h0m23 0h0m25 0h0m2 0h0m4 0h0m11 0h1m2 0h0m7 0h1m3 0h0m2 0h0m4 0h3m3 0h1m2 0h0m9 0h0m9 0h2m3 0h0m2 0h0m6 0h1m7 0h0m3 0h0m-479 1h1m9 0h0m22 0h0m7 0h1m4 0h0m2 0h1m2 0h5m6 0h1m2 0h0m3 0h0m4 0h0m3 0h1m4 0h0m2 0h0m5 0h0m8 0h0m5 0h1m2 0h1m3 0h0m243 0h0m20 0h0m6 0h0m2 0h0m15 0h0m2 0h0m5 0h0m6 0h0m7 0h0m6 0h1m3 0h1m4 0h0m7 0h0m10 0h0m8 0h2m3 0h0m10 0h0m-492 1h0m44 0h2m3 0h0m8 0h0m10 0h0m4 0h0m9 0h0m2 0h1m2 0h0m2 0h3m3 0h1m3 0h0m7 0h0m8 0h0m2 0h0m2 0h0m2 0h0m3 0h0m2 0h1m3 0h0m259 0h0m8 0h0m15 0h0m7 0h0m15 0h0m5 0h0m12 0h0m8 0h0m2 0h0m6 0h0m5 0h0m3 0h0m6 0h0m2 0h0m2 0h0m2 0h0m18 0h0m3 0h0m-472 1h0m5 0h0m20 0h0m5 0h0m2 0h0m2 0h0m8 0h0m3 0h0m2 0h0m2 0h0m2 0h0m5 0h0m2 0h0m2 0h0m4 0h0m2 0h0m2 0h0m5 0h0m2 0h6m8 0h0m2 0h0m285 0h1m2 0h1m8 0h0m2 0h0m2 0h0m7 0h0m4 0h0m7 0h1m10 0h0m3 0h0m5 0h0m7 0h0m2 0h0m-455 1h0m9 0h0m9 0h0m16 0h0m16 0h0m2 0h0m10 0h1m4 0h0m3 0h0m6 0h1m3 0h1m9 0h6m12 0h4m2 0h0m263 0h0m18 0h0m11 0h0m13 0h0m10 0h0m7 0h0m6 0h0m8 0h0m8 0h0m2 0h0m5 0h0m15 0h0m-457 1h0m11 0h0m5 0h0m6 0h0m6 0h2m11 0h0m3 0h0m2 0h0m4 0h0m5 0h0m3 0h1m3 0h1m2 0h0m3 0h0m3 0h0m17 0h2m286 0h1m2 0h0m3 0h0m6 0h0m3 0h0m3 0h0m31 0h0m3 0h0m7 0h0m5 0h0m12 0h0m-473 1h0m3 0h0m21 0h0m28 0h0m2 0h0m6 0h0m2 0h0m3 0h0m2 0h0m2 0h0m3 0h0m6 0h2m8 0h0m3 0h0m3 0h0m2 0h0m2 0h0m7 0h0m3 0h0m4 0h0m270 0h0m9 0h1m5 0h0m29 0h0m11 0h0m36 0h0m-451 1h0m5 0h0m25 0h0m5 0h0m8 0h0m4 0h0m4 0h2m2 0h0m2 0h2m5 0h0m7 0h0m2 0h0m16 0h0m6 0h0m264 0h0m32 0h0m19 0h1m10 0h0m5 0h0m27 0h0m-462 1h0m31 0h0m2 0h0m11 0h0m2 0h0m2 0h0m5 0h0m3 0h1m3 0h0m2 0h0m2 0h0m2 0h0m4 0h0m2 0h0m3 0h0m3 0h0m4 0h0m4 0h1m3 0h0m9 0h0m316 0h0m9 0h0m8 0h1m3 0h0m11 0h0m-407 1h0m11 0h0m21 0h0m2 0h0m2 0h0m7 0h1m4 0h0m3 0h0m2 0h0m283 0h0m9 0h0m8 0h0m6 0h0m14 0h0m16 0h0m6 0h0m-387 1h0m6 0h1m9 0h0m4 0h0m2 0h1m2 0h0m8 0h1m3 0h0m3 0h3m17 0h0m269 0h0m6 0h0m3 0h0m4 0h0m22 0h0m15 0h0m-403 1h0m23 0h0m14 0h0m9 0h2m8 0h0m5 0h0m6 0h0m2 0h0m7 0h0m278 0h0m5 0h0m9 0h0m41 0h0m13 0h0m-442 1h0m44 0h2m14 0h0m4 0h0m2 0h0m7 0h0m3 0h1m3 0h0m3 0h0m3 0h0m4 0h0m7 0h0m3 0h0m290 0h0m36 0h0m-419 1h0m49 0h0m8 0h0m3 0h0m6 0h0m7 0h0m6 0h0m5 0h0m4 0h0m2 0h0m291 0h0m48 0h0m-430 1h0m74 0h0m3 0h1m5 0h0m2 0h0m7 0h0m272 0h0m-301 1h0m9 0h0m3 0h0m3 0h0m336 0h0m33 0h0m-414 1h0m57 0h0m290 0h0m54 0h0m-370 1h0m291 0h0m-267 1h0m6 0h0m292 0h0m-315 1h0m3 0h0m-2 1h0m5 0h0m295 0h0m22 0h0m42 0h0m-373 1h0m317 0h0m-296 1h1m285 0h0m-288 1h0m277 0h0m8 0h0m3 0h0m21 0h0m-22 1h0m-284 1h0m294 0h0m-5 1h0m52 0h0m-63 1h0m9 0h0m22 0h0m-22 1h0m-6 2h0m36 0h0m-32 1h0m48 0h0m11 0h0m-62 1h0m2 0h0m6 0h1m32 1h0m1 1h0m3 0h0m8 1h0m-47 1h0m13 0h0m-10 1h0m32 0h0m33 2h0m-73 1h0m6 0h1m-13 1h0m2 0h0m16 0h0m44 0h0m38 0h0m-97 1h0m12 1h0m23 0h0m-47 1h0m11 0h0m8 1h0m20 0h0m22 0h1m-372 1h0m327 0h0m5 0h0m5 0h0m-354 1h0m354 1h0m2 0h0m29 0h0m-56 1h0m18 0h0m29 0h0m-350 1h0m310 0h0m81 0h0m-70 1h0m10 0h0m11 0h0m24 0h0m-398 2h0m389 0h0m11 0h0m-45 1h0m-357 1h0m347 0h0m35 1h0m13 0h0m-34 1h0m-374 1h0m24 0h0m9 0h0m391 0h0m-37 1h0m42 0h0m-57 2h0m38 0h0m6 0h0m-39 2h0m-4 1h0m34 0h0m-47 1h0m59 0h0m-66 1h0m18 0h0m18 0h0m8 0h0m-373 1h0m34 0h0m29 0h0m-63 1h1m6 0h0m339 0h0m13 0h0m-373 1h1m7 0h0m6 0h1m7 0h1m6 0h0m19 0h0m2 0h1m5 0h0m7 0h0m13 0h0m277 0h0m8 0h0m-361 1h0m8 0h0m13 0h1m21 0h0m7 0h0m6 0h0m-61 1h0m7 0h0m6 0h0m7 0h0m48 0h0m7 0h1m7 0h0m-76 1h0m12 0h0m7 0h1m7 0h0m13 0h2m20 0h0m14 0h0m-77 1h0m13 0h0m7 0h0m8 0h0m7 0h0m14 0h0m6 0h0m21 0h0m-84 1h1m8 0h0m13 0h0m14 0h0m13 0h1m20 0h1m-70 1h0m8 0h0m13 0h0m27 0h0m7 0h1m5 0h0m2 0h0m21 0h0m-84 1h0m7 0h0m7 0h1m6 0h0m6 0h2m12 0h2m6 0h0m7 0h0m14 0h0m7 0h0m6 0h1m-84 1h0m8 0h0m7 0h0m7 0h0m7 0h0m7 0h0m5 0h0m8 0h0m6 0h0m8 0h0m7 0h0m7 0h0m6 0h0m-82 1h0m6 0h0m7 0h0m8 0h0m6 0h1m6 0h0m7 0h0m6 0h0m2 0h0m6 0h0m6 0h0m7 0h0m7 0h2m-78 1h0m14 0h1m6 0h0m6 0h1m7 0h0m5 0h2m7 0h0m6 0h2m5 0h0m7 0h2m13 0h0m-83 1h0m5 0h0m8 0h0m7 0h0m14 0h1m5 0h0m7 0h0m15 0h0m7 0h0m6 0h1m6 0h0m-75 1h0m5 0h1m6 0h1m7 0h0m7 0h1m5 0h1m6 0h1m7 0h0m6 0h1m13 0h1m7 0h0m-85 1h2m7 0h0m7 0h0m6 0h1m6 0h1m5 0h1m6 0h2m6 0h1m5 0h1m7 0h1m5 0h1m7 0h1m5 0h1m-85 1h1m7 0h1m6 0h1m6 0h0m7 0h0m5 0h0m2 0h1m6 0h1m6 0h0m6 0h2m5 0h1m8 0h0m6 0h0m6 0h1m-85 1h1m7 0h1m6 0h0m13 0h2m6 0h0m7 0h1m5 0h1m13 0h1m6 0h2m5 0h1m7 0h1m-86 1h2m6 0h0m7 0h0m7 0h0m8 0h0m5 0h1m7 0h0m6 0h1m7 0h0m7 0h1m6 0h1m6 0h0m8 0h0m-85 1h1m5 0h1m2 0h0m5 0h1m6 0h0m7 0h0m7 0h1m5 0h2m6 0h1m6 0h0m7 0h0m6 0h1m7 0h0m5 0h3m-85 1h0m7 0h0m6 0h2m6 0h1m5 0h0m2 0h0m5 0h1m13 0h2m6 0h1m6 0h0m6 0h2m5 0h1m6 0h1m-84 1h1m7 0h0m5 0h2m5 0h2m6 0h0m8 0h0m12 0h1m7 0h1m6 0h0m5 0h2m7 0h0m-78 1h0m2 0h0m6 0h1m7 0h0m5 0h2m5 0h1m6 0h2m6 0h0m6 0h2m7 0h0m6 0h1m6 0h0m6 0h0m2 0h0m6 0h0m-84 1h0m7 0h1m6 0h0m6 0h0m2 0h0m6 0h1m6 0h0m13 0h0m7 0h2m6 0h0m7 0h0m6 0h2m-79 1h3m4 0h2m14 0h0m6 0h0m6 0h0m7 0h1m6 0h0m7 0h2m6 0h1m12 0h1m7 0h0m-84 1h1m6 0h1m6 0h1m6 0h1m5 0h2m6 0h1m6 0h1m5 0h1m7 0h1m5 0h1m6 0h2m6 0h1m6 0h1m-85 1h0m7 0h1m6 0h0m7 0h1m5 0h1m7 0h0m7 0h1m5 0h1m6 0h2m13 0h0m7 0h1m6 0h1m-85 1h0m7 0h0m7 0h1m6 0h0m6 0h0m7 0h2m5 0h0m7 0h2m12 0h2m6 0h1m5 0h0m7 0h2m-85 1h1m5 0h1m7 0h0m8 0h0m6 0h0m6 0h0m2 0h0m6 0h0m7 0h0m14 0h1m12 0h0m8 0h1m-78 1h0m7 0h1m13 0h0m7 0h0m7 0h1m6 0h0m6 0h0m2 0h0m5 0h1m6 0h1m6 0h1m7 0h1m-86 1h1m7 0h1m20 0h1m8 0h0m5 0h1m5 0h1m7 0h0m14 0h0m6 0h2m5 0h1m-84 1h0m7 0h0m7 0h0m6 0h1m7 0h1m7 0h0m5 0h2m6 0h1m6 0h0m6 0h1m5 0h0m2 0h0m13 0h1m-83 1h0m6 0h0m8 0h0m13 0h1m6 0h0m15 0h0m6 0h0m6 0h0m8 0h0m5 0h0m8 0h0m-83 1h0m8 0h0m13 0h1m19 0h0m15 0h0m14 0h0m13 0h0m-83 1h0m8 0h0m6 0h0m8 0h0m6 0h1m21 0h0m20 0h1m7 0h0m-70 1h0m5 0h0m22 0h0m22 0h0m12 0h0m2 0h0m7 0h0m-77 1h0m14 0h0m13 0h0m7 0h0m13 0h1m6 0h0m2 0h0m6 0h0m7 0h1m13 0h0m-84 1h1m13 0h0m6 0h1m14 0h0m7 0h1m7 0h0m6 0h0m14 0h0m15 0h0m-85 1h0m15 0h0m7 0h0m6 0h0m14 0h1m6 0h0m14 0h0m2 0h0m12 0h0m6 0h1m-63 1h1m35 0h0m6 0h1m13 0h0"/></g><g transform="translate(0.75 0.75) scale(1.5)" fill="none" stroke-width="1.6" stroke-linecap="round"><path stroke="#00ee00" d="M854 842h0m-14 1h0m29 2h1m-21 1h1m2 0h0m3 0h1m25 0h0m-49 1h0m15 0h0m13 0h1m19 0h0m-48 1h0m14 0h0m2 0h0m23 0h0m-24 1h0m13 0h0m-20 1h1m14 0h0m-46 1h0m16 0h0m30 0h0m22 0h0m2 0h0m-73 1h1m8 0h0m47 0h0m-56 1h0m2 0h8m3 0h1m4 0h1m2 0h1m7 0h0m25 0h0m-53 1h3m3 0h4m2 0h2m2 0h2m2 0h1m2 0h0m8 0h0m-32 1h1m3 0h0m2 0h1m3 0h6m2 0h4m2 0h0m3 0h2m2 0h0m2 0h0m2 0h0m7 0h0m-42 1h1m2 0h1m2 0h6m2 0h0m2 0h3m2 0h3m2 0h1m2 0h0m2 0h0m2 0h7m9 0h0m-48 1h0m3 0h0m2 0h0m4 0h4m3 0h1m2 0h3m3 0h7m2 0h1m2 0h5m3 0h6m3 0h1m3 0h1m5 0h0m-59 1h0m3 0h2m3 0h1m3 0h1m3 0h2m3 0h1m3 0h1m2 0h1m2 0h0m3 0h0m2 0h4m2 0h1m3 0h2m2 0h0m4 0h0m12 0h0m-71 1h0m3 0h0m7 0h0m5 0h1m3 0h0m4 0h1m2 0h3m3 0h0m4 0h1m2 0h1m2 0h7m2 0h4m2 0h1m2 0h1m2 0h0m2 0h8m2 0h0m3 0h1m2 0h0m3 0h1m11 0h0m2 0h0m3 0h0m-95 1h0m13 0h0m6 0h0m2 0h1m3 0h0m4 0h0m3 0h0m2 0h0m2 0h0m3 0h2m3 0h7m2 0h7m3 0h1m4 0h0m2 0h1m2 0h4m7 0h0m5 0h0m3 0h1m-96 1h0m7 0h0m13 0h0m6 0h0m3 0h0m4 0h0m6 0h0m3 0h0m2 0h2m2 0h1m2 0h1m3 0h1m2 0h5m3 0h0m2 0h2m3 0h5m2 0h3m3 0h0m2 0h1m4 0h4m-69 1h1m3 0h3m2 0h4m2 0h0m2 0h2m2 0h5m2 0h0m2 0h0m2 0h6m2 0h6m2 0h0m4 0h1m3 0h1m3 0h4m2 0h3m-81 1h0m12 0h0m2 0h0m3 0h2m2 0h3m2 0h8m3 0h4m2 0h3m3 0h3m2 0h3m2 0h2m2 0h1m2 0h0m2 0h1m2 0h2m3 0h2m3 0h2m-76 1h1m11 0h7m2 0h0m2 0h1m2 0h0m2 0h1m2 0h0m2 0h2m2 0h0m2 0h0m3 0h1m3 0h0m4 0h3m3 0h2m3 0h2m2 0h7m2 0h0m-72 1h0m8 0h0m4 0h4m2 0h5m2 0h0m2 0h3m4 0h4m3 0h0m3 0h0m6 0h0m5 0h1m2 0h0m2 0h0m4 0h9m-66 1h5m2 0h0m2 0h0m2 0h4m4 0h4m2 0h0m2 0h4m13 0h0m2 0h0m7 0h0m2 0h0m8 0h1m2 0h0m-60 1h0m4 0h0m2 0h6m2 0h0m2 0h2m4 0h0m3 0h1m16 0h0m3 0h0m4 0h0m4 0h0m2 0h1m3 0h1m-71 1h0m5 0h0m2 0h0m3 0h0m2 0h3m2 0h5m4 0h2m10 0h0m24 0h1m5 0h0m4 0h0m-66 1h0m3 0h0m2 0h0m4 0h2m3 0h0m9 0h0m10 0h0m-27 1h0m9 0h0m2 0h0m13 0h0m-32 1h0m10 0h0m5 0h0m4 0h0m-14 1h0m2 0h0m16 0h0m-26 1h0m17 0h0m-281 1h0m277 0h0m11 0h0m-285 1h1m-2 1h0m3 0h0m2 0h0m3 0h0m9 0h0m-18 1h1m2 0h1m2 0h1m2 0h0m2 0h0m2 0h0m11 0h0m2 0h0m6 0h0m-30 1h0m2 0h0m2 0h0m5 0h2m2 0h6m2 0h0m4 0h0m2 0h1m6 0h0m-25 1h0m3 0h0m3 0h3m4 0h2m3 0h1m2 0h2m4 0h1m2 0h1m18 0h0m-36 1h0m4 0h0m3 0h0m6 0h2m2 0h1m3 0h0m2 0h5m5 0h0m10 0h1m2 0h0m-49 1h2m2 0h0m3 0h2m2 0h0m3 0h14m3 0h0m2 0h4m2 0h0m2 0h0m2 0h0m25 0h0m-69 1h0m3 0h1m4 0h2m2 0h19m3 0h0m2 0h2m2 0h0m3 0h1m3 0h0m2 0h0m5 0h0m4 0h3m-52 1h0m3 0h0m2 0h1m2 0h0m3 0h2m2 0h0m4 0h0m2 0h0m11 0h0m4 0h0m3 0h1m2 0h0m2 0h1m2 0h3m2 0h1m2 0h0m4 0h0m-59 1h0m5 0h0m6 0h0m2 0h0m6 0h0m14 0h0m11 0h0m6 0h0m8 0h2m-55 1h0m47 0h0m-317 10h8m-8 1h3m2 0h12m3 0h1m-9 1h0m2 0h13m2 0h1m2 0h0m3 0h0m3 0h0m-14 1h0m4 0h0m2 0h0m2 0h7m3 0h1m2 0h0m3 0h0m-20 1h0m2 0h0m8 0h0m2 0h0m2 0h8m3 0h2m3 0h1m2 0h0m-18 1h0m2 0h0m6 0h0m3 0h2m2 0h1m2 0h7m2 0h1m-8 1h1m3 0h11m2 0h3m-9 1h0m2 0h3m3 0h3"/><path stroke="#000" d="M815 843h0m3 0h0m-4 1h1m4 0h0m5 0h0m2 0h0m-13 1h10m2 0h4m4 0h1m2 0h0m4 0h0m-27 1h24m3 0h0m2 0h2m3 0h0m-34 1h18m2 0h13m3 0h0m4 0h0m-39 1h0m4 0h0m4 0h1m2 0h6m2 0h12m2 0h0m2 0h8m2 0h1m2 0h0m8 0h0m2 0h0m-52 1h1m4 0h1m3 0h1m2 0h0m2 0h1m2 0h9m2 0h11m2 0h6m2 0h2m3 0h3m4 0h2m-41 1h0m4 0h8m2 0h3m2 0h8m2 0h9m2 0h0m3 0h2m5 0h1m-52 1h1m5 0h1m6 0h0m3 0h5m3 0h11m2 0h0m2 0h15m2 0h0m2 0h1m-50 1h0m7 0h0m4 0h0m2 0h0m3 0h3m2 0h27m2 0h0m-34 1h0m2 0h0m3 0h0m5 0h5m2 0h17m-24 1h0m6 0h0m4 0h1m3 0h1m2 0h7m-15 1h0m8 0h3m3 1h0m-322 12h0m1 1h0m2 0h0m-3 1h6m2 0h2m3 0h0m6 0h1m-19 1h5m2 0h6m3 0h0m5 0h2m2 0h0m8 0h0m-34 1h2m2 0h7m3 0h14m7 0h1m9 0h0m-43 1h2m2 0h0m4 0h32m8 0h0m-34 1h2m3 0h0m2 0h0m3 0h0m2 0h24m2 0h3m-39 1h0m10 0h3m2 0h33m2 0h3m3 0h0m-32 1h1m3 0h0m2 0h0m2 0h24m2 0h1m-30 1h0m6 0h0m3 0h29m-23 1h0m2 0h1m2 0h0m2 0h1m2 0h13m-20 1h0m6 0h0m4 0h0m3 0h1m2 0h0m3 0h1m-315 14h0m2 0h0m-8 1h0m19 0h1m-10 1h0m15 0h0m2 0h0m3 0h1m-15 1h0m4 0h1m2 0h0m6 1h0m5 0h1m21 0h0m3 0h0m-20 1h0m3 0h0m2 0h0m3 0h0m4 0h0m2 0h0m7 0h0m7 0h0m-12 1h0m6 0h0m2 0h0m2 0h1m1 1h0m3 0h1m5 0h2m2 0h0m2 0h0m0 1h0"/><path stroke="#ff0000" d="M810 845h0m1 1h0m0 1h0m-1 1h3m2 0h0m2 0h0m2 0h2m3 0h0m-14 1h9m3 0h2m3 0h1m3 0h0m5 0h0m-26 1h22m2 0h5m-29 1h14m2 0h14m3 0h3m3 0h0m3 0h1m3 0h0m8 0h0m-54 1h4m2 0h9m2 0h1m2 0h19m2 0h5m2 0h2m5 0h0m-48 1h0m4 0h2m6 0h4m3 0h1m2 0h20m2 0h3m3 0h0m2 0h1m5 0h0m7 0h0m-60 1h0m4 0h0m3 0h0m2 0h0m2 0h1m2 0h1m2 0h36m2 0h4m2 0h0m2 0h0m16 0h0m-70 1h1m6 0h0m2 0h0m2 0h5m2 0h2m2 0h3m2 0h26m2 0h1m2 0h3m6 0h2m-62 1h0m9 0h0m3 0h4m2 0h4m3 0h0m2 0h0m2 0h31m2 0h2m-43 1h1m3 0h1m3 0h3m2 0h5m2 0h23m-35 1h1m2 0h1m2 0h4m2 0h1m2 0h20m-21 1h0m2 0h1m3 0h0m6 0h8m-22 1h0m6 0h0m8 0h0m2 0h1m2 0h2m-6 1h0m3 0h0m4 0h0m-321 11h0m-5 1h1m2 0h0m6 0h0m2 0h0m-10 1h3m2 0h7m2 0h2m4 0h0m3 0h0m-17 1h0m2 0h3m3 0h1m2 0h1m2 0h8m-12 1h0m5 0h0m2 0h4m2 0h12m-11 1h0m3 0h0m2 0h0m3 0h0m3 0h6m2 0h4m2 0h1m-13 1h2m2 0h4m2 0h6m2 0h1m2 0h0m3 0h0m-11 1h0m6 0h1m2 0h0m2 0h3m3 0h2m2 0h1m-10 1h0m3 0h0m2 0h14m-11 1h0m5 0h2m2 0h1m-322 11h0m-1 1h7m2 0h0m2 0h0m2 0h0m6 0h0m-19 1h1m2 0h14m8 0h1m7 0h0m-24 1h2m2 0h13m2 0h0m2 0h0m4 0h0m3 0h0m-18 1h0m5 0h0m2 0h19m3 0h0m2 0h1m3 0h1m6 0h0m-33 1h0m5 0h1m5 0h18m2 0h1m3 0h0m6 0h0m-22 1h0m3 0h2m2 0h0m2 0h5m2 0h5m2 0h4m4 0h1m-23 1h0m4 0h0m2 0h0m2 0h0m2 0h0m3 0h14m2 0h0m-11 1h3m4 0h0m2 0h0m2 0h0m-6 1h0"/><path stroke="#0000ff" d="M821 856h0m6 3h0m36 0h0m-46 1h0m6 0h0m52 0h0m14 1h0m-22 1h0m2 0h0m23 0h0m-73 1h0m-244 11h0m0 1h1m3 0h1m3 0h0m5 0h0m4 0h0m-17 1h0m2 0h1m2 0h0m2 0h1m2 0h6m4 0h1m2 0h0m6 0h0m-21 1h0m2 0h0m2 0h0m2 0h9m2 0h0m2 0h3m3 0h0m2 0h0m2 0h1m2 0h0m-18 1h0m2 0h2m2 0h0m3 0h4m2 0h6m4 0h0m6 0h0m-18 1h0m2 0h0m3 0h0m3 0h13m2 0h1m2 0h1m-18 1h0m9 0h3m2 0h1m2 0h5m5 0h0m2 0h0m-20 1h0m6 0h0m2 0h0m2 0h0m2 0h11m2 0h3m4 0h0m3 0h0m-23 1h0m3 0h0m2 0h3m2 0h0m2 0h0m5 0h7m-4 1h2m2 0h0m-323 2h0m-1 1h0m2 0h1m2 0h0m11 0h0m-16 1h0m5 0h3m3 0h0m2 0h0m5 0h0m7 0h0m-25 1h9m2 0h4m2 0h2m4 0h0m3 0h0m2 0h0m3 0h0m2 0h0m7 0h0m-41 1h6m2 0h14m2 0h1m2 0h3m2 0h0m2 0h4m2 0h1m3 0h0m-42 1h6m2 0h19m2 0h1m2 0h5m2 0h0m2 0h6m7 0h0m3 0h0m-53 1h1m2 0h1m2 0h0m2 0h2m2 0h2m2 0h28m3 0h1m2 0h3m2 0h1m6 0h2m3 0h0m-69 1h0m10 0h0m2 0h0m3 0h0m2 0h5m2 0h4m2 0h13m2 0h12m3 0h11m2 0h0m2 0h0m2 0h0m4 0h0m-63 1h0m5 0h0m8 0h1m4 0h1m2 0h0m3 0h4m2 0h15m2 0h9m4 0h3m-50 1h1m7 0h0m2 0h0m2 0h2m2 0h1m2 0h2m2 0h28m-45 1h0m11 0h0m4 0h0m5 0h0m2 0h0m4 0h0m2 0h4m2 0h9m-28 1h0m10 0h0m2 0h0m6 0h0m2 0h0m3 0h2m2 0h2m-10 1h0m5 0h0m5 0h1"/></g><path d="M232 926.9L1318.3 919.2M1318.3 919.2L1655 946M1655 946L1655 1384.3M1318.3 1357.5L1318.3 919.2M232 1365.2L1318.3 1357.5M1318.3 1357.5L1655 1384.3" stroke="#111" stroke-width="1.9" fill="none" stroke-linecap="square"/><path d="M232 1365.2L232 926.9M232 1365.2L569 1393M569 1393L1655 1384.3" stroke="#111" stroke-width="2.3" fill="none" stroke-linecap="square"/><path d="M232 1365.2l-28.5 -2.3M232 1302.6l-28.5 -2.3M232 1240l-28.5 -2.3M232 1177.4l-28.5 -2.3M232 1114.7l-28.5 -2.3M232 1052.1l-28.5 -2.3M232 989.5l-28.5 -2.3M232 926.9l-28.5 -2.3M569 1393v27M463.7 1384.3v27M358.4 1375.6v27M253.1 1366.9v27M738.7 1391.6v27M908.4 1390.3v27M1078.1 1388.9v27M1247.8 1387.6v27M1417.4 1386.2v27M1587.1 1384.8v27" stroke="#111" stroke-width="2.4" fill="none"/><text font-size="32.2" font-weight="bold" text-anchor="end" fill="#1c1c1c" transform="translate(193 1375.2) scale(1 1.05)">0</text><text font-size="32.2" font-weight="bold" text-anchor="end" fill="#1c1c1c" transform="translate(193 1312.6) scale(1 1.05)">200</text><text font-size="32.2" font-weight="bold" text-anchor="end" fill="#1c1c1c" transform="translate(193 1250) scale(1 1.05)">400</text><text font-size="32.2" font-weight="bold" text-anchor="end" fill="#1c1c1c" transform="translate(193 1187.4) scale(1 1.05)">600</text><text font-size="32.2" font-weight="bold" text-anchor="end" fill="#1c1c1c" transform="translate(193 1124.7) scale(1 1.05)">800</text><text font-size="32.2" font-weight="bold" text-anchor="end" fill="#1c1c1c" transform="translate(193 1062.1) scale(1 1.05)">1000</text><text font-size="32.2" font-weight="bold" text-anchor="end" fill="#1c1c1c" transform="translate(193 999.5) scale(1 1.05)">1200</text><text font-size="32.2" font-weight="bold" text-anchor="end" fill="#1c1c1c" transform="translate(193 936.9) scale(1 1.05)">1400</text><text font-size="32.2" font-weight="bold" text-anchor="end" fill="#1c1c1c" transform="translate(251.6 1434.5) scale(1 1.05)">3000</text><text font-size="32.2" font-weight="bold" text-anchor="end" fill="#1c1c1c" transform="translate(356.9 1442.5) scale(1 1.05)">2000</text><text font-size="32.2" font-weight="bold" text-anchor="end" fill="#1c1c1c" transform="translate(462.2 1450.5) scale(1 1.05)">1000</text><text font-size="32.2" font-weight="bold" fill="#1c1c1c" transform="translate(569.5 1459.5) scale(1 1.05)">0</text><text font-size="32.2" font-weight="bold" fill="#1c1c1c" transform="translate(738.2 1458.4) scale(1 1.05)">1000</text><text font-size="32.2" font-weight="bold" fill="#1c1c1c" transform="translate(907.9 1456.9) scale(1 1.05)">2000</text><text font-size="32.2" font-weight="bold" fill="#1c1c1c" transform="translate(1077.6 1455) scale(1 1.05)">3000</text><text font-size="32.2" font-weight="bold" fill="#1c1c1c" transform="translate(1247.2 1453.4) scale(1 1.05)">4000</text><text font-size="32.2" font-weight="bold" fill="#1c1c1c" transform="translate(1416.9 1452) scale(1 1.05)">5000</text><text font-size="32.2" font-weight="bold" fill="#1c1c1c" transform="translate(1586.6 1451) scale(1 1.05)">6000</text><text font-size="36.4" font-weight="bold" fill="#1c1c1c" transform="translate(230 1485.5) scale(1 1.05)">Y (nm)</text><text font-size="36.4" font-weight="bold" fill="#1c1c1c" transform="translate(979.5 1491) scale(1 1.05)">X (nm)</text><text font-size="36.3" font-weight="bold" text-anchor="middle" fill="#1c1c1c" transform="translate(109.5 1145) rotate(-90)">Estimated emitter size (nm)</text><text font-size="39" font-weight="bold" transform="translate(36.5 955.5) scale(1 1.05)">d</text><path d="M263 971.4H314" stroke="#ff00ff" stroke-width="3.2"/><text font-size="26.8" font-weight="bold" transform="translate(326.5 981.5) scale(1 1.08)">RAW</text><path d="M263 1008.4H314" stroke="#000" stroke-width="3.2"/><text font-size="26.8" font-weight="bold" transform="translate(326.5 1020.5) scale(1 1.08)">TRUE</text><path d="M263 1049.9H314" stroke="#ff0000" stroke-width="3.2"/><text font-size="26.8" font-weight="bold" transform="translate(326.5 1061) scale(1 1.08)">EVER</text><path d="M263 1093.7H314" stroke="#00ee00" stroke-width="3.2"/><text font-size="26.8" font-weight="bold" transform="translate(326.5 1103.5) scale(1 1.08)">MED</text><path d="M263 1136.4H314" stroke="#0000ff" stroke-width="3.2"/><text font-size="26.8" font-weight="bold" transform="translate(326.5 1145.5) scale(1 1.08)">RB</text><path d="M355 1543.5L611.7 1365.3" stroke="#000" stroke-width="3" stroke-dasharray="3 3.6" fill="none"/><path d="M601 1364.2L615 1363L609 1375.7" stroke="#000" stroke-width="2.6" fill="none" stroke-linejoin="miter"/><path d="M855.2 1518L996.3 1328.8" stroke="#000" stroke-width="3" stroke-dasharray="3 3.6" fill="none"/><path d="M985.8 1331.1L998.7 1325.6L997.1 1339.5" stroke="#000" stroke-width="2.6" fill="none" stroke-linejoin="miter"/><path d="M1370 1528L1362.2 1320.5" stroke="#000" stroke-width="3" stroke-dasharray="3 3.6" fill="none"/><path d="M1355.5 1328.9L1362 1316.5L1369.5 1328.4" stroke="#000" stroke-width="2.6" fill="none" stroke-linejoin="miter"/></g>
<g id="panel-e"><rect x="142.4" y="1543.4" width="270.8" height="150.8" fill="#fff"/><path d="M187.3 1543.4V1694.2M233 1543.4V1694.2M278.6 1543.4V1694.2M324.3 1543.4V1694.2M370 1543.4V1694.2M142.4 1654.6H413.2M142.4 1615H413.2M142.4 1575.5H413.2" stroke="#cdcdcd" stroke-width="1.4" fill="none"/><rect x="141.7" y="1706" width="273.9" height="273.6" fill="#fff"/><path d="M187.3 1706V1979.6M233 1706V1979.6M278.6 1706V1979.6M324.3 1706V1979.6M370 1706V1979.6M141.7 1934H415.6M141.7 1888.4H415.6M141.7 1842.8H415.6M141.7 1797.2H415.6M141.7 1751.6H415.6" stroke="#cdcdcd" stroke-width="1.4" fill="none"/><rect x="426.8" y="1710" width="155.6" height="276.6" fill="#fff"/><path d="M470.9 1710V1986.6M515 1710V1986.6M559 1710V1986.6M426.8 1940.5H582.4M426.8 1894.4H582.4M426.8 1848.3H582.4M426.8 1802.2H582.4M426.8 1756.1H582.4" stroke="#cdcdcd" stroke-width="1.4" fill="none"/><clipPath id="ec1a"><rect x="142.4" y="1543.4" width="270.8" height="152.3"/></clipPath><clipPath id="ec1b"><rect x="141.7" y="1706" width="273.9" height="273.6"/></clipPath><clipPath id="ec1c"><rect x="425.3" y="1710" width="157.1" height="276.6"/></clipPath><g clip-path="url(#ec1b)"><g transform="translate(0.62 0.62) scale(1.25)" fill="none" stroke-width="1.52" stroke-linecap="round"><path stroke="#000" d="M221 1439h0m13 8h0m-8 1h0m13 0h0m-32 1h0m-1 1h0m5 0h0m18 0h0m-18 1h0m16 0h0m-17 1h0m3 0h0m26 0h0m6 0h0m-28 1h1m6 0h0m-16 1h0m10 0h0m5 0h0m14 0h0m6 0h0m-39 1h0m9 0h0m2 0h1m5 0h0m9 0h1m3 0h0m-23 1h0m2 0h0m4 0h0m5 0h0m3 0h0m2 0h0m-16 1h1m2 0h0m8 0h0m7 0h0m10 0h0m-43 1h0m12 0h0m3 0h0m3 0h0m3 0h0m6 0h0m6 0h0m6 0h1m2 0h0m7 0h0m-29 1h0m4 0h2m3 0h1m2 0h0m7 0h0m7 0h0m-33 1h0m7 0h1m13 0h1m-40 1h0m7 0h0m6 0h0m9 0h1m3 0h1m4 0h0m2 0h0m6 0h0m12 0h0m-38 1h0m2 0h1m17 0h0m9 0h0m6 0h0m2 0h0m-43 1h0m5 0h1m5 0h0m16 0h1m3 0h1m4 0h0m2 0h0m2 0h0m-36 1h0m9 0h0m15 0h0m4 0h0m7 0h0m3 0h0m9 0h0m-47 1h0m7 0h0m5 0h0m5 0h1m10 0h1m10 0h1m4 0h1m-47 1h0m4 0h1m3 0h1m4 0h0m5 0h0m2 0h0m8 0h1m3 0h0m7 0h0m9 0h0m-36 1h0m3 0h0m7 0h1m2 0h0m9 0h0m7 0h0m9 0h0m-45 1h1m3 0h0m2 0h0m6 0h0m9 0h0m2 0h0m5 0h0m2 0h2m2 0h0m21 0h0m-57 1h0m2 0h0m2 0h2m2 0h0m2 0h0m7 0h1m8 0h0m11 0h0m2 0h1m-31 1h0m3 0h1m6 0h0m3 0h0m4 0h0m4 0h0m10 0h0m3 0h0m-47 1h0m2 0h0m7 0h1m5 0h1m2 0h0m2 0h0m4 0h0m5 0h0m2 0h0m3 0h0m6 0h0m3 0h0m-52 1h0m3 0h0m3 0h0m4 0h0m2 0h0m9 0h0m3 0h0m2 0h0m2 0h0m7 0h1m2 0h0m8 0h0m6 0h0m-47 1h0m10 0h0m3 0h2m14 0h0m9 0h0m5 0h0m-46 1h0m9 0h0m6 0h0m12 0h0m28 0h0m-43 1h0m3 0h0m3 0h0m3 0h0m2 0h0m19 0h0m4 0h0m3 0h0m-5 1h0m7 0h0m-45 1h0m4 0h0m7 0h0m16 0h0m7 0h0m2 0h0m28 0h0m-68 1h0m8 0h0m16 0h0m17 0h0m-30 1h0m10 0h0m11 0h1m-29 1h0m3 0h0m19 0h0m17 0h0m-38 1h1m5 0h0m20 1h0m-24 1h0m-6 1h0m42 2h0m-29 1h0"/><path stroke="#ff0000" d="M228 1445h0m-5 3h0m-12 1h0m22 1h0m-15 1h0m6 0h0m4 1h0m-12 1h0m4 1h0m2 0h0m5 0h0m-24 1h0m8 0h0m12 0h0m4 0h0m16 0h0m-23 1h0m3 0h0m3 0h0m5 0h0m3 0h1m-33 1h0m3 0h0m11 0h1m4 0h0m6 0h0m16 0h0m-31 1h0m3 0h1m4 0h0m2 0h0m4 0h0m7 0h0m19 0h0m-49 1h0m7 0h0m3 0h1m3 0h0m7 0h0m3 0h0m2 0h0m2 0h0m-27 1h0m2 0h1m3 0h0m5 0h0m3 0h0m2 0h0m2 0h0m2 0h5m16 0h0m8 0h0m-48 1h0m2 0h1m7 0h1m5 0h0m4 0h2m2 0h0m2 0h0m8 0h0m12 0h0m3 0h0m-45 1h2m2 0h1m2 0h4m2 0h1m2 0h0m2 0h1m2 0h2m2 0h0m3 0h0m-36 1h1m3 0h0m5 0h0m2 0h1m2 0h8m5 0h0m3 0h2m2 0h0m11 0h0m-48 1h1m5 0h0m2 0h3m5 0h2m2 0h7m2 0h2m2 0h4m8 0h0m5 0h0m-45 1h0m5 0h0m2 0h3m2 0h2m4 0h4m2 0h0m2 0h0m4 0h2m2 0h0m7 0h0m-42 1h0m4 0h1m3 0h2m3 0h2m2 0h0m2 0h6m3 0h1m2 0h3m2 0h0m4 0h0m3 0h0m-45 1h0m2 0h1m2 0h6m3 0h0m2 0h5m6 0h6m2 0h0m2 0h0m2 0h1m2 0h0m-44 1h0m6 0h0m3 0h1m2 0h0m2 0h1m2 0h1m2 0h3m2 0h2m2 0h0m3 0h2m6 0h0m2 0h0m2 0h0m4 0h0m-48 1h1m5 0h0m2 0h0m4 0h0m2 0h0m2 0h5m3 0h3m2 0h1m2 0h2m4 0h0m2 0h0m7 0h0m12 0h0m-58 1h0m2 0h1m2 0h1m2 0h0m3 0h1m2 0h1m3 0h0m2 0h2m2 0h0m4 0h1m2 0h1m3 0h7m7 0h0m5 0h0m-55 1h0m5 0h0m7 0h0m2 0h1m5 0h0m2 0h2m2 0h3m4 0h1m3 0h0m6 0h0m-54 1h0m18 0h5m2 0h1m2 0h0m2 0h0m2 0h1m2 0h0m2 0h0m3 0h0m3 0h0m2 0h0m2 0h0m5 0h0m-32 1h0m4 0h5m2 0h0m2 0h3m2 0h2m2 0h0m2 0h1m3 0h1m3 0h0m4 0h0m-45 1h0m5 0h0m6 0h1m2 0h3m2 0h1m3 0h0m2 0h2m2 0h4m3 0h5m2 0h0m3 0h1m-51 1h0m6 0h0m3 0h0m8 0h0m7 0h0m4 0h2m4 0h0m2 0h0m15 0h1m8 0h0m-55 1h0m4 0h1m8 0h0m6 0h0m5 0h0m2 0h0m3 0h1m2 0h0m2 0h0m5 0h1m-36 1h0m2 0h0m2 0h0m3 0h0m2 0h0m3 0h1m11 0h1m16 0h0m7 0h0m-51 1h1m2 0h1m4 0h0m3 0h0m2 0h0m7 0h0m3 0h0m3 0h0m3 0h0m11 0h0m2 0h0m3 0h0m-41 1h0m2 0h0m2 0h0m11 0h0m13 0h0m3 0h0m2 0h1m7 0h0m2 0h0m-37 1h0m26 0h0m8 0h0m-50 1h0m12 0h0m2 0h0m5 0h1m4 0h0m4 0h0m11 0h0m-46 1h0m25 0h0m28 0h0m-23 1h0m19 0h2m-38 1h1m36 0h0m-33 1h0m31 1h0m7 0h0m-30 1h0"/><path stroke="#00ee00" d="M232 1459h0m-19 8h0m38 0h0m-48 1h0m11 0h0m8 0h0m12 0h0m-8 1h0m9 0h0m2 0h0m-5 1h0m-21 1h0m18 0h0m8 0h0m-16 1h0m8 0h0m2 0h0m2 0h0m2 0h0m-18 1h0m2 0h0m9 0h0m6 0h0m-26 1h0m3 0h0m5 0h0m4 0h0m2 0h0m10 0h1m10 0h0m-37 1h0m3 0h0m3 0h0m4 0h1m2 0h0m2 0h0m4 0h2m2 0h0m3 0h1m6 0h0m-33 1h2m2 0h1m2 0h4m2 0h0m2 0h1m2 0h0m2 0h1m3 0h0m4 0h0m3 0h0m3 0h0m2 0h0m-36 1h0m7 0h1m3 0h7m2 0h0m3 0h2m2 0h0m3 0h1m3 0h0m2 0h0m4 0h0m-47 1h0m8 0h0m2 0h1m2 0h0m2 0h3m2 0h0m2 0h1m2 0h1m3 0h0m2 0h4m2 0h1m2 0h0m2 0h0m-44 1h0m10 0h0m3 0h2m4 0h2m2 0h1m2 0h2m3 0h3m5 0h0m6 0h1m-36 1h1m3 0h2m2 0h1m2 0h1m2 0h2m2 0h7m2 0h0m6 0h1m2 0h0m7 0h0m-52 1h0m12 0h2m4 0h1m2 0h0m2 0h0m2 0h9m2 0h0m2 0h0m2 0h0m2 0h0m5 0h0m7 0h0m-57 1h0m4 0h4m4 0h0m3 0h1m2 0h1m2 0h4m2 0h2m2 0h4m2 0h1m2 0h2m2 0h0m9 0h0m2 0h0m-54 1h0m7 0h0m7 0h2m3 0h1m2 0h7m2 0h2m2 0h0m2 0h0m2 0h0m9 0h1m-53 1h1m16 0h0m2 0h1m2 0h12m3 0h0m2 0h0m3 0h0m4 0h1m4 0h0m5 0h0m3 0h0m-52 1h0m6 0h0m4 0h16m2 0h3m2 0h3m3 0h0m3 0h0m-42 1h0m4 0h0m2 0h1m2 0h1m2 0h2m2 0h0m2 0h1m2 0h6m2 0h3m2 0h0m3 0h0m2 0h0m9 0h0m-43 1h0m2 0h1m3 0h0m3 0h1m2 0h13m2 0h1m2 0h2m2 0h0m3 0h1m-43 1h0m4 0h0m6 0h0m2 0h0m2 0h7m3 0h3m3 0h1m2 0h0m2 0h1m3 0h1m4 0h0m-55 1h0m7 0h0m9 0h0m4 0h1m2 0h1m3 0h2m2 0h4m2 0h3m2 0h3m6 0h0m2 0h0m-42 1h0m2 0h0m8 0h4m2 0h1m2 0h2m2 0h3m2 0h2m2 0h1m2 0h0m3 0h1m3 0h0m4 0h1m-49 1h0m4 0h0m3 0h0m3 0h0m2 0h1m2 0h0m2 0h6m4 0h0m3 0h3m3 0h0m2 0h0m2 0h1m4 0h1m2 0h0m2 0h0m-48 1h0m5 0h0m3 0h0m2 0h2m2 0h0m2 0h0m4 0h3m2 0h8m2 0h0m4 0h0m3 0h0m-39 1h1m8 0h1m3 0h1m2 0h1m2 0h1m6 0h0m2 0h0m2 0h0m2 0h0m2 0h0m7 0h0m-51 1h0m14 0h0m5 0h0m2 0h2m2 0h1m3 0h5m3 0h1m3 0h1m-31 1h2m4 0h0m3 0h3m3 0h1m2 0h0m2 0h0m2 0h4m2 0h0m4 0h0m4 0h0m4 0h0m-38 1h0m10 0h0m4 0h1m3 0h1m12 0h1m3 0h0m-33 1h1m4 0h0m5 0h0m3 0h1m7 0h1m16 0h0m-48 1h0m11 0h0m4 0h0m8 0h0m4 0h0m4 0h0m6 0h0m-21 1h0m12 0h1m-34 1h0m13 0h0m2 0h0m4 0h0m3 0h0m9 0h0m9 0h0m-23 1h0m2 0h0m5 0h1m2 0h0m4 0h0m-22 1h0m22 0h0m14 0h0m13 0h0m-41 1h0m10 1h0m5 0h0m-8 1h0m10 1h0m2 0h0m6 0h0"/><path stroke="#0000ff" d="M254 1355h0m-13 1h0m-14 3h0m5 0h0m18 0h0m3 0h0m7 1h0m-21 1h0m3 0h0m2 2h0m-17 1h0m6 0h0m19 0h0m-8 1h0m3 0h0m5 0h0m8 0h0m3 0h0m-10 1h0m2 0h0m3 0h0m-7 1h0m2 0h0m4 0h0m2 0h0m-19 1h0m3 0h0m6 0h0m7 0h0m-21 1h1m5 0h0m7 0h0m6 0h0m-21 1h0m7 0h0m3 0h0m9 0h1m2 0h0m19 0h0m-33 1h0m3 0h0m9 0h0m3 0h0m15 0h0m-43 1h1m17 0h1m7 0h0m17 0h0m-30 1h1m2 0h0m2 0h0m2 0h1m2 0h0m6 0h0m7 0h0m3 0h0m3 0h0m-35 1h1m5 0h0m2 0h0m2 0h0m4 0h1m3 0h0m13 0h0m-37 1h0m6 0h0m2 0h1m8 0h1m5 0h0m3 0h0m-36 1h0m12 0h0m4 0h0m2 0h1m3 0h1m3 0h5m11 0h0m8 0h0m-32 1h0m4 0h0m3 0h0m4 0h0m2 0h2m2 0h1m3 0h0m3 0h0m9 0h0m-39 1h0m3 0h0m3 0h0m4 0h2m4 0h1m5 0h0m3 0h2m2 0h0m6 0h0m8 0h0m-42 1h0m7 0h2m2 0h3m3 0h1m4 0h2m4 0h0m7 0h0m2 0h0m-37 1h0m3 0h0m2 0h2m6 0h0m3 0h1m2 0h0m4 0h1m3 0h0m-24 1h0m3 0h4m2 0h0m2 0h0m4 0h0m2 0h0m2 0h1m5 0h0m2 0h0m-31 1h0m2 0h0m2 0h3m4 0h1m2 0h0m3 0h9m2 0h2m4 0h0m2 0h0m-40 1h0m3 0h0m5 0h0m3 0h1m4 0h0m2 0h0m2 0h0m2 0h7m2 0h1m3 0h0m7 0h0m7 0h0m-47 1h0m2 0h0m7 0h3m3 0h0m2 0h0m3 0h1m2 0h1m2 0h0m2 0h0m2 0h2m3 0h1m-39 1h0m2 0h0m3 0h0m7 0h2m3 0h0m3 0h5m2 0h5m3 0h0m6 0h1m10 0h0m-63 1h0m16 0h0m4 0h0m3 0h0m2 0h6m2 0h6m2 0h0m2 0h0m3 0h1m3 0h2m-46 1h0m7 0h0m9 0h1m3 0h1m2 0h0m2 0h0m3 0h7m2 0h1m2 0h0m4 0h0m3 0h0m3 0h0m-48 1h0m7 0h0m2 0h0m6 0h1m2 0h3m3 0h4m2 0h0m2 0h2m3 0h3m3 0h0m2 0h1m-40 1h0m5 0h1m3 0h0m2 0h1m2 0h0m2 0h0m6 0h0m3 0h0m2 0h1m3 0h1m4 0h0m2 0h1m5 0h0m-52 1h0m12 0h0m2 0h1m2 0h4m3 0h2m2 0h0m3 0h0m2 0h1m5 0h1m2 0h2m-35 1h0m3 0h0m2 0h0m2 0h1m3 0h2m2 0h0m2 0h0m2 0h0m2 0h1m2 0h0m3 0h1m2 0h0m5 0h0m9 0h0m-40 1h1m3 0h1m3 0h1m5 0h3m2 0h1m2 0h0m2 0h2m4 0h0m-29 1h0m2 0h3m3 0h2m3 0h0m2 0h0m7 0h2m2 0h0m2 0h2m2 0h0m-38 1h1m2 0h0m2 0h0m4 0h1m2 0h1m2 0h1m2 0h0m2 0h0m4 0h0m3 0h2m4 0h1m3 0h0m5 0h1m-44 1h0m3 0h0m2 0h0m5 0h6m2 0h0m2 0h2m2 0h1m3 0h1m6 0h0m4 0h0m-42 1h1m2 0h0m5 0h0m2 0h0m2 0h6m4 0h2m2 0h0m3 0h1m3 0h1m2 0h0m2 0h1m14 0h0m-55 1h0m6 0h0m4 0h1m3 0h0m3 0h0m3 0h0m2 0h5m4 0h1m2 0h0m4 0h0m3 0h0m3 0h0m-31 1h2m6 0h0m6 0h2m5 0h0m2 0h0m4 0h0m10 0h0m-45 1h0m8 0h0m2 0h0m4 0h3m2 0h0m4 0h2m2 0h1m5 0h0m-28 1h0m8 0h1m2 0h0m2 0h0m2 0h1m2 0h0m2 0h5m16 0h0m-36 1h0m2 0h1m3 0h1m2 0h0m5 0h1m2 0h0m5 0h0m10 0h0m-30 1h6m2 0h0m2 0h1m3 0h2m3 0h1m2 0h0m-39 1h0m6 0h1m6 0h3m3 0h1m4 0h1m2 0h0m5 0h3m2 0h1m3 0h0m2 0h0m-36 1h0m4 0h0m3 0h0m3 0h1m2 0h0m2 0h1m5 0h0m2 0h1m4 0h0m5 0h0m3 0h0m-36 1h0m8 0h0m7 0h1m6 0h1m9 0h0m-36 1h0m8 0h1m4 0h0m3 0h0m3 0h1m3 0h0m4 0h0m8 0h1m-24 1h0m9 0h0m2 0h0m2 0h0m6 0h0m5 0h0m2 0h0m-36 1h0m5 0h0m3 0h0m6 0h0m4 0h0m7 0h1m7 0h0m-24 1h0m3 0h0m14 0h1m4 0h0m3 0h0m-24 1h0m6 0h0m5 0h0m7 0h0m4 0h0m-37 1h0m34 0h0m2 0h1m3 0h0m-31 1h0m6 0h0m4 0h0m7 0h0m4 0h0m5 0h1m6 0h0m-23 1h0m2 0h0m2 0h1m4 0h0m-15 1h0m12 0h0m3 0h0m-7 1h0m-2 1h0m7 0h0m10 0h0m-17 1h0m9 1h0m7 0h0m3 0h0m-11 1h0m1 4h0m6 2h0"/></g></g><path d="M187.3 1694.2v-3.6M187.3 1543.4v3.6M233 1694.2v-3.6M233 1543.4v3.6M278.6 1694.2v-3.6M278.6 1543.4v3.6M324.3 1694.2v-3.6M324.3 1543.4v3.6M370 1694.2v-3.6M370 1543.4v3.6M142.4 1654.6h3.6M413.2 1654.6h-3.6M142.4 1615h3.6M413.2 1615h-3.6M142.4 1575.5h3.6M413.2 1575.5h-3.6" stroke="#1a1a1a" stroke-width="1.6" fill="none"/><rect x="142.4" y="1543.4" width="270.8" height="150.8" fill="none" stroke="#1a1a1a" stroke-width="2.0"/><path d="M187.3 1979.6v-3.6M187.3 1706v3.6M233 1979.6v-3.6M233 1706v3.6M278.6 1979.6v-3.6M278.6 1706v3.6M324.3 1979.6v-3.6M324.3 1706v3.6M370 1979.6v-3.6M370 1706v3.6M141.7 1934h3.6M415.6 1934h-3.6M141.7 1888.4h3.6M415.6 1888.4h-3.6M141.7 1842.8h3.6M415.6 1842.8h-3.6M141.7 1797.2h3.6M415.6 1797.2h-3.6M141.7 1751.6h3.6M415.6 1751.6h-3.6" stroke="#1a1a1a" stroke-width="1.6" fill="none"/><rect x="141.7" y="1706" width="273.9" height="273.6" fill="none" stroke="#1a1a1a" stroke-width="2.0"/><path d="M470.9 1986.6v-3.6M470.9 1710v3.6M515 1986.6v-3.6M515 1710v3.6M559 1986.6v-3.6M559 1710v3.6M426.8 1940.5h3.6M582.4 1940.5h-3.6M426.8 1894.4h3.6M582.4 1894.4h-3.6M426.8 1848.3h3.6M582.4 1848.3h-3.6M426.8 1802.2h3.6M582.4 1802.2h-3.6M426.8 1756.1h3.6M582.4 1756.1h-3.6" stroke="#1a1a1a" stroke-width="1.6" fill="none"/><rect x="426.8" y="1710" width="155.6" height="276.6" fill="none" stroke="#1a1a1a" stroke-width="2.0"/><g clip-path="url(#ec1a)"><polyline points="137.1,1694.2 146.3,1694.2 155.4,1694.2 164.5,1694.2 173.7,1694.2 182.8,1694.2 191.9,1694.2 201,1694.2 210.2,1694.2 219.3,1694.2 228.4,1694 237.6,1692.3 246.7,1684.9 255.8,1664 265,1628.1 274.1,1600.3 283.2,1606.1 292.3,1639.1 301.5,1671.9 310.6,1688.1 319.7,1693.2 328.9,1694.1 338,1694.2 347.1,1694.2 356.3,1694.2 365.4,1694.2 374.5,1694.2 383.6,1694.2 392.8,1694.2 401.9,1694.2 411,1694.2 420.2,1694.2" fill="none" stroke="#000" stroke-width="1.9" stroke-linejoin="round"/><polyline points="137.1,1694.2 146.3,1694.2 155.4,1694.2 164.5,1694.2 173.7,1694.2 182.8,1694.2 191.9,1694.2 201,1694.2 210.2,1694.2 219.3,1694.2 228.4,1693.9 237.6,1692.4 246.7,1685.2 255.8,1664.8 265,1630.9 274.1,1602.7 283.2,1606.5 292.3,1638 301.5,1670.1 310.6,1687.2 319.7,1692.9 328.9,1694 338,1694.2 347.1,1694.2 356.3,1694.2 365.4,1694.2 374.5,1694.2 383.6,1694.2 392.8,1694.2 401.9,1694.2 411,1694.2 420.2,1694.2" fill="none" stroke="#ff0000" stroke-width="1.9" stroke-linejoin="round"/><polyline points="137.1,1694.2 146.3,1694.2 155.4,1694.2 164.5,1694.2 173.7,1694.2 182.8,1694.2 191.9,1694.2 201,1694.2 210.2,1694.2 219.3,1694.2 228.4,1693.9 237.6,1692.1 246.7,1683.8 255.8,1661.4 265,1626.4 274.1,1601.1 283.2,1609 292.3,1642 301.5,1672.7 310.6,1688.2 319.7,1693 328.9,1694.1 338,1694.2 347.1,1694.2 356.3,1694.2 365.4,1694.2 374.5,1694.2 383.6,1694.2 392.8,1694.2 401.9,1694.2 411,1694.2 420.2,1694.2" fill="none" stroke="#14b432" stroke-width="1.9" stroke-linejoin="round"/><polyline points="137.1,1694.2 146.3,1694.2 155.4,1694.2 164.5,1694.2 173.7,1694.2 182.8,1694.2 191.9,1694.2 201,1694.2 210.2,1694.2 219.3,1694.2 228.4,1694.2 237.6,1694.2 246.7,1694.2 255.8,1694 265,1692.7 274.1,1686.5 283.2,1666.4 292.3,1624.6 301.5,1572.6 310.6,1548.4 319.7,1573.2 328.9,1624.6 338,1666.2 347.1,1686.6 356.3,1692.7 365.4,1694 374.5,1694.2 383.6,1694.2 392.8,1694.2 401.9,1694.2 411,1694.2 420.2,1694.2" fill="none" stroke="#0a64f0" stroke-width="1.9" stroke-linejoin="round"/></g><g clip-path="url(#ec1c)"><polyline points="426.8,1990.7 426.8,1985 426.8,1979.2 426.8,1973.5 426.8,1967.7 426.8,1961.9 426.8,1956.2 426.8,1950.4 426.8,1944.6 426.8,1938.9 426.8,1933.1 426.8,1927.4 426.8,1921.6 426.8,1915.8 426.8,1910.1 426.8,1904.3 426.8,1898.5 427.1,1892.8 428.2,1887 433.1,1881.3 446.3,1875.5 472.9,1869.7 513,1864 553.8,1858.2 569.4,1852.4 551.4,1846.7 512.8,1840.9 472.3,1835.2 446.1,1829.4 432.7,1823.6 428.3,1817.9 427.1,1812.1 426.9,1806.3 426.8,1800.6 426.8,1794.8 426.8,1789.1 426.8,1783.3 426.8,1777.5 426.8,1771.8 426.8,1766 426.8,1760.2 426.8,1754.5 426.8,1748.7 426.8,1743 426.8,1737.2 426.8,1731.4 426.8,1725.7 426.8,1719.9 426.8,1714.1 426.8,1708.4" fill="none" stroke="#000" stroke-width="1.9" stroke-linejoin="round"/><polyline points="426.8,1990.7 426.8,1985 426.8,1979.2 426.8,1973.5 426.8,1967.7 426.8,1961.9 426.8,1956.2 426.8,1950.4 426.8,1944.6 426.8,1938.9 426.8,1933.1 426.8,1927.4 426.8,1921.6 426.8,1915.8 426.8,1910.1 426.8,1904.3 426.9,1898.5 427.3,1892.8 429,1887 433.5,1881.3 446.4,1875.5 471.1,1869.7 506.5,1864 540.8,1858.2 560.4,1852.4 551.6,1846.7 520.5,1840.9 482,1835.2 453.3,1829.4 436.7,1823.6 429.9,1817.9 427.7,1812.1 427,1806.3 426.8,1800.6 426.8,1794.8 426.8,1789.1 426.8,1783.3 426.8,1777.5 426.8,1771.8 426.8,1766 426.8,1760.2 426.8,1754.5 426.8,1748.7 426.8,1743 426.8,1737.2 426.8,1731.4 426.8,1725.7 426.8,1719.9 426.8,1714.1 426.8,1708.4" fill="none" stroke="#ff0000" stroke-width="1.9" stroke-linejoin="round"/><polyline points="426.8,1992.4 426.8,1986.6 426.8,1980.8 426.8,1975.1 426.8,1969.3 426.8,1963.5 426.8,1957.8 426.8,1952 426.8,1946.3 426.8,1940.5 426.8,1934.7 426.8,1929 426.8,1923.2 426.9,1917.4 427.3,1911.7 428.9,1905.9 434.9,1900.2 449.8,1894.4 477.3,1888.6 517.4,1882.9 555.5,1877.1 571.1,1871.3 553.3,1865.6 516.7,1859.8 478.2,1854.1 448.8,1848.3 434.7,1842.5 429,1836.8 427.3,1831 426.9,1825.2 426.8,1819.5 426.8,1813.7 426.8,1808 426.8,1802.2 426.8,1796.4 426.8,1790.7 426.8,1784.9 426.8,1779.2 426.8,1773.4 426.8,1767.6 426.8,1761.9 426.8,1756.1 426.8,1750.3 426.8,1744.6 426.8,1738.8 426.8,1733 426.8,1727.3 426.8,1721.5 426.8,1715.8 426.8,1710" fill="none" stroke="#14b432" stroke-width="1.9" stroke-linejoin="round"/><polyline points="426.8,1995.8 426.8,1984.8 426.8,1973.7 426.8,1962.6 426.8,1951.6 426.8,1940.5 426.8,1929.4 426.8,1918.4 426.8,1907.3 426.8,1896.2 426.8,1885.2 426.8,1874.1 426.8,1863.1 426.8,1852 426.8,1840.9 426.8,1829.9 426.8,1818.8 427,1807.7 428.3,1796.7 434.1,1785.6 453.2,1774.5 493.1,1763.5 540.5,1752.4 561.8,1741.3 539.7,1730.3 493.3,1719.2 453,1708.2" fill="none" stroke="#0a64f0" stroke-width="1.9" stroke-linejoin="round"/></g><text font-size="24" font-weight="bold" text-anchor="end" fill="#1c1c1c" transform="translate(135 1703.4) scale(1 1.05)">0</text><text font-size="24" font-weight="bold" text-anchor="end" fill="#1c1c1c" transform="translate(135 1663.8) scale(1 1.05)">100</text><text font-size="24" font-weight="bold" text-anchor="end" fill="#1c1c1c" transform="translate(135 1624.2) scale(1 1.05)">200</text><text font-size="24" font-weight="bold" text-anchor="end" fill="#1c1c1c" transform="translate(135 1584.7) scale(1 1.05)">300</text><rect x="105" y="1700.3" width="36" height="4.5" fill="#fff"/><text font-size="24" font-weight="bold" text-anchor="end" fill="#1c1c1c" transform="translate(134.9 1943.2) scale(1 1.05)">80</text><text font-size="24" font-weight="bold" text-anchor="end" fill="#1c1c1c" transform="translate(134.9 1852) scale(1 1.05)">100</text><text font-size="24" font-weight="bold" text-anchor="end" fill="#1c1c1c" transform="translate(134.9 1760.8) scale(1 1.05)">120</text><text font-size="24" font-weight="bold" text-anchor="middle" fill="#1c1c1c" transform="translate(187.3 2009.5) scale(1 1.05)">980</text><text font-size="24" font-weight="bold" text-anchor="middle" fill="#1c1c1c" transform="translate(278.6 2009.5) scale(1 1.05)">1000</text><text font-size="24" font-weight="bold" text-anchor="middle" fill="#1c1c1c" transform="translate(370 2009.5) scale(1 1.05)">1020</text><text font-size="24" font-weight="bold" text-anchor="end" fill="#1c1c1c" transform="translate(418.3 1702.9) rotate(90)">0</text><text font-size="24" font-weight="bold" text-anchor="end" fill="#1c1c1c" transform="translate(462.4 1702.9) rotate(90)">100</text><text font-size="24" font-weight="bold" text-anchor="end" fill="#1c1c1c" transform="translate(506.5 1702.9) rotate(90)">200</text><text font-size="24" font-weight="bold" text-anchor="end" fill="#1c1c1c" transform="translate(550.5 1702.9) rotate(90)">300</text><text font-size="27" font-weight="bold" text-anchor="middle" fill="#1c1c1c" transform="translate(278.6 2039.6) scale(1 1.05)">X (nm)</text><text font-size="26" font-weight="bold" text-anchor="middle" fill="#1c1c1c" transform="translate(86.5 1618.5) rotate(-90)">Localizations</text><text font-size="27.4" font-weight="bold" text-anchor="middle" fill="#1c1c1c" transform="translate(85 1842) rotate(-90)">Emitter Size (nm)</text><text font-size="26" font-weight="bold" text-anchor="middle" fill="#1c1c1c" transform="translate(504.5 1654.6) scale(1 1.05)">Localizations</text><text font-size="39" font-weight="bold" transform="translate(2.5 1558) scale(1 1.05)">e1</text><rect x="707.8" y="1541" width="275.2" height="151.6" fill="#fff"/><path d="M753.4 1541V1692.6M799.1 1541V1692.6M844.9 1541V1692.6M890.6 1541V1692.6M936.4 1541V1692.6M707.8 1652.7H983M707.8 1612.8H983M707.8 1572.9H983" stroke="#cdcdcd" stroke-width="1.4" fill="none"/><rect x="707.6" y="1706" width="274.5" height="274" fill="#fff"/><path d="M753.4 1706V1980M799.1 1706V1980M844.9 1706V1980M890.6 1706V1980M936.4 1706V1980M707.6 1934.3H982.1M707.6 1888.7H982.1M707.6 1843H982.1M707.6 1797.3H982.1M707.6 1751.7H982.1" stroke="#cdcdcd" stroke-width="1.4" fill="none"/><rect x="992.1" y="1711" width="152.9" height="270.6" fill="#fff"/><path d="M1046.3 1711V1981.6M1100.5 1711V1981.6M992.1 1936.5H1145M992.1 1891.4H1145M992.1 1846.3H1145M992.1 1801.2H1145M992.1 1756.1H1145" stroke="#cdcdcd" stroke-width="1.4" fill="none"/><clipPath id="ec2a"><rect x="707.8" y="1541" width="275.2" height="153.1"/></clipPath><clipPath id="ec2b"><rect x="707.6" y="1706" width="274.5" height="274"/></clipPath><clipPath id="ec2c"><rect x="990.6" y="1711" width="154.4" height="270.6"/></clipPath><g clip-path="url(#ec2b)"><g transform="translate(0.62 0.62) scale(1.25)" fill="none" stroke-width="1.52" stroke-linecap="round"><path stroke="#000" d="M673 1431h0m-9 6h0m2 1h0m-17 1h0m44 0h0m-49 1h0m4 0h0m47 1h0m6 0h0m-30 1h0m9 0h0m3 0h0m11 0h0m-18 1h0m7 0h0m2 0h0m-16 1h0m17 0h0m19 0h0m-51 1h0m19 0h0m6 0h0m15 0h0m2 0h0m-25 1h0m6 0h0m11 0h0m2 0h0m7 0h0m16 0h0m-49 1h0m8 0h0m8 0h0m9 0h0m-45 1h0m29 0h1m2 0h0m5 0h0m3 0h0m5 0h0m4 0h1m-34 1h0m5 0h0m7 0h0m2 0h0m4 0h0m4 0h0m3 0h0m9 0h0m2 0h2m7 0h1m14 0h0m-67 1h0m7 0h1m5 0h0m2 0h0m4 0h0m2 0h0m5 0h0m10 0h1m6 0h0m5 0h0m3 0h0m10 0h0m-58 1h0m7 0h0m4 0h0m3 0h0m3 0h0m2 0h3m2 0h0m2 0h0m2 0h0m3 0h0m6 0h0m11 0h0m4 0h0m-65 1h0m14 0h0m12 0h0m5 0h0m2 0h1m3 0h1m5 0h0m6 0h0m3 0h2m9 0h0m-60 1h0m13 0h0m14 0h0m7 0h1m5 0h0m3 0h1m16 0h0m-66 1h0m11 0h0m11 0h1m3 0h1m2 0h2m13 0h0m4 0h0m2 0h0m2 0h0m6 0h0m2 0h0m7 0h0m-54 1h0m3 0h0m6 0h1m3 0h1m2 0h0m5 0h0m8 0h0m2 0h2m3 0h0m2 0h0m8 0h0m3 0h0m7 0h0m-55 1h0m3 0h1m3 0h2m3 0h0m6 0h0m2 0h1m3 0h0m6 0h3m7 0h2m2 0h0m18 0h0m-81 1h0m8 0h0m2 0h0m9 0h0m10 0h1m3 0h0m2 0h1m2 0h1m5 0h1m5 0h0m2 0h0m3 0h0m11 0h0m-46 1h0m3 0h0m2 0h1m4 0h0m2 0h0m2 0h1m4 0h1m2 0h0m3 0h0m4 0h0m4 0h0m2 0h2m3 0h0m3 0h1m2 0h0m-50 1h0m2 0h0m2 0h0m2 0h1m3 0h1m3 0h0m5 0h0m6 0h0m6 0h0m3 0h1m3 0h0m6 0h0m-45 1h0m5 0h0m5 0h0m2 0h1m2 0h0m2 0h0m3 0h0m3 0h0m4 0h1m3 0h0m6 0h0m3 0h0m11 0h0m8 0h0m-81 1h0m16 0h0m3 0h0m5 0h0m2 0h0m2 0h0m2 0h0m3 0h0m6 0h0m3 0h1m2 0h1m2 0h0m3 0h1m4 0h3m4 0h1m4 0h1m2 0h0m13 0h0m-77 1h0m11 0h0m3 0h1m7 0h3m2 0h0m4 0h0m6 0h0m2 0h0m2 0h2m10 0h1m3 0h2m6 0h0m13 0h0m7 0h0m3 0h0m-98 1h0m22 0h1m2 0h0m3 0h0m9 0h3m6 0h0m3 0h0m10 0h0m8 0h0m7 0h0m2 0h0m7 0h0m4 0h0m-75 1h0m14 0h2m2 0h0m3 0h2m6 0h0m6 0h0m2 0h0m5 0h0m3 0h2m3 0h0m5 0h0m2 0h0m5 0h0m2 0h0m-58 1h1m10 0h0m2 0h0m3 0h2m2 0h6m3 0h1m7 0h0m3 0h0m4 0h0m2 0h0m12 0h0m3 0h1m7 0h0m8 0h0m-71 1h0m2 0h0m7 0h0m6 0h0m5 0h0m3 0h0m8 0h2m2 0h1m5 0h0m4 0h0m6 0h1m2 0h0m9 0h0m7 0h0m-77 1h0m7 0h0m2 0h2m8 0h0m2 0h0m2 0h0m3 0h0m2 0h0m6 0h0m3 0h0m2 0h3m3 0h0m6 0h5m5 0h0m3 0h3m-69 1h0m2 0h2m4 0h0m6 0h0m2 0h1m7 0h0m3 0h1m7 0h0m6 0h0m2 0h0m6 0h1m2 0h0m3 0h1m7 0h0m-68 1h0m6 0h0m5 0h0m3 0h0m2 0h0m2 0h0m5 0h0m5 0h1m4 0h0m5 0h0m5 0h0m7 0h0m8 0h0m5 0h1m2 0h0m3 0h0m4 0h0m7 0h0m2 0h0m5 0h0m-89 1h0m11 0h0m6 0h0m6 0h1m2 0h2m2 0h1m2 0h0m3 0h0m4 0h0m8 0h1m4 0h3m3 0h0m3 0h0m3 0h0m-56 1h0m4 0h0m6 0h0m5 0h1m2 0h0m8 0h0m9 0h0m2 0h0m6 0h0m4 0h0m6 0h0m11 0h1m-56 1h0m5 0h0m6 0h0m2 0h0m3 0h0m5 0h0m3 0h0m6 0h0m5 0h0m3 0h0m4 0h0m2 0h0m2 0h0m4 0h1m2 0h0m13 0h0m-81 1h0m18 0h0m4 0h0m9 0h0m5 0h0m4 0h1m4 0h0m8 0h1m3 0h2m7 0h0m8 0h0m-69 1h0m8 0h1m7 0h0m2 0h0m5 0h0m8 0h0m5 0h0m3 0h0m7 0h0m6 0h0m11 0h0m-69 1h0m10 0h0m5 0h0m2 0h0m3 0h0m3 0h3m5 0h0m17 0h0m4 0h0m2 0h1m2 0h0m7 0h1m2 0h0m2 0h0m-64 1h1m7 0h0m2 0h0m20 0h0m3 0h0m2 0h0m3 0h0m3 0h1m4 0h1m3 0h1m4 0h0m6 0h1m12 0h0m-75 1h0m6 0h0m8 0h0m8 0h0m5 0h0m9 0h0m3 0h0m5 0h0m15 0h1m4 0h1m-61 1h0m3 0h1m2 0h0m7 0h2m2 0h0m2 0h2m2 0h0m9 0h0m6 0h1m6 0h0m3 0h0m2 0h0m4 0h3m27 0h0m-89 1h0m4 0h0m7 0h0m6 0h0m6 0h0m2 0h0m3 0h0m8 0h0m2 0h0m14 0h0m3 0h0m5 0h0m5 0h0m-60 1h1m11 0h0m4 0h0m2 0h0m8 0h0m5 0h0m4 0h0m2 0h2m5 0h0m5 0h0m4 0h2m5 0h0m6 0h0m3 0h0m8 0h0m-72 1h0m6 0h0m3 0h0m3 0h0m3 0h2m7 0h0m2 0h0m4 0h0m7 0h1m10 0h0m4 0h3m2 0h0m-50 1h0m3 0h0m6 0h0m11 0h0m7 0h0m14 0h0m11 0h0m-58 1h0m4 0h0m2 0h0m3 0h0m2 0h0m9 0h1m2 0h1m7 0h1m2 0h0m7 0h0m15 0h0m-65 1h0m7 0h0m2 0h0m16 0h0m3 0h0m3 0h3m8 0h0m6 0h0m8 0h0m5 0h0m11 0h0m-64 1h0m5 0h0m14 0h0m3 0h0m3 0h0m8 0h1m5 0h0m2 0h0m2 0h0m2 0h0m-55 1h0m5 0h0m10 0h0m2 0h0m8 0h0m3 0h0m5 0h0m5 0h1m2 0h0m3 0h0m11 0h0m6 0h0m10 0h0m-65 1h0m7 0h0m2 0h1m3 0h0m9 0h0m5 0h0m7 0h0m4 0h0m2 0h0m3 0h0m5 0h0m-51 1h0m15 0h0m2 0h0m10 0h0m3 0h0m4 0h1m2 0h0m5 0h1m6 0h0m19 0h0m-52 1h0m2 0h1m10 0h0m3 0h0m3 0h1m10 0h0m-46 1h0m25 0h0m2 0h0m2 0h1m10 0h0m5 0h0m8 0h0m5 0h0m-49 1h0m14 0h0m2 0h0m7 0h0m19 0h0m2 0h0m16 0h0m-53 1h0m3 0h0m12 0h0m8 0h0m9 0h0m4 0h0m5 0h0m-38 1h0m15 0h0m11 0h0m2 0h0m10 0h0m6 0h0m-45 1h0m6 0h0m13 0h0m4 0h0m-47 2h0m23 0h0m2 0h0m9 0h0m12 0h0m3 2h0m-45 1h0m37 0h0m37 0h0m-29 1h0m8 0h0m6 2h0m-35 1h0"/><path stroke="#ff0000" d="M687 1433h0m-3 9h0m-12 1h0m5 1h0m26 0h0m-18 1h0m8 0h0m-37 1h0m46 0h0m-25 1h0m-13 1h0m16 0h0m-14 1h0m7 0h0m15 0h0m-34 1h0m11 0h0m13 0h0m30 0h0m-50 1h0m6 0h0m2 0h0m2 0h0m11 0h0m-33 1h0m32 0h0m16 0h0m11 0h0m10 0h0m-64 1h0m2 0h0m13 0h0m4 0h0m2 0h0m6 0h1m5 0h0m4 0h0m4 0h0m10 0h0m2 0h0m-52 1h0m20 0h0m2 0h1m3 0h1m2 0h0m10 0h0m39 0h0m8 0h0m-89 1h0m6 0h0m4 0h0m17 0h0m2 0h0m14 0h0m19 0h0m17 0h0m-68 1h0m5 0h0m2 0h0m4 0h0m10 0h1m10 0h0m5 0h0m2 0h0m9 0h0m5 0h0m-76 1h1m29 0h0m5 0h0m3 0h1m2 0h0m4 0h0m2 0h0m4 0h0m3 0h0m18 0h0m-56 1h0m6 0h0m3 0h0m2 0h0m4 0h0m3 0h0m2 0h0m3 0h0m2 0h1m3 0h0m4 0h0m7 0h0m3 0h0m4 0h0m3 0h0m17 0h0m-53 1h1m3 0h0m2 0h1m6 0h0m3 0h0m4 0h0m14 0h0m2 0h1m-43 1h0m5 0h0m9 0h0m5 0h0m2 0h2m5 0h0m3 0h0m3 0h0m2 0h2m13 0h1m2 0h0m-85 1h0m25 0h0m4 0h0m10 0h0m3 0h0m5 0h1m5 0h0m7 0h0m3 0h1m12 0h0m-53 1h1m2 0h0m8 0h1m2 0h0m6 0h0m2 0h0m4 0h6m2 0h0m3 0h0m5 0h0m2 0h1m4 0h0m2 0h0m5 0h1m-87 1h0m9 0h0m10 0h0m7 0h0m8 0h1m2 0h1m5 0h4m2 0h1m3 0h0m2 0h3m2 0h0m2 0h0m3 0h3m3 0h0m2 0h1m7 0h1m6 0h0m-62 1h0m7 0h0m5 0h0m3 0h0m3 0h4m2 0h0m2 0h3m2 0h1m4 0h1m3 0h2m6 0h1m2 0h0m2 0h0m6 0h0m4 0h0m4 0h0m-68 1h0m3 0h0m2 0h0m2 0h0m3 0h0m4 0h0m8 0h1m5 0h0m2 0h1m2 0h1m2 0h0m2 0h0m4 0h0m2 0h3m4 0h1m7 0h0m10 0h0m-73 1h0m3 0h0m5 0h1m3 0h1m2 0h3m3 0h1m4 0h0m3 0h6m4 0h0m3 0h2m3 0h0m2 0h0m2 0h0m18 0h1m-81 1h0m3 0h0m21 0h0m2 0h0m3 0h0m2 0h0m3 0h0m2 0h0m2 0h4m2 0h1m2 0h0m5 0h1m3 0h0m2 0h1m7 0h0m12 0h0m2 0h0m2 0h0m-69 1h0m4 0h0m2 0h0m7 0h0m3 0h1m2 0h1m4 0h4m2 0h0m2 0h2m2 0h0m2 0h1m2 0h1m3 0h0m6 0h1m2 0h1m11 0h0m3 0h0m-79 1h0m11 0h0m3 0h0m6 0h1m8 0h2m2 0h1m2 0h0m2 0h2m3 0h5m2 0h2m3 0h1m2 0h3m5 0h0m3 0h0m2 0h0m6 0h1m-63 1h0m4 0h0m3 0h0m4 0h0m3 0h0m2 0h0m3 0h2m2 0h6m3 0h2m5 0h1m3 0h0m2 0h1m2 0h0m2 0h1m2 0h0m3 0h0m5 0h0m3 0h0m16 0h0m-92 1h0m9 0h2m4 0h1m4 0h0m2 0h0m2 0h1m2 0h0m3 0h7m2 0h0m2 0h4m2 0h2m2 0h4m2 0h3m2 0h2m2 0h0m4 0h0m10 0h0m3 0h1m3 0h0m-96 1h0m15 0h0m4 0h0m5 0h0m3 0h4m4 0h1m2 0h3m2 0h1m2 0h4m2 0h3m3 0h0m2 0h2m6 0h0m5 0h0m2 0h0m2 0h0m5 0h0m2 0h0m7 0h0m3 0h1m-76 1h0m3 0h1m2 0h0m2 0h0m2 0h3m2 0h2m2 0h3m2 0h2m3 0h2m2 0h3m2 0h1m3 0h0m5 0h3m2 0h0m11 0h0m-78 1h0m8 0h1m10 0h0m5 0h0m2 0h0m2 0h0m3 0h6m2 0h3m2 0h1m2 0h0m2 0h3m3 0h1m2 0h0m2 0h1m2 0h0m3 0h0m3 0h0m3 0h2m-66 1h0m7 0h0m2 0h0m5 0h0m6 0h0m2 0h0m3 0h11m2 0h1m3 0h2m5 0h0m2 0h3m11 0h1m9 0h0m-85 1h0m21 0h0m2 0h0m4 0h2m3 0h0m2 0h3m2 0h1m2 0h0m2 0h1m2 0h1m3 0h1m4 0h1m7 0h0m2 0h1m4 0h0m6 0h0m10 0h0m-67 1h0m2 0h1m3 0h0m4 0h0m2 0h0m3 0h0m2 0h4m3 0h0m3 0h3m2 0h4m2 0h0m3 0h2m2 0h0m4 0h1m8 0h0m9 0h0m-81 1h0m12 0h0m3 0h1m5 0h0m6 0h0m2 0h2m2 0h3m4 0h0m2 0h0m3 0h4m2 0h0m3 0h0m3 0h1m5 0h0m3 0h0m4 0h0m3 0h1m8 0h0m6 0h0m-82 1h0m8 0h0m4 0h0m3 0h1m2 0h0m2 0h0m5 0h4m4 0h7m2 0h0m2 0h1m5 0h2m4 0h0m2 0h0m4 0h1m4 0h0m4 0h0m-67 1h1m4 0h0m5 0h0m4 0h6m2 0h3m2 0h2m2 0h0m4 0h0m2 0h1m2 0h0m2 0h1m3 0h0m5 0h0m5 0h0m6 0h0m8 0h0m-60 1h1m2 0h1m4 0h2m2 0h0m3 0h0m2 0h0m2 0h0m2 0h0m4 0h1m3 0h5m2 0h1m4 0h0m7 0h0m11 0h1m-80 1h0m13 0h1m4 0h0m6 0h1m3 0h8m2 0h2m2 0h1m2 0h1m2 0h4m2 0h0m5 0h0m2 0h0m2 0h1m2 0h0m2 0h0m-55 1h1m2 0h0m11 0h1m2 0h0m3 0h0m3 0h0m2 0h0m2 0h1m5 0h4m5 0h0m4 0h0m3 0h0m2 0h2m2 0h0m7 0h0m3 0h0m7 0h0m-72 1h0m6 0h0m4 0h2m3 0h1m3 0h0m6 0h1m2 0h2m2 0h1m2 0h1m5 0h2m6 0h0m2 0h0m18 0h0m-68 1h0m2 0h0m2 0h0m6 0h4m2 0h1m2 0h1m2 0h3m2 0h1m3 0h0m2 0h1m2 0h0m4 0h0m6 0h1m2 0h0m2 0h1m-55 1h0m3 0h0m6 0h0m4 0h0m2 0h0m6 0h0m4 0h0m4 0h0m5 0h2m3 0h1m2 0h1m11 0h0m3 0h1m6 0h0m4 0h0m-75 1h0m16 0h0m4 0h0m3 0h0m7 0h4m3 0h1m3 0h0m3 0h0m4 0h0m4 0h1m3 0h0m3 0h0m6 0h0m8 0h0m-58 1h0m3 0h0m4 0h0m2 0h1m3 0h0m3 0h1m3 0h0m3 0h2m4 0h0m5 0h1m2 0h0m2 0h0m4 0h0m2 0h0m4 0h0m13 0h0m6 0h0m-77 1h1m5 0h0m2 0h0m2 0h0m4 0h0m3 0h0m2 0h0m4 0h0m3 0h1m5 0h0m6 0h0m2 0h0m2 0h0m3 0h0m3 0h2m5 0h0m6 0h0m-47 1h0m2 0h0m3 0h0m7 0h1m3 0h2m4 0h1m3 0h0m3 0h0m4 0h1m2 0h0m2 0h0m9 0h0m3 0h0m15 0h0m-83 1h0m7 0h0m9 0h0m5 0h0m3 0h3m8 0h0m2 0h1m2 0h0m2 0h0m3 0h1m5 0h0m2 0h0m2 0h0m2 0h1m9 0h0m-58 1h0m5 0h0m11 0h0m4 0h0m2 0h3m3 0h4m2 0h0m5 0h0m3 0h0m4 0h0m7 0h0m2 0h0m-57 1h0m5 0h0m8 0h0m4 0h0m2 0h1m3 0h0m6 0h0m10 0h0m3 0h0m3 0h1m5 0h0m-38 1h0m8 0h0m2 0h0m3 0h0m2 0h0m5 0h0m2 0h0m2 0h0m9 0h0m8 0h0m-59 1h0m7 0h0m2 0h0m8 0h0m2 0h0m7 0h0m3 0h0m12 0h0m3 0h0m6 0h0m16 0h0m-64 1h0m15 0h0m50 0h0m-65 1h0m5 0h0m3 0h0m30 0h0m7 0h0m6 0h0m2 0h0m-54 1h0m12 0h0m23 0h0m13 0h0m-53 1h0m9 0h0m34 0h0m9 0h0m-11 1h0m3 0h0m20 0h0m18 0h0m-49 1h0m4 0h0m5 1h0m10 0h0m-33 2h0m7 0h0m16 0h0m46 0h0m-62 1h0m3 0h0m5 4h1m-30 2h0"/><path stroke="#00ee00" d="M623 1426h0m-22 32h0m131 6h0m-47 1h0m-75 11h0m52 0h0m36 6h0m24 2h0m-105 1h0m108 1h0m-118 1h0m145 1h0m-22 1h0m-40 1h0m21 0h0m-52 2h0m33 1h0m3 0h0m16 0h0m-49 1h0m-50 1h0m99 1h0m12 0h0m-35 1h0m36 0h0m-20 2h0m12 0h0m-54 2h0m12 0h0m-10 1h0m5 0h0m10 0h0m52 0h0m-77 1h0m27 0h0m24 0h0m32 0h0m-85 1h0m47 0h0m5 0h1m7 0h0m-72 1h0m3 0h0m15 0h0m8 0h0m29 0h1m8 0h0m2 0h0m-62 1h0m6 0h0m11 0h0m23 0h0m13 0h0m17 0h0m-67 1h0m5 0h0m2 0h0m10 0h0m7 0h0m2 0h0m38 0h0m-86 1h0m36 0h0m2 0h0m14 0h0m22 0h0m11 0h0m23 0h0m-91 1h0m14 0h0m5 0h0m3 0h0m18 0h0m3 0h0m4 0h0m8 0h0m14 0h0m5 0h0m2 0h0m-72 1h0m25 0h0m26 0h0m-55 1h0m12 0h0m18 0h0m5 0h0m14 0h1m11 0h0m27 0h0m17 0h0m-124 1h0m12 0h0m16 0h0m6 0h0m2 0h0m2 0h0m6 0h0m4 0h0m29 0h0m-51 1h0m4 0h0m2 0h0m5 0h0m2 0h0m9 0h0m2 0h0m17 0h0m19 0h0m6 0h0m5 0h0m10 0h0m17 0h0m-132 1h0m16 0h0m22 0h0m19 0h0m6 0h0m4 0h0m5 0h0m4 0h0m9 0h0m4 0h0m5 0h0m-122 1h0m56 0h2m2 0h0m24 0h0m5 0h0m16 0h0m38 0h0m-81 1h0m4 0h0m2 0h0m11 0h0m6 0h0m8 0h0m7 0h0m3 0h0m12 0h0m8 0h0m16 0h0m-112 1h0m39 0h0m9 0h0m3 0h0m2 0h0m15 0h0m5 0h1m14 0h0m-91 1h0m34 0h0m2 0h0m7 0h0m20 0h0m18 0h0m4 0h0m8 0h0m33 0h0m-77 1h0m10 0h0m6 0h0m6 0h0m10 0h0m6 0h0m10 0h0m2 0h1m3 0h0m10 0h0m7 0h0m48 0h0m-159 1h0m3 0h0m6 0h1m8 0h0m12 0h1m2 0h0m8 0h0m13 0h0m4 0h1m5 0h0m4 0h0m13 0h0m3 0h0m6 0h0m-83 1h0m23 0h0m5 0h0m9 0h0m2 0h0m5 0h0m3 0h0m7 0h2m8 0h3m33 0h0m17 0h0m4 0h0m-150 1h0m10 0h0m11 0h0m26 0h0m10 0h0m5 0h0m2 0h0m8 0h0m3 0h1m14 0h1m9 0h1m6 0h0m26 0h0m4 0h0m-100 1h0m18 0h0m33 0h0m6 0h0m13 0h0m3 0h0m5 0h0m-83 1h0m5 0h0m4 0h0m17 0h0m4 0h0m7 0h0m7 0h0m4 0h0m4 0h0m9 0h0m13 0h0m3 0h0m57 0h0m-137 1h0m6 0h0m8 0h0m3 0h0m10 0h0m7 0h0m7 0h1m5 0h0m2 0h0m2 0h0m21 0h0m3 0h0m10 0h0m12 0h0m-104 1h0m25 0h1m11 0h0m5 0h0m5 0h0m3 0h2m4 0h0m2 0h0m7 0h0m13 0h0m-74 1h0m6 0h0m12 0h0m2 0h0m4 0h0m5 0h0m5 0h0m9 0h1m13 0h0m6 0h0m6 0h0m8 0h0m3 0h0m10 0h0m26 0h0m-101 1h0m9 0h0m3 0h0m6 0h0m14 0h0m16 0h0m6 0h0m5 0h0m3 0h0m6 0h1m8 0h0m6 0h0m5 0h0m26 0h0m-141 1h0m14 0h0m9 0h0m2 0h0m7 0h0m3 0h0m12 0h0m2 0h0m3 0h0m6 0h0m8 0h1m3 0h0m3 0h0m12 0h0m8 0h0m7 0h0m-89 1h0m5 0h0m11 0h0m5 0h0m6 0h1m5 0h0m13 0h0m4 0h0m4 0h0m7 0h0m7 0h0m2 0h0m8 0h0m13 0h0m18 0h0m-114 1h0m12 0h0m21 0h0m5 0h0m2 0h0m3 0h0m5 0h0m8 0h1m8 0h0m10 0h2m9 0h0m22 0h0m31 0h0m-131 1h0m21 0h0m13 0h0m2 0h1m17 0h0m5 0h0m2 0h0m3 0h0m6 0h0m3 0h0m4 0h0m6 0h1m23 0h0m7 0h0m-125 1h0m23 0h0m8 0h0m7 0h1m3 0h0m6 0h0m3 0h0m6 0h0m2 0h0m6 0h0m8 0h0m2 0h0m5 0h0m2 0h0m2 0h0m3 0h0m6 0h0m17 0h0m2 0h0m11 0h0m-113 1h0m7 0h0m6 0h0m5 0h0m4 0h0m6 0h0m8 0h0m5 0h0m6 0h1m4 0h0m2 0h0m11 0h1m5 0h0m6 0h0m21 0h0m2 0h0m3 0h0m46 0h0m-183 1h0m49 0h0m3 0h0m2 0h0m4 0h0m5 0h0m6 0h0m13 0h0m2 0h0m3 0h0m18 0h0m7 0h0m24 0h0m-101 1h0m8 0h1m7 0h0m7 0h0m10 0h0m2 0h0m27 0h0m14 0h0m11 0h0m8 0h0m18 0h0m14 0h0m-141 1h0m11 0h0m16 0h1m3 0h0m7 0h0m3 0h0m3 0h0m5 0h0m3 0h0m5 0h0m8 0h0m8 0h0m10 0h1m3 0h1m38 0h0m-130 1h0m23 0h0m5 0h0m3 0h2m8 0h0m2 0h0m11 0h0m9 0h0m2 0h0m2 0h0m5 0h0m2 0h0m11 0h0m6 0h1m2 0h0m23 0h0m5 0h0m8 0h0m11 0h0m-105 1h2m13 0h2m7 0h0m3 0h0m7 0h1m2 0h0m8 0h0m10 0h0m3 0h0m2 0h0m2 0h0m3 0h0m3 0h0m2 0h0m11 0h0m3 0h0m5 0h0m14 0h0m-123 1h0m7 0h0m16 0h0m10 0h0m3 0h0m22 0h4m5 0h0m4 0h1m3 0h0m6 0h0m13 0h0m5 0h0m16 0h0m-102 1h0m3 0h1m9 0h0m2 0h0m4 0h0m14 0h0m3 0h0m5 0h1m2 0h0m7 0h0m16 0h0m9 0h0m5 0h0m3 0h0m8 0h0m46 0h0m-165 1h0m15 0h0m16 0h0m2 0h0m5 0h0m9 0h0m2 0h0m4 0h0m7 0h0m8 0h0m2 0h0m10 0h0m2 0h0m4 0h0m10 0h0m-75 1h0m2 0h0m5 0h0m5 0h0m9 0h1m2 0h0m2 0h1m6 0h0m5 0h0m3 0h0m2 0h0m8 0h0m14 0h0m3 0h0m3 0h0m11 0h0m11 0h0m-149 1h0m20 0h0m29 0h0m22 0h0m10 0h0m7 0h1m11 0h0m6 0h0m2 0h0m7 0h0m2 0h0m11 0h0m5 0h0m5 0h0m5 0h0m-91 1h0m16 0h1m4 0h1m2 0h0m3 0h0m2 0h0m2 0h0m10 0h0m11 0h0m8 0h0m3 0h0m2 0h0m3 0h0m10 0h0m5 0h0m12 0h0m7 0h0m4 0h0m-115 1h0m10 0h0m21 0h0m6 0h0m2 0h0m5 0h0m10 0h0m2 0h0m5 0h0m2 0h1m11 0h4m12 0h0m2 0h0m5 0h1m5 0h0m18 0h0m-113 1h0m4 0h0m11 0h0m3 0h0m4 0h0m10 0h0m6 0h0m7 0h0m4 0h1m7 0h0m5 0h1m4 0h0m11 0h0m4 0h1m3 0h0m7 0h0m6 0h0m6 0h0m17 0h0m-117 1h1m7 0h0m4 0h0m2 0h0m2 0h1m7 0h2m2 0h1m2 0h0m6 0h1m6 0h0m8 0h1m10 0h0m10 0h0m10 0h0m12 0h0m82 0h0m-188 1h0m14 0h0m14 0h1m9 0h1m5 0h0m4 0h0m5 0h1m5 0h0m7 0h0m8 0h0m6 0h0m27 0h0m7 0h0m-102 1h0m12 0h1m2 0h0m10 0h1m2 0h0m4 0h1m2 0h1m11 0h0m5 0h0m2 0h0m2 0h0m5 0h2m26 0h1m8 0h0m-109 1h0m11 0h1m2 0h0m2 0h0m4 0h0m17 0h1m3 0h1m2 0h0m6 0h0m3 0h0m4 0h0m5 0h0m9 0h0m2 0h1m2 0h0m5 0h1m5 0h0m10 0h0m4 0h0m3 0h0m-95 1h1m7 0h0m17 0h0m12 0h0m2 0h0m4 0h0m5 0h1m6 0h0m5 0h0m2 0h0m9 0h0m10 0h0m5 0h1m5 0h0m5 0h0m9 0h0m-145 1h0m42 0h0m15 0h0m8 0h0m8 0h0m4 0h0m4 0h0m5 0h0m8 0h0m5 0h0m15 0h0m16 0h0m14 0h0m4 0h0m-100 1h0m2 0h0m2 0h0m8 0h0m3 0h2m5 0h0m10 0h0m3 0h0m3 0h0m7 0h0m2 0h0m9 0h1m3 0h2m4 0h0m6 0h0m18 0h0m6 0h0m-96 1h0m9 0h0m3 0h0m3 0h0m9 0h0m3 0h1m2 0h0m10 0h1m5 0h1m6 0h0m10 0h0m2 0h0m2 0h0m2 0h0m12 0h0m-93 1h0m23 0h0m3 0h0m3 0h1m5 0h0m4 0h1m4 0h0m4 0h0m9 0h0m4 0h0m5 0h0m4 0h0m11 0h0m4 0h0m5 0h0m9 0h0m15 0h0m-117 1h0m16 0h0m5 0h0m9 0h0m4 0h0m2 0h0m13 0h2m3 0h0m4 0h0m3 0h0m4 0h0m9 0h3m15 0h0m11 0h0m-101 1h0m10 0h1m2 0h0m9 0h0m12 0h1m9 0h0m3 0h0m3 0h1m5 0h0m2 0h0m12 0h0m3 0h0m5 0h1m4 0h0m9 0h0m10 0h1m16 0h0m-122 1h0m20 0h0m3 0h0m2 0h1m6 0h0m7 0h0m2 0h2m7 0h2m5 0h0m3 0h0m6 0h0m2 0h1m11 0h0m9 0h1m-100 1h0m10 0h0m2 0h0m2 0h0m10 0h0m5 0h0m7 0h0m2 0h1m3 0h0m5 0h0m6 0h0m8 0h0m2 0h0m4 0h0m4 0h2m6 0h0m2 0h1m3 0h1m3 0h0m2 0h0m3 0h0m20 0h0m9 0h0m-106 1h0m2 0h0m7 0h0m12 0h0m6 0h0m6 0h0m5 0h1m4 0h1m2 0h0m2 0h0m9 0h4m5 0h0m8 0h0m5 0h0m-80 1h0m6 0h0m16 0h1m10 0h1m15 0h0m6 0h1m5 0h0m2 0h0m2 0h0m4 0h0m3 0h1m8 0h0m4 0h0m11 0h0m12 0h0m8 0h0m-220 1h0m103 0h0m23 0h0m4 0h1m4 0h0m3 0h0m3 0h0m14 0h0m2 0h0m2 0h0m2 0h0m2 0h0m8 0h0m6 0h0m3 0h0m10 0h0m8 0h2m2 0h1m-88 1h0m11 0h1m8 0h0m14 0h1m2 0h0m4 0h0m8 0h0m4 0h0m3 0h1m2 0h0m11 0h0m16 0h0m4 0h0m-120 1h0m39 0h0m8 0h0m2 0h0m3 0h0m3 0h0m2 0h2m7 0h0m4 0h0m2 0h0m9 0h1m2 0h0m5 0h0m6 0h0m8 0h0m4 0h0m9 0h0m-96 1h0m19 0h0m8 0h1m4 0h0m13 0h2m3 0h0m6 0h0m2 0h0m2 0h0m3 0h0m5 0h1m9 0h0m5 0h0m4 0h0m7 0h0m-104 1h0m24 0h0m10 0h0m9 0h1m3 0h0m6 0h2m2 0h0m6 0h0m2 0h1m2 0h0m9 0h0m6 0h0m21 0h0m5 0h0m-112 1h0m16 0h0m7 0h0m3 0h2m15 0h2m2 0h0m4 0h0m3 0h0m5 0h0m17 0h0m3 0h0m7 0h0m4 0h0m10 0h0m4 0h0m-100 1h0m35 0h0m3 0h1m3 0h0m7 0h0m12 0h0m3 0h0m3 0h0m8 0h0m3 0h0m2 0h0m-63 1h0m2 0h0m12 0h0m10 0h0m3 0h0m3 0h0m7 0h0m2 0h0m9 0h0m4 0h0m6 0h0m6 0h0m2 0h0m9 0h0m-76 1h0m5 0h1m14 0h0m6 0h0m7 0h0m3 0h2m5 0h0m5 0h1m3 0h0m5 0h0m5 0h0m9 0h1m2 0h0m12 0h0m-94 1h0m28 0h0m2 0h0m6 0h0m3 0h0m6 0h0m2 0h0m3 0h0m4 0h0m2 0h1m3 0h0m2 0h0m15 0h0m9 0h0m8 0h0m12 0h0m-112 1h0m5 0h0m3 0h0m17 0h0m5 0h1m6 0h0m9 0h0m6 0h0m6 0h0m8 0h0m3 0h0m10 0h0m5 0h1m7 0h0m33 0h0m-126 1h0m13 0h0m11 0h0m3 0h0m4 0h0m19 0h0m7 0h0m9 0h0m5 0h0m6 0h0m12 0h0m2 0h0m-88 1h0m13 0h0m22 0h0m2 0h0m6 0h1m2 0h1m62 0h0m-100 1h0m6 0h0m14 0h0m15 0h0m5 0h1m6 0h0m9 0h0m12 0h0m8 0h0m24 0h0m-98 1h0m35 0h0m14 0h0m4 0h1m7 0h1m3 0h2m16 0h0m2 0h0m56 0h0m-135 1h1m7 0h0m5 0h0m6 0h0m24 0h0m11 0h0m31 0h0m-115 1h0m28 0h0m2 0h0m4 0h0m2 0h0m8 0h0m18 0h0m17 0h1m8 0h0m18 0h0m13 0h0m-112 1h0m27 0h0m14 0h0m5 0h0m11 0h0m2 0h0m3 0h0m3 0h0m6 0h0m10 0h0m13 0h0m11 0h1m-67 1h0m17 0h0m8 0h0m11 0h0m15 0h0m-65 1h1m9 0h0m5 0h0m7 0h0m3 0h1m7 0h0m2 0h0m5 0h0m14 0h0m6 0h0m30 0h0m-74 1h0m20 0h0m3 0h0m34 0h0m-89 1h0m7 0h0m13 0h0m3 0h0m25 0h0m21 0h1m-65 1h0m50 0h0m5 0h0m9 0h0m2 0h0m-62 1h0m8 0h0m9 0h0m14 0h0m9 0h1m23 0h0m36 0h0m-87 1h0m32 0h0m-47 1h0m7 0h0m36 0h0m16 0h0m13 0h0m-89 1h0m35 0h0m60 0h0m20 0h0m-72 1h0m23 0h0m5 0h0m10 0h0m-69 1h0m76 0h0m-74 1h0m35 0h0m4 0h1m17 0h0m-48 1h0m6 0h0m10 0h0m17 0h0m21 0h0m-39 1h0m6 0h0m58 0h0m-26 1h0m36 0h0m-63 1h0m30 0h0m7 0h0m12 0h0m-40 1h0m15 0h0m16 0h0m-34 1h0m-8 1h0m12 0h0m17 0h0m4 0h0m-69 1h0m-42 1h0m78 0h0m40 0h0m-99 1h0m30 0h0m4 0h0m9 0h0m90 2h0m-122 2h0m35 0h0m-8 3h0m7 0h0m6 1h0m28 0h0m65 9h0m-86 6h0m-30 1h0m66 3h0"/><path stroke="#0000ff" d="M681 1494h0m10 2h0m5 0h0m-22 1h0m22 3h0m17 0h0m-38 4h0m20 0h0m11 0h0m-58 1h0m9 0h0m22 0h0m-7 1h0m35 0h1m-14 1h0m3 0h0m31 0h0m19 0h0m-75 1h0m2 2h0m3 0h0m26 0h0m8 0h0m33 0h0m-106 1h0m27 0h0m6 0h0m2 0h0m11 0h0m12 0h0m-44 1h0m22 0h0m8 0h0m6 0h0m8 0h0m21 0h0m23 0h0m-112 1h0m36 0h0m14 0h0m2 0h1m5 0h0m6 0h0m9 0h0m7 0h0m17 0h0m-80 1h0m15 0h0m2 0h0m7 0h0m17 0h0m47 0h0m-78 1h0m9 0h0m2 0h0m2 0h0m4 0h0m12 0h0m6 0h0m3 0h0m8 0h0m6 0h0m-55 1h0m9 0h0m7 0h0m18 0h0m2 0h0m7 0h0m6 0h0m2 0h0m17 0h0m-95 1h0m17 0h0m6 0h0m2 0h0m7 0h0m12 0h0m21 0h0m2 0h0m17 0h1m6 0h0m17 0h0m-76 1h0m16 0h0m6 0h0m7 0h0m13 0h0m-65 1h0m3 0h0m11 0h0m3 0h0m2 0h0m5 0h0m3 0h0m16 0h1m3 0h0m2 0h0m2 0h0m4 0h1m11 0h0m40 0h0m-100 1h0m13 0h0m26 0h0m10 0h0m6 0h0m9 0h0m6 0h0m4 0h1m10 0h0m4 0h0m3 0h0m-116 1h0m22 0h1m6 0h0m2 0h0m5 0h0m8 0h0m9 0h0m3 0h0m2 0h0m13 0h0m10 0h0m2 0h0m10 0h0m16 0h0m-91 1h0m7 0h0m2 0h0m12 0h1m14 0h0m4 0h1m2 0h1m3 0h0m4 0h1m3 0h5m5 0h0m6 0h0m2 0h2m3 0h0m7 0h0m46 0h0m-129 1h0m8 0h0m10 0h0m2 0h0m2 0h0m2 0h0m2 0h1m2 0h0m3 0h1m2 0h2m2 0h1m5 0h0m7 0h0m2 0h0m2 0h0m2 0h2m5 0h0m5 0h0m31 0h0m-83 1h0m8 0h0m2 0h1m3 0h1m2 0h0m7 0h0m2 0h0m4 0h0m3 0h0m4 0h0m7 0h1m17 0h0m8 0h0m-79 1h0m5 0h0m8 0h0m5 0h3m5 0h1m4 0h0m4 0h2m2 0h1m5 0h0m2 0h5m3 0h0m2 0h0m15 0h1m17 0h0m-112 1h0m7 0h0m12 0h1m8 0h0m9 0h0m4 0h1m9 0h0m5 0h0m2 0h2m2 0h1m2 0h4m9 0h1m5 0h2m3 0h1m6 0h0m14 0h0m-127 1h0m16 0h0m4 0h0m2 0h0m7 0h0m13 0h0m13 0h0m2 0h0m5 0h0m2 0h0m2 0h1m8 0h0m2 0h1m3 0h0m2 0h1m3 0h0m2 0h0m3 0h1m2 0h1m4 0h0m4 0h0m2 0h0m6 0h0m8 0h0m3 0h0m-94 1h0m11 0h0m9 0h0m3 0h0m5 0h0m2 0h0m3 0h1m2 0h0m4 0h1m4 0h0m2 0h1m2 0h0m2 0h0m2 0h0m2 0h0m3 0h0m2 0h0m18 0h0m2 0h0m8 0h0m7 0h0m2 0h0m6 0h0m-107 1h0m20 0h0m5 0h0m5 0h0m2 0h0m3 0h0m5 0h1m2 0h1m7 0h0m3 0h2m3 0h0m3 0h1m3 0h1m6 0h0m3 0h1m15 0h0m5 0h0m2 0h0m-89 1h0m9 0h1m5 0h1m3 0h0m2 0h3m3 0h0m2 0h0m3 0h0m3 0h1m2 0h2m3 0h2m7 0h3m7 0h1m2 0h0m4 0h1m6 0h1m3 0h0m13 0h0m7 0h0m4 0h0m5 0h0m-135 1h0m19 0h0m2 0h0m3 0h0m8 0h1m9 0h1m3 0h0m2 0h0m3 0h1m2 0h0m5 0h0m2 0h2m2 0h0m2 0h1m2 0h2m3 0h0m7 0h1m5 0h0m17 0h0m6 0h0m12 0h0m-105 1h0m9 0h0m2 0h0m3 0h0m2 0h0m4 0h0m2 0h1m3 0h0m3 0h0m4 0h3m3 0h5m2 0h3m4 0h1m2 0h0m6 0h0m3 0h2m3 0h1m20 0h1m-84 1h0m5 0h0m4 0h0m7 0h0m10 0h0m4 0h0m2 0h4m2 0h0m2 0h4m2 0h0m2 0h1m6 0h0m2 0h0m3 0h0m3 0h0m4 0h0m11 0h1m4 0h0m-98 1h0m5 0h0m22 0h0m2 0h1m2 0h0m3 0h0m2 0h0m2 0h0m2 0h0m7 0h0m2 0h0m2 0h1m2 0h1m2 0h2m7 0h0m2 0h4m2 0h0m2 0h0m2 0h1m10 0h0m8 0h1m8 0h0m-108 1h0m14 0h0m3 0h0m2 0h0m9 0h3m3 0h0m2 0h0m2 0h1m3 0h3m4 0h1m2 0h0m4 0h1m2 0h0m2 0h0m2 0h1m2 0h2m5 0h0m2 0h0m3 0h0m6 0h0m14 0h0m13 0h0m-115 1h0m5 0h0m17 0h0m3 0h0m4 0h0m4 0h2m2 0h0m2 0h0m2 0h3m9 0h2m2 0h0m2 0h1m2 0h2m3 0h0m2 0h0m3 0h2m3 0h0m5 0h0m2 0h0m5 0h0m3 0h0m2 0h0m2 0h0m5 0h0m5 0h0m-105 1h0m9 0h0m3 0h0m5 0h0m8 0h0m3 0h0m7 0h1m8 0h0m2 0h0m2 0h0m2 0h2m2 0h3m3 0h0m5 0h3m2 0h0m3 0h1m4 0h0m3 0h3m2 0h2m4 0h2m2 0h0m5 0h2m8 0h0m6 0h0m-128 1h0m12 0h0m8 0h0m13 0h2m6 0h0m2 0h0m2 0h3m3 0h1m2 0h3m4 0h0m5 0h0m4 0h7m2 0h0m11 0h0m2 0h1m3 0h0m2 0h1m3 0h0m11 0h1m-90 1h0m2 0h0m2 0h0m6 0h1m2 0h2m2 0h3m5 0h1m3 0h0m3 0h0m4 0h1m2 0h0m6 0h6m3 0h2m2 0h1m4 0h0m3 0h0m5 0h0m3 0h0m18 0h0m23 0h0m-130 1h0m27 0h0m2 0h1m6 0h0m3 0h2m2 0h0m3 0h4m2 0h7m6 0h0m2 0h1m2 0h2m3 0h0m9 0h1m2 0h0m3 0h1m4 0h0m5 0h0m2 0h0m4 0h1m-87 1h0m3 0h0m3 0h1m2 0h0m3 0h0m5 0h0m2 0h1m2 0h1m2 0h0m4 0h0m3 0h3m3 0h0m3 0h0m3 0h1m2 0h3m4 0h2m4 0h0m3 0h1m2 0h0m3 0h0m8 0h1m4 0h0m25 0h0m13 0h0m-131 1h0m11 0h0m3 0h0m6 0h0m2 0h0m2 0h1m4 0h0m9 0h0m3 0h0m10 0h1m3 0h3m2 0h0m2 0h0m4 0h3m4 0h1m2 0h0m2 0h0m5 0h0m6 0h0m4 0h0m5 0h0m3 0h0m13 0h0m14 0h0m-113 1h0m8 0h0m2 0h0m4 0h1m2 0h0m2 0h2m4 0h0m2 0h0m2 0h1m2 0h3m3 0h3m2 0h1m2 0h0m2 0h0m6 0h1m2 0h0m2 0h1m2 0h2m10 0h0m-137 1h0m49 0h0m6 0h0m2 0h1m6 0h0m12 0h0m3 0h0m4 0h1m2 0h1m2 0h2m2 0h0m2 0h2m2 0h0m2 0h0m2 0h3m2 0h0m2 0h1m2 0h0m3 0h2m4 0h0m4 0h0m3 0h0m3 0h0m11 0h0m8 0h0m7 0h0m16 0h0m9 0h0m-164 1h0m22 0h0m13 0h0m5 0h0m17 0h0m6 0h1m3 0h8m5 0h0m2 0h2m2 0h1m5 0h0m3 0h0m2 0h0m7 0h1m2 0h0m8 0h2m7 0h1m21 0h0m-113 1h0m5 0h0m6 0h1m3 0h2m11 0h4m2 0h1m3 0h0m2 0h0m9 0h0m2 0h0m2 0h3m7 0h2m2 0h2m6 0h0m3 0h1m4 0h1m4 0h0m12 0h0m-96 1h0m11 0h0m2 0h1m2 0h2m6 0h0m3 0h2m2 0h1m2 0h1m4 0h0m2 0h3m4 0h0m6 0h0m2 0h1m2 0h0m2 0h0m6 0h1m5 0h0m17 0h0m7 0h0m-109 1h1m14 0h0m9 0h1m2 0h1m4 0h0m3 0h0m3 0h1m5 0h0m2 0h0m4 0h0m6 0h0m3 0h0m4 0h2m4 0h0m5 0h0m6 0h0m2 0h0m14 0h0m3 0h0m22 0h0m-125 1h0m5 0h0m17 0h0m2 0h0m5 0h0m2 0h0m7 0h2m7 0h0m2 0h1m3 0h2m3 0h0m2 0h1m2 0h0m3 0h1m7 0h0m2 0h0m4 0h0m2 0h0m5 0h0m4 0h1m5 0h0m5 0h0m-95 1h0m14 0h0m5 0h0m14 0h0m4 0h0m4 0h3m2 0h2m4 0h0m2 0h0m2 0h0m2 0h0m3 0h0m7 0h0m4 0h0m4 0h3m8 0h0m2 0h1m10 0h0m7 0h0m-88 1h0m3 0h1m2 0h2m4 0h1m3 0h0m2 0h0m2 0h0m2 0h0m2 0h0m3 0h1m3 0h1m2 0h0m3 0h0m2 0h1m2 0h0m9 0h2m10 0h0m2 0h0m3 0h0m20 0h0m-104 1h1m7 0h0m4 0h0m9 0h1m8 0h0m4 0h0m4 0h1m3 0h2m4 0h2m2 0h0m2 0h2m5 0h1m2 0h2m4 0h1m2 0h0m4 0h0m42 0h0m-124 1h0m2 0h0m11 0h1m9 0h0m2 0h1m5 0h0m4 0h0m3 0h2m6 0h1m4 0h0m3 0h0m2 0h0m3 0h3m2 0h5m7 0h1m2 0h0m-90 1h0m28 0h0m8 0h0m5 0h1m2 0h0m4 0h0m5 0h1m6 0h0m2 0h0m2 0h0m3 0h0m5 0h0m3 0h0m6 0h1m10 0h1m3 0h0m3 0h0m9 0h0m25 0h0m-124 1h0m21 0h0m14 0h0m12 0h0m3 0h1m2 0h0m3 0h0m2 0h0m4 0h4m6 0h2m11 0h0m8 0h0m8 0h0m8 0h0m-95 1h0m3 0h0m2 0h0m7 0h0m7 0h0m3 0h0m7 0h2m6 0h1m3 0h1m2 0h0m2 0h1m4 0h0m2 0h0m2 0h0m5 0h0m2 0h0m3 0h0m9 0h0m-90 1h0m27 0h0m3 0h0m6 0h0m2 0h0m4 0h2m3 0h1m8 0h0m2 0h0m2 0h0m4 0h0m4 0h1m3 0h0m7 0h0m4 0h0m7 0h0m13 0h0m4 0h0m6 0h0m4 0h1m-107 1h0m19 0h2m9 0h0m2 0h1m14 0h0m6 0h0m3 0h0m7 0h0m3 0h0m2 0h1m5 0h0m6 0h0m10 0h0m-80 1h0m9 0h0m15 0h1m2 0h0m5 0h0m12 0h0m5 0h0m16 0h0m5 0h0m10 0h0m-81 1h0m10 0h0m4 0h0m4 0h0m3 0h1m6 0h0m4 0h0m2 0h0m2 0h0m2 0h0m2 0h0m4 0h0m6 0h0m10 0h0m3 0h0m3 0h0m2 0h0m5 0h0m-93 1h0m6 0h0m24 0h0m2 0h0m3 0h1m5 0h1m12 0h0m2 0h0m4 0h0m2 0h0m9 0h1m2 0h0m2 0h0m3 0h0m3 0h0m2 0h0m17 0h0m5 0h0m4 0h0m17 0h0m-141 1h0m23 0h0m7 0h0m14 0h0m11 0h0m2 0h0m2 0h0m7 0h0m16 0h0m2 0h0m-45 1h0m14 0h0m6 0h0m8 0h0m3 0h0m4 0h0m11 0h0m47 0h0m-111 1h0m18 0h0m39 0h0m4 0h0m3 0h0m19 0h0m18 0h0m3 0h0m-103 1h0m32 0h0m3 0h0m4 0h0m2 0h0m6 0h1m4 0h0m2 0h0m11 0h1m9 0h0m8 0h0m5 0h0m21 0h0m-102 1h0m27 0h1m16 0h0m2 0h1m2 0h0m4 0h0m10 0h0m3 0h0m38 0h0m-66 1h0m6 0h0m11 0h0m3 0h0m17 0h0m3 0h0m-91 1h0m23 0h0m3 0h0m5 0h0m16 0h1m6 0h0m4 0h1m11 0h0m16 0h0m-77 1h0m16 0h0m30 0h0m3 0h0m37 0h0m-76 1h0m20 0h0m9 0h0m18 0h0m24 0h0m-66 1h0m22 0h0m21 0h0m13 0h0m2 0h0m-38 1h0m3 0h0m10 0h0m22 1h0m-62 1h0m40 0h0m-40 3h0m50 0h0m38 0h0m-96 1h0m95 1h0m-86 1h0m-8 1h0m65 8h0"/></g></g><path d="M753.4 1692.6v-3.6M753.4 1541v3.6M799.1 1692.6v-3.6M799.1 1541v3.6M844.9 1692.6v-3.6M844.9 1541v3.6M890.6 1692.6v-3.6M890.6 1541v3.6M936.4 1692.6v-3.6M936.4 1541v3.6M707.8 1652.7h3.6M983 1652.7h-3.6M707.8 1612.8h3.6M983 1612.8h-3.6M707.8 1572.9h3.6M983 1572.9h-3.6" stroke="#1a1a1a" stroke-width="1.6" fill="none"/><rect x="707.8" y="1541" width="275.2" height="151.6" fill="none" stroke="#1a1a1a" stroke-width="2.0"/><path d="M753.4 1980v-3.6M753.4 1706v3.6M799.1 1980v-3.6M799.1 1706v3.6M844.9 1980v-3.6M844.9 1706v3.6M890.6 1980v-3.6M890.6 1706v3.6M936.4 1980v-3.6M936.4 1706v3.6M707.6 1934.3h3.6M982.1 1934.3h-3.6M707.6 1888.7h3.6M982.1 1888.7h-3.6M707.6 1843h3.6M982.1 1843h-3.6M707.6 1797.3h3.6M982.1 1797.3h-3.6M707.6 1751.7h3.6M982.1 1751.7h-3.6" stroke="#1a1a1a" stroke-width="1.6" fill="none"/><rect x="707.6" y="1706" width="274.5" height="274" fill="none" stroke="#1a1a1a" stroke-width="2.0"/><path d="M1046.3 1981.6v-3.6M1046.3 1711v3.6M1100.5 1981.6v-3.6M1100.5 1711v3.6M992.1 1936.5h3.6M1145 1936.5h-3.6M992.1 1891.4h3.6M1145 1891.4h-3.6M992.1 1846.3h3.6M1145 1846.3h-3.6M992.1 1801.2h3.6M1145 1801.2h-3.6M992.1 1756.1h3.6M1145 1756.1h-3.6" stroke="#1a1a1a" stroke-width="1.6" fill="none"/><rect x="992.1" y="1711" width="152.9" height="270.6" fill="none" stroke="#1a1a1a" stroke-width="2.0"/><g clip-path="url(#ec2a)"><polyline points="776.2,1692.6 785.4,1690.2 794.5,1682.2 803.7,1677.4 812.8,1638.3 822,1624.8 831.1,1562.5 840.3,1548.2 849.4,1562.5 858.6,1577.7 867.7,1617.6 876.9,1660.7 886,1675 895.2,1689.4 904.3,1692.6" fill="none" stroke="#000" stroke-width="1.9" stroke-linejoin="round"/><polyline points="776.2,1692.6 785.4,1692.6 794.5,1688.6 803.7,1680.6 812.8,1657.5 822,1635.9 831.1,1603.2 840.3,1565.7 849.4,1564.1 858.6,1554.6 867.7,1600 876.9,1639.1 886,1660.7 895.2,1677.4 904.3,1686.2 913.5,1691 922.6,1692.6" fill="none" stroke="#ff0000" stroke-width="1.9" stroke-linejoin="round"/><polyline points="757.9,1692.6 767.1,1689.4 776.2,1684.6 785.4,1679 794.5,1652.7 803.7,1651.9 812.8,1607.2 822,1591.3 831.1,1592.9 840.3,1596.9 849.4,1591.3 858.6,1617.6 867.7,1639.1 876.9,1659.1 886,1671.9 895.2,1682.2 904.3,1687.8 913.5,1690.2 922.6,1692.6" fill="none" stroke="#14b432" stroke-width="1.9" stroke-linejoin="round"/><polyline points="712.2,1692.6 721.3,1692.6 730.5,1692.6 739.6,1691.8 748.8,1691 757.9,1689.4 767.1,1687.8 776.2,1686.2 785.4,1684.6 794.5,1679 803.7,1651.9 812.8,1648.7 822,1628.8 831.1,1608.8 840.3,1603.2 849.4,1605.6 858.6,1608.8 867.7,1614.4 876.9,1624.8 886,1637.5 895.2,1659.1 904.3,1673.5 913.5,1679 922.6,1684.6 931.8,1688.6 940.9,1691.8 950.1,1692.6 959.2,1692.6 968.4,1692.6 977.5,1692.6" fill="none" stroke="#0a64f0" stroke-width="1.9" stroke-linejoin="round"/></g><g clip-path="url(#ec2c)"><polyline points="992.1,1708.7 992.1,1799.4 997.5,1806.6 1016,1817.4 1044.7,1822.8 1081,1831.9 1124.9,1840.9 1126.6,1843.6 1114.1,1850.8 1059.3,1860.7 1030.1,1869.8 1001.3,1877 993.7,1882.4 992.1,1889.1 992.1,1986.1" fill="none" stroke="#000" stroke-width="1.9" stroke-linejoin="round"/><polyline points="992.1,1708.7 992.1,1801.2 993.7,1807.5 1012.2,1819.2 1040.9,1826.5 1074,1835.5 1103.3,1842.7 1130.9,1850.8 1084.8,1857.1 1048.5,1866.1 1023,1873.4 1004.6,1880.6 993.7,1889.6 992.1,1895.9 992.1,1986.1" fill="none" stroke="#ff0000" stroke-width="1.9" stroke-linejoin="round"/><polyline points="992.6,1708.7 992.6,1846.3 992.6,1857.1 995.9,1878.8 1002.9,1889.6 1019.2,1902.2 1044.7,1920.3 1048.5,1923.9 1075.6,1932 1061.5,1940.1 1058.8,1950.9 1030.1,1958.1 1016,1967.2 1008.4,1981.6 1006.2,1986.1" fill="none" stroke="#14b432" stroke-width="1.9" stroke-linejoin="round"/><polyline points="992.1,1708.7 992.1,1882.4 997.5,1889.6 1008.4,1896.8 1030.1,1905.8 1059.3,1913 1099.5,1923 1102.2,1932 1081,1941.9 1059.3,1950.9 1023,1958.1 1004.6,1969 993.7,1979.8 992.1,1986.1" fill="none" stroke="#0a64f0" stroke-width="1.9" stroke-linejoin="round"/></g><text font-size="23.4" font-weight="bold" text-anchor="end" fill="#1c1c1c" transform="translate(700.4 1701.4)">0</text><text font-size="23.4" font-weight="bold" text-anchor="end" fill="#1c1c1c" transform="translate(700.4 1661.5)">50</text><text font-size="23.4" font-weight="bold" text-anchor="end" fill="#1c1c1c" transform="translate(700.4 1621.6)">100</text><text font-size="23.4" font-weight="bold" text-anchor="end" fill="#1c1c1c" transform="translate(700.4 1581.7)">150</text><text font-size="24.6" font-weight="bold" text-anchor="end" fill="#1c1c1c" transform="translate(700.8 1943.1)">180</text><text font-size="24.6" font-weight="bold" text-anchor="end" fill="#1c1c1c" transform="translate(700.8 1851.8)">200</text><text font-size="24.6" font-weight="bold" text-anchor="end" fill="#1c1c1c" transform="translate(700.8 1760.5)">220</text><text font-size="24.6" font-weight="bold" text-anchor="middle" fill="#1c1c1c" transform="translate(753.4 2009.5)">3080</text><text font-size="24.6" font-weight="bold" text-anchor="middle" fill="#1c1c1c" transform="translate(844.9 2009.5)">3100</text><text font-size="24.6" font-weight="bold" text-anchor="middle" fill="#1c1c1c" transform="translate(936.4 2009.5)">3120</text><text font-size="24.6" font-weight="bold" text-anchor="end" fill="#1c1c1c" transform="translate(983.6 1704.1) rotate(90)">0</text><text font-size="24.6" font-weight="bold" text-anchor="end" fill="#1c1c1c" transform="translate(1037.8 1704.1) rotate(90)">100</text><text font-size="24.6" font-weight="bold" text-anchor="end" fill="#1c1c1c" transform="translate(1092 1704.1) rotate(90)">200</text><text font-size="27" font-weight="bold" text-anchor="middle" fill="#1c1c1c" transform="translate(844.9 2039.6) scale(1 1.05)">X (nm)</text><text font-size="26.6" font-weight="bold" text-anchor="middle" fill="#1c1c1c" transform="translate(652 1617) rotate(-90)">Localizations</text><text font-size="27.4" font-weight="bold" text-anchor="middle" fill="#1c1c1c" transform="translate(650.5 1842) rotate(-90)">Emitter Size (nm)</text><text font-size="26" font-weight="bold" text-anchor="middle" fill="#1c1c1c" transform="translate(1069 1657.5) scale(1 1.05)">Localizations</text><text font-size="39" font-weight="bold" transform="translate(571.5 1559) scale(1 1.05)">e2</text><rect x="1271.3" y="1549" width="269.7" height="147.8" fill="#fff"/><path d="M1299.2 1549V1696.8M1353.1 1549V1696.8M1407.1 1549V1696.8M1461.1 1549V1696.8M1515 1549V1696.8M1271.3 1640.1H1541M1271.3 1583.4H1541" stroke="#cdcdcd" stroke-width="1.4" fill="none"/><rect x="1272.2" y="1709.8" width="269.8" height="270.2" fill="#fff"/><path d="M1299.2 1709.8V1980M1353.1 1709.8V1980M1407.1 1709.8V1980M1461.1 1709.8V1980M1515 1709.8V1980M1272.2 1953H1542M1272.2 1898.9H1542M1272.2 1844.9H1542M1272.2 1790.9H1542M1272.2 1736.8H1542" stroke="#cdcdcd" stroke-width="1.4" fill="none"/><rect x="1552.6" y="1711" width="149.4" height="265" fill="#fff"/><path d="M1598.7 1711V1976M1644.8 1711V1976M1690.9 1711V1976M1552.6 1949.5H1702M1552.6 1896.5H1702M1552.6 1843.5H1702M1552.6 1790.5H1702M1552.6 1737.5H1702" stroke="#cdcdcd" stroke-width="1.4" fill="none"/><clipPath id="ec3a"><rect x="1271.3" y="1549" width="269.7" height="149.3"/></clipPath><clipPath id="ec3b"><rect x="1272.2" y="1709.8" width="269.8" height="270.2"/></clipPath><clipPath id="ec3c"><rect x="1551.1" y="1711" width="150.9" height="265"/></clipPath><g clip-path="url(#ec3b)"><g transform="translate(0.62 0.62) scale(1.25)" fill="none" stroke-width="1.52" stroke-linecap="round"><path stroke="#ff0000" d="M1129 1421h0m-2 1h0m-30 5h0m38 6h0m5 2h0m5 0h0m-38 1h0m7 0h0m9 1h0m5 0h0m-26 1h0m-9 2h0m44 0h0m-47 1h0m7 1h0m15 0h0m15 1h0m-2 1h0m9 0h0m12 0h0m-23 1h0m2 0h0m-33 1h0m32 0h0m8 0h0m2 0h0m15 0h0m-26 1h0m5 0h0m6 0h0m-49 1h0m29 0h0m12 0h1m11 0h0m26 0h0m-85 1h0m22 0h0m13 0h0m15 0h0m4 0h1m2 0h0m-23 1h0m39 0h0m-56 1h0m20 0h0m18 0h0m3 0h0m-58 1h0m14 0h0m4 0h0m2 0h0m9 0h0m4 0h0m3 0h0m7 0h0m5 0h1m4 0h0m9 0h1m2 0h0m-43 1h0m9 0h1m3 0h2m3 0h0m5 0h0m5 0h0m7 0h0m10 0h0m-59 1h0m13 0h0m9 0h0m5 0h0m14 0h0m7 0h0m7 0h0m7 0h0m5 0h0m-57 1h0m10 0h0m9 0h1m13 0h0m7 0h0m-52 1h0m17 0h0m3 0h0m17 0h0m16 0h0m-68 1h0m31 0h0m5 0h0m3 0h0m8 0h0m3 0h1m3 0h0m10 0h0m8 0h0m14 0h0m4 0h0m-65 1h0m9 0h2m4 0h0m4 0h0m5 0h0m6 0h0m5 0h0m6 0h0m6 0h0m3 0h0m5 0h0m-47 1h0m4 0h0m4 0h0m3 0h1m2 0h0m3 0h0m6 0h0m6 0h0m5 0h1m12 0h0m12 0h0m-54 1h0m4 0h0m2 0h0m2 0h0m2 0h1m14 0h0m3 0h0m-36 1h0m2 0h3m5 0h2m4 0h0m15 0h0m-44 1h0m7 0h0m4 0h0m3 0h3m3 0h0m3 0h0m4 0h0m12 0h0m3 0h0m3 0h0m5 0h0m3 0h0m4 0h0m2 0h0m11 0h0m-83 1h0m19 0h0m7 0h0m10 0h0m6 0h2m2 0h0m4 0h1m3 0h0m5 0h0m2 0h0m11 0h0m9 0h0m-83 1h0m15 0h0m3 0h1m4 0h0m12 0h0m4 0h0m6 0h0m4 0h0m4 0h2m2 0h0m2 0h0m2 0h2m3 0h0m2 0h1m2 0h1m-51 1h0m10 0h0m4 0h0m11 0h1m2 0h0m4 0h0m2 0h0m4 0h1m2 0h0m3 0h1m4 0h0m10 0h0m2 0h0m3 0h0m8 0h0m-86 1h0m15 0h0m6 0h0m9 0h1m2 0h1m3 0h0m5 0h0m11 0h2m2 0h0m3 0h1m9 0h0m-53 1h0m4 0h0m2 0h0m4 0h1m4 0h1m4 0h0m3 0h0m2 0h0m2 0h1m5 0h3m5 0h0m3 0h0m21 0h0m-98 1h0m39 0h0m2 0h1m7 0h0m3 0h1m9 0h0m5 0h0m6 0h0m4 0h0m2 0h0m5 0h0m10 0h1m-70 1h0m12 0h0m2 0h0m4 0h0m4 0h0m2 0h0m5 0h0m7 0h0m2 0h0m8 0h1m3 0h0m10 0h1m10 0h0m10 0h0m4 0h0m-94 1h0m15 0h2m16 0h0m3 0h0m2 0h1m8 0h2m4 0h0m2 0h0m3 0h0m21 0h0m4 0h0m-79 1h0m11 0h1m2 0h0m2 0h0m2 0h0m8 0h1m2 0h0m2 0h2m2 0h0m3 0h1m2 0h0m2 0h1m19 0h2m6 0h0m-78 1h0m17 0h0m7 0h0m6 0h0m3 0h0m2 0h0m2 0h0m5 0h0m2 0h1m2 0h0m5 0h2m2 0h0m2 0h3m3 0h0m2 0h0m-58 1h0m15 0h2m2 0h0m2 0h0m6 0h0m3 0h1m3 0h1m3 0h1m4 0h1m2 0h2m2 0h2m3 0h0m5 0h0m4 0h0m3 0h0m6 0h0m-72 1h0m2 0h1m2 0h3m4 0h1m5 0h0m5 0h0m3 0h0m2 0h0m4 0h0m2 0h0m5 0h2m2 0h2m3 0h0m2 0h0m3 0h1m19 0h0m-63 1h0m2 0h0m2 0h0m4 0h0m8 0h1m4 0h6m2 0h0m5 0h0m5 0h0m3 0h0m9 0h0m2 0h0m3 0h0m3 0h0m6 0h0m-90 1h0m27 0h0m4 0h1m4 0h0m2 0h0m4 0h0m2 0h0m4 0h0m2 0h0m4 0h1m2 0h0m2 0h0m2 0h0m2 0h0m2 0h1m3 0h0m2 0h0m7 0h0m6 0h0m18 0h0m-89 1h0m2 0h1m4 0h0m7 0h1m6 0h0m4 0h0m2 0h2m2 0h0m3 0h1m5 0h0m2 0h1m2 0h3m2 0h0m4 0h0m4 0h0m2 0h0m10 0h0m6 0h0m4 0h0m-77 1h0m11 0h0m6 0h0m5 0h0m2 0h1m8 0h2m2 0h2m2 0h0m2 0h5m2 0h0m6 0h0m7 0h1m16 0h0m-83 1h0m4 0h0m11 0h1m2 0h1m5 0h0m10 0h0m3 0h1m3 0h2m2 0h1m6 0h1m3 0h2m4 0h0m2 0h0m2 0h1m3 0h0m18 0h0m-101 1h0m27 0h0m2 0h0m2 0h0m2 0h0m3 0h0m2 0h1m3 0h1m2 0h0m3 0h1m3 0h0m3 0h0m2 0h0m3 0h2m2 0h1m8 0h0m8 0h0m5 0h0m6 0h0m-79 1h0m2 0h0m12 0h0m4 0h1m2 0h0m3 0h2m2 0h0m3 0h5m3 0h0m2 0h0m2 0h0m2 0h1m3 0h0m2 0h0m2 0h0m2 0h1m13 0h0m4 0h0m6 0h1m-75 1h0m3 0h0m4 0h1m4 0h0m4 0h0m2 0h1m2 0h2m2 0h2m2 0h2m2 0h0m2 0h0m2 0h1m2 0h0m7 0h5m2 0h0m4 0h0m3 0h1m3 0h1m2 0h0m-61 1h0m2 0h1m2 0h0m8 0h0m2 0h0m2 0h0m5 0h1m3 0h0m3 0h1m2 0h2m7 0h1m4 0h0m5 0h1m-56 1h0m2 0h0m12 0h1m2 0h0m3 0h1m2 0h0m2 0h1m5 0h1m3 0h1m2 0h0m2 0h1m2 0h1m3 0h1m3 0h0m4 0h1m-66 1h0m15 0h0m5 0h0m5 0h1m2 0h5m2 0h0m6 0h0m2 0h1m2 0h0m2 0h2m3 0h0m2 0h1m3 0h2m5 0h0m3 0h0m3 0h0m5 0h1m-76 1h0m3 0h0m3 0h0m7 0h0m2 0h0m3 0h0m2 0h0m2 0h0m3 0h1m3 0h2m3 0h0m2 0h3m2 0h8m6 0h1m6 0h0m5 0h0m-62 1h0m6 0h0m7 0h0m3 0h3m4 0h1m3 0h0m2 0h3m2 0h2m4 0h0m2 0h2m2 0h0m2 0h0m2 0h0m2 0h1m7 0h0m4 0h0m5 0h0m-73 1h0m8 0h0m3 0h1m3 0h0m3 0h0m5 0h1m5 0h0m2 0h0m3 0h3m2 0h0m2 0h0m3 0h0m2 0h0m2 0h1m5 0h0m2 0h1m2 0h0m4 0h0m-64 1h0m8 0h0m9 0h1m3 0h0m2 0h0m3 0h9m2 0h1m3 0h6m6 0h0m2 0h0m2 0h1m3 0h1m14 0h0m5 0h0m-69 1h0m6 0h0m3 0h0m3 0h3m2 0h1m2 0h0m2 0h3m2 0h0m3 0h1m3 0h0m4 0h0m3 0h1m2 0h0m7 0h0m3 0h0m2 0h1m-60 1h0m3 0h0m2 0h0m2 0h2m3 0h0m4 0h0m2 0h0m2 0h1m2 0h1m2 0h0m4 0h0m7 0h1m3 0h1m2 0h0m5 0h0m2 0h0m2 0h0m7 0h0m-60 1h0m4 0h0m3 0h0m10 0h3m3 0h0m2 0h0m2 0h0m5 0h0m2 0h0m2 0h2m2 0h0m3 0h1m10 0h1m12 0h0m4 0h0m-79 1h0m2 0h0m11 0h0m4 0h0m8 0h0m2 0h1m2 0h0m2 0h3m2 0h1m2 0h0m3 0h3m8 0h0m6 0h0m3 0h0m4 0h0m9 0h1m-68 1h1m2 0h0m3 0h0m3 0h0m2 0h1m2 0h0m7 0h0m2 0h0m5 0h3m2 0h2m2 0h0m2 0h0m5 0h0m3 0h0m3 0h1m3 0h0m5 0h0m3 0h0m2 0h0m-76 1h0m8 0h0m9 0h0m2 0h0m2 0h0m3 0h0m2 0h1m2 0h0m2 0h0m5 0h0m2 0h0m2 0h0m3 0h0m3 0h0m2 0h0m7 0h0m5 0h0m6 0h0m11 0h0m-63 1h1m5 0h0m4 0h2m4 0h0m3 0h0m5 0h0m2 0h0m3 0h0m4 0h1m3 0h1m2 0h0m4 0h0m-39 1h0m10 0h0m2 0h0m4 0h1m2 0h0m2 0h0m3 0h1m2 0h0m2 0h1m2 0h0m2 0h1m2 0h2m10 0h0m2 0h0m2 0h0m3 0h1m-71 1h0m13 0h2m6 0h1m5 0h1m6 0h0m3 0h1m2 0h2m2 0h1m9 0h0m7 0h0m6 0h0m4 0h0m6 0h0m-83 1h0m19 0h0m3 0h0m7 0h0m2 0h0m4 0h0m2 0h0m9 0h1m2 0h1m3 0h2m3 0h0m2 0h0m4 0h0m2 0h0m5 0h1m-57 1h0m6 0h0m4 0h0m6 0h0m5 0h0m2 0h0m2 0h1m3 0h0m3 0h1m2 0h3m5 0h1m14 0h0m10 0h0m-71 1h1m4 0h0m12 0h0m5 0h1m3 0h0m2 0h0m2 0h0m2 0h0m9 0h0m3 0h0m6 0h0m2 0h0m19 0h0m-67 1h0m13 0h0m2 0h0m2 0h1m5 0h1m4 0h0m4 0h0m2 0h0m3 0h1m6 0h2m7 0h0m20 0h0m-77 1h0m16 0h2m2 0h0m2 0h0m3 0h3m2 0h1m5 0h1m2 0h0m5 0h0m4 0h1m-63 1h0m6 0h0m16 0h0m4 0h0m4 0h0m3 0h0m2 0h0m7 0h2m5 0h0m4 0h0m-30 1h1m7 0h0m2 0h0m2 0h2m2 0h0m10 0h0m4 0h1m2 0h0m3 0h0m4 0h0m17 0h0m-71 1h0m10 0h0m2 0h1m3 0h0m9 0h1m2 0h1m5 0h1m7 0h0m8 0h0m21 0h0m-55 1h0m14 0h0m8 0h0m6 0h0m6 0h0m-59 1h0m18 0h0m2 0h1m4 0h0m4 0h0m6 0h0m13 0h0m6 0h1m2 0h0m7 0h0m-51 1h0m5 0h0m3 0h0m5 0h0m6 0h0m12 0h0m26 0h0m-57 1h0m19 0h1m2 0h1m19 0h0m5 0h0m11 0h0m-32 1h0m5 0h0m4 0h0m6 0h0m3 0h0m11 0h1m8 0h0m-42 1h0m12 0h2m4 0h0m4 0h0m11 0h0m5 0h0m-43 1h0m4 0h0m4 0h0m0 1h0m4 0h1m12 0h1m4 0h0m44 0h0m-60 1h0m3 0h0m22 0h0m2 0h0m-41 1h0m9 0h1m23 0h0m-49 1h0m-7 1h0m42 0h0m15 0h0m-38 1h0m3 0h1m9 0h0m36 0h0m-38 1h0m5 0h0m-16 2h0m18 1h0m3 0h0m4 0h0m43 0h0m-55 1h0m5 0h0m6 0h0m-33 1h0m22 0h0m16 0h0m-15 1h0m-17 1h0m12 1h0m20 0h0m-51 1h0"/><path stroke="#000" d="M1109 1422h0m-9 5h0m12 2h1m28 0h0m-23 1h0m-28 1h0m3 0h0m44 1h0m5 0h0m-32 2h0m12 0h0m4 0h0m-20 1h0m11 0h0m6 0h0m2 0h0m2 0h0m14 0h0m11 0h0m-49 1h1m9 0h0m7 0h0m2 0h0m3 0h0m5 0h0m2 0h0m3 0h0m19 0h0m-78 1h0m19 0h0m7 0h0m3 0h0m13 0h0m2 0h0m23 0h0m-39 1h0m8 0h0m10 0h0m6 0h1m2 0h0m2 0h0m4 0h0m6 0h0m8 0h0m-41 1h0m6 0h0m4 0h0m16 0h0m-34 1h0m8 0h0m6 0h0m4 0h0m10 0h0m5 0h0m5 0h0m3 0h0m19 0h0m-71 1h0m7 0h0m10 0h0m4 0h0m2 0h0m3 0h0m7 0h0m4 0h0m4 0h0m9 0h0m25 0h0m-55 1h0m5 0h0m3 0h0m5 0h0m16 0h0m12 0h0m-56 1h0m2 0h0m2 0h0m2 0h0m2 0h0m3 0h0m7 0h0m6 0h0m8 0h0m5 0h0m7 0h0m2 0h0m4 0h0m-44 1h0m2 0h0m3 0h1m5 0h1m8 0h0m2 0h0m2 0h0m2 0h3m4 0h0m12 0h0m-83 1h0m29 0h0m2 0h0m2 0h2m5 0h1m4 0h0m13 0h0m2 0h0m9 0h1m5 0h0m17 0h0m-70 1h0m7 0h0m5 0h0m2 0h0m6 0h1m5 0h2m2 0h0m7 0h0m2 0h0m2 0h1m3 0h0m5 0h1m-35 1h0m2 0h0m3 0h0m2 0h0m2 0h0m2 0h1m2 0h0m2 0h1m2 0h0m3 0h1m2 0h0m2 0h2m2 0h0m5 0h0m5 0h2m2 0h1m-66 1h0m4 0h1m3 0h0m4 0h0m2 0h0m7 0h1m5 0h0m3 0h1m2 0h1m3 0h2m2 0h0m2 0h0m3 0h0m11 0h0m5 0h1m25 0h0m-65 1h0m6 0h0m4 0h1m2 0h2m4 0h1m2 0h0m3 0h1m8 0h0m3 0h0m2 0h0m4 0h0m-56 1h0m8 0h2m4 0h1m3 0h1m3 0h5m2 0h0m3 0h1m5 0h3m2 0h0m3 0h0m3 0h0m2 0h0m-63 1h0m8 0h1m4 0h2m2 0h0m2 0h0m2 0h0m5 0h0m4 0h0m2 0h0m2 0h1m2 0h0m2 0h0m3 0h2m5 0h0m3 0h0m3 0h1m5 0h1m5 0h0m8 0h0m4 0h0m-85 1h0m26 0h0m2 0h2m5 0h1m4 0h0m3 0h0m2 0h0m2 0h0m2 0h3m7 0h0m2 0h0m3 0h1m4 0h0m2 0h1m3 0h0m3 0h1m-66 1h0m10 0h1m5 0h4m5 0h1m4 0h1m2 0h1m2 0h0m3 0h0m2 0h0m3 0h0m2 0h2m2 0h0m3 0h0m2 0h0m8 0h0m2 0h0m3 0h0m-71 1h0m15 0h0m2 0h3m2 0h1m5 0h1m2 0h0m2 0h3m2 0h1m2 0h0m4 0h0m2 0h0m3 0h0m2 0h2m3 0h0m33 0h0m7 0h0m-103 1h0m11 0h0m6 0h0m4 0h1m3 0h0m3 0h0m3 0h0m2 0h2m5 0h1m2 0h8m3 0h2m2 0h0m2 0h1m14 0h0m-80 1h0m18 0h0m4 0h0m2 0h0m2 0h0m7 0h3m2 0h0m2 0h0m3 0h2m2 0h0m3 0h3m2 0h2m2 0h4m5 0h0m3 0h0m6 0h1m-64 1h0m3 0h0m3 0h1m3 0h0m2 0h0m3 0h0m3 0h0m3 0h0m2 0h0m2 0h4m6 0h0m4 0h5m6 0h0m2 0h1m3 0h0m5 0h1m4 0h0m-73 1h0m8 0h0m8 0h1m2 0h2m8 0h0m3 0h1m2 0h3m4 0h2m3 0h2m2 0h4m3 0h2m8 0h1m7 0h0m9 0h0m5 0h0m-87 1h0m4 0h0m2 0h0m9 0h0m4 0h0m2 0h1m3 0h1m4 0h0m3 0h0m2 0h1m2 0h4m2 0h4m2 0h0m2 0h1m3 0h0m7 0h1m9 0h0m-83 1h0m10 0h1m8 0h2m4 0h0m2 0h0m3 0h2m2 0h0m2 0h1m3 0h0m2 0h0m2 0h0m4 0h5m2 0h4m2 0h0m3 0h2m2 0h2m3 0h1m7 0h0m5 0h0m-72 1h1m9 0h1m3 0h0m5 0h2m6 0h1m2 0h4m2 0h1m2 0h1m2 0h0m3 0h1m4 0h2m13 0h0m2 0h0m3 0h0m4 0h0m8 0h0m3 0h0m-88 1h1m5 0h0m3 0h0m3 0h0m3 0h1m5 0h1m5 0h2m2 0h1m2 0h0m2 0h5m2 0h0m4 0h0m2 0h0m3 0h0m2 0h0m3 0h0m6 0h1m2 0h0m8 0h0m4 0h0m-81 1h0m7 0h0m4 0h0m5 0h0m4 0h2m2 0h1m5 0h2m2 0h0m4 0h0m2 0h0m2 0h0m3 0h1m2 0h3m2 0h0m2 0h2m2 0h0m2 0h0m2 0h0m4 0h0m3 0h0m3 0h0m-89 1h0m20 0h0m12 0h0m2 0h1m2 0h0m4 0h0m2 0h0m2 0h0m2 0h1m2 0h1m2 0h2m2 0h2m4 0h0m2 0h0m9 0h0m3 0h0m4 0h0m5 0h0m3 0h1m4 0h0m9 0h0m6 0h0m-101 1h0m23 0h6m2 0h2m2 0h2m3 0h0m3 0h1m3 0h0m2 0h1m3 0h0m2 0h0m2 0h0m9 0h2m2 0h0m3 0h1m4 0h0m-58 1h0m3 0h0m2 0h1m2 0h1m2 0h0m2 0h1m7 0h1m2 0h3m2 0h3m2 0h1m3 0h0m4 0h0m2 0h0m4 0h0m3 0h0m3 0h1m10 0h0m-84 1h0m11 0h1m5 0h0m2 0h0m4 0h0m6 0h0m2 0h0m8 0h0m2 0h0m2 0h1m2 0h0m2 0h0m3 0h0m2 0h1m5 0h0m3 0h0m2 0h0m5 0h0m3 0h0m-70 1h0m14 0h0m8 0h2m7 0h0m4 0h0m2 0h1m3 0h0m2 0h4m3 0h3m2 0h0m3 0h1m2 0h2m-57 1h0m3 0h0m5 0h2m4 0h0m3 0h0m4 0h0m2 0h0m3 0h1m5 0h0m4 0h1m2 0h2m2 0h0m2 0h1m3 0h0m2 0h0m3 0h1m2 0h0m4 0h0m2 0h0m2 0h0m-56 1h0m6 0h0m3 0h0m2 0h1m2 0h2m4 0h0m2 0h1m2 0h0m3 0h4m2 0h0m4 0h0m2 0h0m2 0h0m3 0h0m2 0h2m4 0h0m4 0h0m5 0h1m-68 1h0m2 0h0m2 0h1m12 0h0m2 0h1m2 0h0m5 0h0m6 0h0m4 0h0m5 0h0m2 0h1m2 0h2m2 0h2m3 0h1m10 0h0m5 0h0m8 0h0m-86 1h0m15 0h1m5 0h0m4 0h0m7 0h0m3 0h0m4 0h0m3 0h0m2 0h0m2 0h1m4 0h0m8 0h0m2 0h0m2 0h0m3 0h0m2 0h0m7 0h0m3 0h0m3 0h0m-66 1h0m2 0h0m7 0h0m3 0h0m3 0h0m2 0h1m3 0h0m4 0h1m3 0h0m2 0h0m11 0h0m5 0h1m4 0h0m13 0h0m-81 1h0m22 0h0m11 0h0m2 0h0m2 0h0m4 0h3m4 0h0m4 0h0m6 0h0m3 0h2m4 0h0m7 0h0m-80 1h0m16 0h0m3 0h0m10 0h0m7 0h1m5 0h0m8 0h0m4 0h1m2 0h0m2 0h1m2 0h0m3 0h2m2 0h1m4 0h0m12 0h0m-77 1h0m9 0h0m3 0h0m9 0h0m4 0h0m2 0h0m4 0h0m8 0h0m5 0h0m2 0h0m2 0h0m4 0h0m8 0h0m2 0h0m11 0h0m-66 1h0m10 0h2m5 0h1m6 0h0m6 0h0m2 0h1m2 0h0m3 0h0m7 0h0m2 0h0m36 0h0m-70 1h0m2 0h1m7 0h6m8 0h0m9 0h0m8 0h0m2 0h0m2 0h0m5 0h0m2 0h0m-51 1h1m2 0h0m4 0h1m2 0h1m8 0h0m5 0h0m4 0h2m5 0h0m5 0h1m-69 1h0m29 0h0m10 0h0m3 0h0m3 0h1m2 0h0m5 0h0m5 0h0m8 0h0m43 0h0m-98 1h0m34 0h1m6 0h0m6 0h0m9 0h0m5 0h0m-50 1h0m23 0h0m24 0h0m23 0h0m-61 1h1m6 0h0m6 0h0m15 0h0m19 0h0m-73 1h0m21 0h0m8 0h1m5 0h0m10 0h0m3 0h0m8 0h0m5 0h0m17 0h0m-81 1h0m15 0h0m7 0h0m16 0h0m17 0h0m7 0h0m-24 1h0m41 0h0m-70 1h0m23 0h0m4 0h0m12 0h0m8 0h0m6 0h0m14 0h0m-47 1h0m6 0h0m12 0h0m28 0h0m-45 1h0m26 0h1m5 0h0m3 0h0m13 0h0m-69 1h0m35 0h0m-10 1h0m3 0h0m3 0h0m18 0h0m-4 1h0m-21 1h0m13 0h0m-5 1h0m20 0h0m-25 1h0m9 0h0m15 0h0m-58 2h0m73 4h0m23 4h0m-63 2h0"/><path stroke="#00ee00" d="M1059 1400h0m25 10h0m83 8h0m-44 1h0m-74 2h0m7 0h0m67 3h0m-73 6h0m-39 6h0m64 2h0m79 2h0m30 2h0m-108 1h0m21 0h0m-18 3h0m80 3h0m-58 3h0m-15 5h0m78 2h0m7 0h0m-109 1h0m-35 2h0m29 0h0m-34 2h0m25 1h0m37 0h0m11 0h0m29 0h0m-47 2h0m68 0h0m25 1h0m-66 1h0m-67 1h0m67 0h0m31 0h0m1 1h0m-53 1h0m-39 1h0m33 0h0m48 0h0m68 0h0m-78 1h0m29 0h0m-105 2h0m20 0h0m63 0h0m27 0h0m13 0h0m4 0h0m16 0h0m-125 1h0m48 0h0m33 0h0m-72 1h0m56 0h0m-7 1h0m36 0h0m-41 1h0m37 0h0m-97 1h0m34 0h0m22 0h0m43 0h0m-50 1h0m33 0h0m0 1h0m-64 2h0m12 0h0m-38 1h0m50 0h0m41 0h0m18 0h0m-146 1h0m-15 1h0m7 0h0m100 1h0m153 0h0m-217 1h0m70 0h0m44 0h0m-26 1h0m30 0h0m-90 1h0m32 0h0m90 0h0m-107 1h0m15 0h0m2 0h0m32 0h0m14 0h0m49 0h0m-49 1h0m14 0h0m-150 1h0m93 0h0m7 0h0m13 0h0m9 0h0m3 0h0m57 0h0m30 1h0m-151 1h0m4 0h0m13 0h0m21 0h0m38 0h0m49 0h0m15 0h0m2 0h0m-72 1h0m-61 1h0m89 0h0m39 0h0m-165 2h1m31 0h0m44 0h0m75 0h0m7 0h0m-76 1h0m8 0h0m-83 1h0m29 0h0m87 0h0m-57 1h0m22 0h0m10 0h0m15 0h0m-53 1h0m4 0h0m28 0h0m27 0h0m-134 1h0m77 0h0m27 0h0m21 0h0m4 0h0m10 0h0m29 0h0m-83 1h0m88 0h0m-170 1h0m37 0h0m40 0h0m43 0h0m-33 1h0m6 0h0m8 0h0m-52 1h0m28 0h0m5 0h0m23 0h0m-44 1h0m20 0h0m13 0h0m5 0h0m22 0h0m24 0h0m5 0h0m-103 1h0m41 0h0m-108 1h0m31 0h0m95 0h0m48 0h0m-137 1h0m51 0h0m11 0h0m38 0h0m20 0h0m4 0h0m-110 1h0m44 0h0m17 0h0m15 0h0m8 0h0m9 0h0m3 0h0m12 0h0m-66 1h0m9 0h0m25 0h1m34 0h0m-124 1h0m44 0h0m2 0h0m10 0h0m20 0h0m33 0h0m52 0h0m-121 1h0m2 0h0m8 0h0m4 0h0m33 0h0m21 0h0m-73 1h0m35 0h0m22 0h0m4 0h0m3 0h0m-97 1h0m45 0h0m30 0h0m11 0h0m4 0h0m6 0h0m-66 1h0m27 0h1m5 0h1m13 0h0m5 0h0m11 0h0m38 0h0m29 0h0m-143 1h0m49 0h1m10 0h0m37 0h0m13 0h0m-66 1h0m4 0h0m18 0h0m13 0h0m4 0h0m40 0h0m-112 1h0m27 0h0m24 0h0m19 0h0m12 0h0m49 0h0m50 0h0m-173 1h0m14 0h0m56 0h0m36 0h0m-102 1h0m31 0h0m20 0h0m4 0h0m84 0h0m-239 1h0m104 0h0m16 0h0m42 0h0m5 0h0m6 0h0m-66 1h0m6 0h0m33 0h0m20 0h0m3 0h0m25 0h0m-101 1h0m20 0h0m53 0h0m-103 1h0m23 0h1m8 0h0m16 0h0m15 0h0m7 0h0m11 0h0m7 0h0m11 0h0m4 0h0m2 0h0m12 0h0m2 0h1m-91 1h0m24 0h0m13 0h0m16 0h0m5 0h1m9 0h0m30 0h0m38 0h0m-121 1h0m12 0h0m3 0h0m24 0h0m11 0h0m4 0h0m3 0h0m5 0h0m75 0h0m-122 1h1m10 0h0m2 0h0m4 0h0m5 0h0m12 0h0m3 0h0m11 0h0m3 0h1m5 0h0m12 0h0m19 0h0m-115 1h0m3 0h0m28 0h0m3 0h0m7 0h0m10 0h0m5 0h0m10 0h0m3 0h0m7 0h1m10 0h0m23 0h0m-111 1h0m4 0h0m23 0h0m3 0h0m10 0h0m18 0h0m29 0h2m2 0h0m-160 1h0m13 0h0m27 0h0m15 0h0m4 0h0m38 0h0m22 0h0m8 0h0m2 0h0m3 0h2m4 0h0m-90 1h0m23 0h0m12 0h0m12 0h0m6 0h0m6 0h0m15 0h0m2 0h0m9 0h0m2 0h0m6 0h0m24 0h0m38 0h1m8 0h0m-207 1h0m39 0h0m9 0h0m4 0h0m14 0h0m3 0h0m8 0h0m2 0h0m15 0h0m10 0h0m24 0h1m5 0h0m3 0h0m6 0h1m17 0h0m2 0h0m20 0h0m24 0h0m-165 1h0m6 0h0m5 0h0m29 0h0m8 0h0m3 0h0m11 0h0m3 0h0m10 0h0m5 0h0m3 0h0m6 0h0m28 0h1m41 0h0m-145 1h0m10 0h0m4 0h0m3 0h0m4 0h1m9 0h0m6 0h0m4 0h0m5 0h0m13 0h0m7 0h0m3 0h0m2 0h0m2 0h0m4 0h1m5 0h0m3 0h0m14 0h0m52 0h0m-155 1h0m21 0h0m3 0h0m10 0h1m5 0h0m21 0h0m8 0h0m6 0h0m16 0h1m6 0h0m15 0h0m-152 1h0m7 0h0m31 0h0m13 0h0m2 0h0m14 0h0m2 0h0m4 0h0m9 0h0m8 0h0m2 0h0m4 0h0m9 0h0m31 0h0m35 0h0m67 0h0m-248 1h0m47 0h0m28 0h1m4 0h0m6 0h0m14 0h0m8 0h0m2 0h0m7 0h0m7 0h0m5 0h0m3 0h0m8 0h0m23 0h0m68 0h0m-179 1h0m8 0h0m30 0h1m5 0h0m2 0h0m3 0h0m10 0h0m8 0h0m2 0h0m11 0h0m4 0h0m18 0h0m-100 1h0m5 0h0m3 0h1m6 0h0m3 0h1m4 0h0m25 0h0m12 0h1m2 0h0m2 0h0m2 0h0m15 0h0m11 0h0m33 0h0m-162 1h0m45 0h0m3 0h0m4 0h0m18 0h0m9 0h0m4 0h0m4 0h0m8 0h0m6 0h0m16 0h0m17 0h0m-150 1h0m64 0h0m11 0h0m2 0h1m5 0h0m2 0h0m3 0h1m5 0h0m4 0h1m3 0h0m30 0h0m8 0h0m10 0h0m8 0h0m-136 1h0m19 0h0m12 0h0m6 0h0m24 0h0m8 0h0m4 0h0m9 0h0m8 0h0m8 0h0m10 0h0m19 0h0m13 0h0m-137 1h0m3 0h0m12 0h0m3 0h0m6 0h0m13 0h0m15 0h0m3 0h0m6 0h1m19 0h0m5 0h0m12 0h0m6 0h0m9 0h0m13 0h0m38 0h0m3 0h0m-152 1h0m2 0h0m31 0h0m9 0h0m5 0h2m16 0h0m2 0h0m32 0h0m6 0h0m26 0h0m3 0h0m20 0h0m-163 1h0m14 0h0m11 0h0m2 0h0m2 0h0m7 0h1m8 0h0m17 0h0m5 0h0m9 0h0m7 0h0m2 0h0m2 0h0m4 0h0m15 0h0m18 0h0m5 0h0m-107 1h0m2 0h0m6 0h0m2 0h0m24 0h0m4 0h0m2 0h0m6 0h1m2 0h0m3 0h1m2 0h0m2 0h0m3 0h0m2 0h0m11 0h1m4 0h0m7 0h0m10 0h0m7 0h0m34 0h0m-135 1h0m4 0h0m9 0h0m5 0h0m9 0h0m3 0h0m15 0h0m10 0h0m2 0h0m2 0h0m5 0h1m5 0h0m9 0h0m23 0h0m17 0h0m-149 1h0m38 0h0m24 0h0m3 0h0m2 0h0m2 0h0m10 0h0m4 0h0m5 0h0m4 0h1m5 0h0m7 0h0m6 0h0m17 0h0m2 0h0m2 0h0m32 0h0m38 0h0m11 0h0m-198 1h0m2 0h0m19 0h0m19 0h0m5 0h0m3 0h0m3 0h0m6 0h0m10 0h0m2 0h0m2 0h1m2 0h0m6 0h0m9 0h0m2 0h0m6 0h0m6 0h0m12 0h0m-176 1h0m93 0h0m5 0h1m12 0h0m3 0h0m8 0h0m4 0h0m15 0h0m4 0h0m3 0h0m10 0h0m3 0h0m10 0h0m-101 1h0m5 0h0m7 0h0m9 0h0m6 0h0m5 0h0m9 0h0m3 0h0m10 0h0m7 0h0m3 0h0m8 0h0m12 0h0m19 0h0m50 0h0m-190 1h0m8 0h0m18 0h0m11 0h1m8 0h0m18 0h0m11 0h2m4 0h0m6 0h0m4 0h0m3 0h0m7 0h0m8 0h0m10 0h0m6 0h0m25 0h0m38 0h0m-138 1h0m14 0h0m4 0h0m10 0h1m2 0h2m4 0h0m2 0h0m3 0h1m2 0h0m3 0h0m9 0h0m3 0h0m6 0h0m3 0h0m15 0h0m9 0h1m16 0h0m12 0h0m-121 1h0m14 0h0m11 0h0m5 0h0m6 0h0m7 0h0m4 0h0m4 0h0m3 0h1m2 0h0m7 0h0m18 0h0m4 0h1m2 0h0m8 0h0m10 0h0m35 0h0m-167 1h0m40 0h0m7 0h2m10 0h0m8 0h0m5 0h1m3 0h0m2 0h1m6 0h0m7 0h0m3 0h0m3 0h0m7 0h0m7 0h0m4 0h0m4 0h0m14 0h0m-142 1h0m11 0h0m12 0h0m10 0h0m6 0h1m4 0h0m12 0h0m2 0h0m13 0h0m5 0h2m2 0h2m8 0h0m8 0h0m14 0h0m4 0h0m4 0h0m22 0h0m13 0h0m-194 1h0m65 0h1m12 0h0m2 0h0m8 0h0m11 0h0m5 0h0m7 0h0m19 0h0m2 0h0m2 0h0m4 0h0m9 0h0m-132 1h0m42 0h0m12 0h0m10 0h0m3 0h0m16 0h0m2 0h0m3 0h0m3 0h1m2 0h0m8 0h0m3 0h1m2 0h0m3 0h0m8 0h1m9 0h0m2 0h0m4 0h0m2 0h0m10 0h0m18 0h0m-104 1h1m5 0h1m14 0h0m11 0h0m4 0h0m2 0h0m4 0h0m3 0h0m14 0h0m2 0h0m12 0h0m4 0h0m13 0h0m13 0h0m-121 1h0m6 0h1m6 0h0m4 0h0m32 0h0m4 0h1m3 0h0m2 0h0m4 0h0m2 0h0m5 0h0m9 0h0m9 0h0m5 0h0m-73 1h0m8 0h0m3 0h0m4 0h0m8 0h0m3 0h0m4 0h2m4 0h0m15 0h0m2 0h0m3 0h1m17 0h0m21 0h0m5 0h0m-168 1h0m58 0h0m6 0h1m3 0h0m8 0h0m3 0h0m4 0h0m2 0h0m11 0h0m2 0h0m3 0h0m2 0h0m3 0h0m3 0h1m8 0h0m3 0h0m11 0h0m3 0h0m6 0h0m22 0h0m38 0h0m-172 1h0m19 0h0m15 0h0m2 0h0m4 0h0m15 0h0m6 0h0m8 0h1m5 0h0m4 0h0m11 0h0m12 0h1m5 0h0m34 0h0m19 0h0m-240 1h0m112 0h0m9 0h1m9 0h0m4 0h0m13 0h0m6 0h0m10 0h0m43 0h0m6 0h0m-88 1h1m4 0h0m4 0h0m4 0h3m4 0h1m6 0h0m11 0h0m4 0h0m2 0h1m3 0h0m19 0h1m2 0h0m3 0h0m40 0h0m-193 1h0m51 0h0m2 0h0m20 0h1m3 0h0m15 0h0m5 0h0m5 0h0m2 0h1m3 0h0m4 0h0m4 0h1m2 0h0m9 0h0m8 0h0m8 0h0m14 0h0m18 0h0m-124 1h0m20 0h0m17 0h0m7 0h0m2 0h0m11 0h0m6 0h0m10 0h0m7 0h0m3 0h0m19 0h0m3 0h0m-144 1h0m21 0h0m53 0h1m7 0h0m10 0h0m6 0h0m8 0h0m3 0h0m16 0h1m12 0h0m5 0h0m48 0h0m33 0h0m-226 1h0m34 0h0m22 0h0m9 0h0m2 0h0m2 0h2m7 0h0m3 0h0m7 0h0m4 0h0m9 0h0m6 0h2m2 0h0m12 0h0m5 0h0m6 0h0m7 0h0m2 0h1m21 0h0m2 0h0m8 0h0m-136 1h0m37 0h0m10 0h0m4 0h0m6 0h0m2 0h0m2 0h0m3 0h0m3 0h0m4 0h0m2 0h0m8 0h0m4 0h0m5 0h0m2 0h0m9 0h0m26 0h0m-127 1h0m7 0h0m11 0h0m22 0h1m6 0h1m3 0h0m3 0h0m5 0h0m3 0h1m16 0h0m8 0h0m11 0h0m13 0h0m9 0h0m-110 1h0m28 0h0m2 0h0m10 0h3m7 0h3m5 0h1m2 0h0m6 0h0m7 0h0m6 0h1m16 0h0m-110 1h0m25 0h0m4 0h0m3 0h0m12 0h0m2 0h0m3 0h0m2 0h0m2 0h0m3 0h0m11 0h0m14 0h0m20 0h0m14 0h0m-118 1h0m18 0h0m2 0h0m12 0h0m3 0h0m21 0h2m5 0h0m6 0h0m4 0h0m16 0h0m2 0h0m4 0h0m30 0h0m11 0h0m-132 1h0m11 0h0m20 0h1m2 0h0m12 0h0m5 0h0m7 0h0m11 0h0m2 0h1m23 0h0m93 0h0m-228 1h0m37 0h0m11 0h0m4 0h0m2 0h0m19 0h0m9 0h0m3 0h0m8 0h0m3 0h0m9 0h1m10 0h0m2 0h2m3 0h1m5 0h0m5 0h0m6 0h0m9 0h0m-93 1h0m9 0h0m6 0h0m5 0h0m2 0h0m2 0h0m9 0h0m32 0h0m5 0h0m7 0h0m3 0h0m16 0h0m13 0h0m11 0h0m-182 1h0m34 0h0m18 0h0m7 0h0m13 0h0m10 0h0m3 0h0m5 0h0m7 0h0m6 0h0m6 0h1m2 0h0m2 0h0m10 0h1m8 0h0m3 0h0m3 0h0m9 0h0m-80 1h0m12 0h0m3 0h0m2 0h0m6 0h0m3 0h0m8 0h0m6 0h0m2 0h0m2 0h0m2 0h0m3 0h0m4 0h0m8 0h0m9 0h0m28 0h0m9 0h0m20 0h0m11 0h0m-184 1h0m42 0h0m11 0h0m10 0h0m17 0h0m8 0h0m4 0h0m7 0h0m7 0h0m25 0h0m-99 1h0m20 0h0m11 0h0m8 0h0m8 0h1m10 0h1m2 0h0m13 0h0m10 0h0m2 0h0m2 0h0m12 0h0m8 0h0m11 0h0m11 0h0m3 0h0m-116 1h0m25 0h0m7 0h0m4 0h0m38 0h0m2 0h0m4 0h0m20 0h0m-108 1h0m14 0h0m9 0h0m19 0h0m6 0h0m8 0h0m2 0h0m2 0h0m2 0h0m29 0h0m37 0h0m-161 1h0m25 0h0m8 0h0m5 0h0m9 0h0m4 0h0m6 0h0m9 0h0m4 0h0m14 0h0m18 0h0m19 0h0m-94 1h1m2 0h0m19 0h0m12 0h0m4 0h0m8 0h1m7 0h1m4 0h0m13 0h0m10 0h0m31 0h0m10 0h0m-147 1h0m28 0h1m7 0h0m8 0h0m9 0h1m4 0h0m2 0h0m7 0h0m3 0h0m3 0h1m8 0h0m17 0h0m11 0h0m37 0h0m33 0h0m-173 1h0m14 0h1m8 0h0m21 0h0m5 0h0m3 0h0m6 0h0m15 0h0m5 0h0m19 0h0m3 0h0m6 0h0m11 0h0m7 0h0m-186 1h0m56 0h0m19 0h0m16 0h0m4 0h0m19 0h0m3 0h0m17 0h1m2 0h1m2 0h1m2 0h0m2 0h0m21 0h0m-129 1h0m61 0h0m18 0h0m21 0h1m6 0h0m3 0h0m5 0h0m14 0h0m9 0h0m2 0h0m-82 1h0m6 0h0m8 0h0m35 0h0m2 0h0m2 0h0m16 0h0m22 0h0m-94 1h0m10 0h0m9 0h0m37 0h0m10 0h0m6 0h0m6 0h0m-79 1h0m13 0h0m12 0h0m9 0h0m9 0h0m3 0h0m22 0h0m7 0h0m-118 1h0m66 0h0m6 0h0m24 0h0m10 0h0m2 0h0m2 0h0m9 0h0m-87 1h0m40 0h0m15 0h0m6 0h0m13 0h0m22 0h0m116 0h0m-204 1h0m23 0h0m2 0h0m12 0h0m12 0h0m17 0h0m2 0h0m6 0h0m-82 1h0m9 0h0m21 0h0m9 0h0m10 0h0m4 0h0m4 0h0m2 0h0m4 0h0m4 0h0m17 0h0m-45 1h0m5 0h0m5 0h0m-11 1h1m8 0h1m-13 1h0m2 0h0m21 0h0m2 0h0m34 0h0m48 0h0m-117 1h0m7 0h0m47 0h0m23 0h0m13 0h0m-157 1h0m89 0h0m14 0h0m12 0h0m-66 1h0m2 0h0m9 0h0m4 0h0m16 0h1m2 0h0m10 0h0m6 0h0m2 0h0m2 0h1m4 0h0m226 0h0m-285 1h0m23 0h0m10 0h0m5 1h0m17 0h0m10 0h0m14 0h0m7 0h0m4 0h1m-114 1h0m51 0h0m22 0h0m2 0h0m27 0h1m-68 1h0m30 0h0m19 0h0m27 0h0m-125 1h0m61 0h0m50 0h0m-113 1h0m119 0h0m77 0h0m-193 1h0m44 0h2m7 0h0m17 0h0m36 0h0m90 0h0m-111 1h0m37 0h0m93 0h0m-168 1h0m3 0h0m-43 1h0m62 0h0m20 0h0m-34 1h0m33 0h1m-27 1h0m43 0h0m-56 1h0m25 0h0m32 0h0m8 0h0m-93 1h0m20 0h0m10 1h0m11 0h1m16 0h0m24 1h0m59 0h0m-119 1h0m38 0h0m78 0h0m-101 1h0m17 0h0m22 0h0m-33 1h0m17 1h0m-20 1h0m2 0h0m12 1h0m34 0h0m-53 1h0m-93 1h0m245 0h0m-122 1h0m61 0h0m7 0h0m-21 1h0m2 0h0m-64 1h0m12 1h0m-190 1h0m156 1h0m20 0h0m-32 1h0m59 0h0m78 0h0m26 0h0m46 1h0m-181 2h0m31 1h0m-27 2h0m-3 1h0m3 0h0m113 0h0m-144 1h0m126 1h0m14 0h0m-213 1h0m139 0h0m-140 1h0m195 2h0m-110 1h0m105 0h0m-91 2h0m-7 3h0m132 0h0m-128 6h0m-72 3h0m82 1h0m41 0h0m-111 5h0m45 32h0m41 19h0"/><path stroke="#0000ff" d="M1092 1512h0m-3 6h0m-17 3h0m84 1h0m21 2h0m-91 6h0m49 2h0m8 10h0m-54 2h0m38 1h0m16 6h0m-54 1h0m34 0h0m21 0h0m-39 6h0m62 0h0m-41 3h0m-48 1h0m51 1h0m6 2h0m-33 1h0m34 7h0m-68 9h0m51 9h0"/></g></g><path d="M1299.2 1696.8v-3.6M1299.2 1549v3.6M1353.1 1696.8v-3.6M1353.1 1549v3.6M1407.1 1696.8v-3.6M1407.1 1549v3.6M1461.1 1696.8v-3.6M1461.1 1549v3.6M1515 1696.8v-3.6M1515 1549v3.6M1271.3 1640.1h3.6M1541 1640.1h-3.6M1271.3 1583.4h3.6M1541 1583.4h-3.6" stroke="#1a1a1a" stroke-width="1.6" fill="none"/><rect x="1271.3" y="1549" width="269.7" height="147.8" fill="none" stroke="#1a1a1a" stroke-width="2.0"/><path d="M1299.2 1980v-3.6M1299.2 1709.8v3.6M1353.1 1980v-3.6M1353.1 1709.8v3.6M1407.1 1980v-3.6M1407.1 1709.8v3.6M1461.1 1980v-3.6M1461.1 1709.8v3.6M1515 1980v-3.6M1515 1709.8v3.6M1272.2 1953h3.6M1542 1953h-3.6M1272.2 1898.9h3.6M1542 1898.9h-3.6M1272.2 1844.9h3.6M1542 1844.9h-3.6M1272.2 1790.9h3.6M1542 1790.9h-3.6M1272.2 1736.8h3.6M1542 1736.8h-3.6" stroke="#1a1a1a" stroke-width="1.6" fill="none"/><rect x="1272.2" y="1709.8" width="269.8" height="270.2" fill="none" stroke="#1a1a1a" stroke-width="2.0"/><path d="M1598.7 1976v-3.6M1598.7 1711v3.6M1644.8 1976v-3.6M1644.8 1711v3.6M1690.9 1976v-3.6M1690.9 1711v3.6M1552.6 1949.5h3.6M1702 1949.5h-3.6M1552.6 1896.5h3.6M1702 1896.5h-3.6M1552.6 1843.5h3.6M1702 1843.5h-3.6M1552.6 1790.5h3.6M1702 1790.5h-3.6M1552.6 1737.5h3.6M1702 1737.5h-3.6" stroke="#1a1a1a" stroke-width="1.6" fill="none"/><rect x="1552.6" y="1711" width="149.4" height="265" fill="none" stroke="#1a1a1a" stroke-width="2.0"/><g clip-path="url(#ec3a)"><polyline points="1339.7,1696.8 1345,1696.8 1350.4,1694.5 1355.8,1692.3 1361.2,1683.2 1366.6,1665 1372,1657.1 1377.4,1635.5 1382.8,1620.8 1388.2,1599.2 1393.6,1581.1 1399,1565.2 1404.4,1572 1409.8,1576.6 1415.2,1595.8 1420.6,1642.4 1426,1668.4 1431.4,1680.9 1436.8,1687.7 1442.2,1693.4 1447.6,1695.7 1453,1696.8" fill="none" stroke="#000" stroke-width="1.9" stroke-linejoin="round"/><polyline points="1328.9,1696.8 1334.3,1695.7 1339.7,1693.4 1345,1688.9 1350.4,1683.2 1355.8,1671.8 1361.2,1661.6 1366.6,1650.3 1372,1632.1 1377.4,1617.4 1382.8,1595.8 1388.2,1587.9 1393.6,1585.6 1399,1587.9 1404.4,1591.3 1409.8,1617.4 1415.2,1632.1 1420.6,1642.4 1426,1665 1431.4,1677.5 1436.8,1679.8 1442.2,1688.9 1447.6,1692.3 1453,1694.5 1458.4,1696.8" fill="none" stroke="#ff0000" stroke-width="1.9" stroke-linejoin="round"/><polyline points="1272.2,1694.5 1277.6,1693.4 1283,1694.5 1288.4,1692.3 1293.8,1693.4 1299.2,1687.7 1304.6,1690 1310,1691.1 1315.4,1683.2 1320.8,1686.6 1326.2,1685.5 1331.6,1679.8 1337,1684.3 1342.3,1683.2 1347.7,1676.4 1353.1,1680.9 1358.5,1657.1 1363.9,1659.4 1369.3,1650.3 1374.7,1661.6 1380.1,1636.7 1385.5,1650.3 1390.9,1624.2 1396.3,1623.1 1401.7,1618.5 1407.1,1628.7 1412.5,1639 1417.9,1646.9 1423.3,1641.2 1428.7,1644.6 1434.1,1634.4 1439.5,1666.2 1444.9,1665 1450.3,1674.1 1455.7,1679.8 1461.1,1680.9 1466.5,1688.9 1471.9,1690 1477.2,1684.3 1482.6,1688.9 1488,1690 1493.4,1692.3 1498.8,1693.4 1504.2,1691.1 1509.6,1695.7 1515,1696.8 1520.4,1695.7 1525.8,1696.8 1531.2,1694.5 1536.6,1695.7 1542,1694.5" fill="none" stroke="#14b432" stroke-width="1.9" stroke-linejoin="round"/><polyline points="1272.2,1696.8 1283,1696.8 1293.8,1696.8 1304.6,1696.8 1315.4,1696.8 1326.2,1696.8 1337,1696.8 1347.7,1695.7 1358.5,1694.5 1369.3,1695.7 1380.1,1694.5 1390.9,1695.7 1401.7,1694.5 1412.5,1695.7 1423.3,1696.8 1434.1,1695.7 1444.9,1696.8 1455.7,1696.8 1466.5,1696.8 1477.2,1696.8 1488,1696.8 1498.8,1696.8 1509.6,1696.8 1520.4,1696.8 1531.2,1696.8 1542,1696.8" fill="none" stroke="#0a64f0" stroke-width="1.9" stroke-linejoin="round"/></g><g clip-path="url(#ec3c)"><polyline points="1552.6,1708.3 1552.6,1798.5 1562.7,1801.6 1598.7,1812.5 1667,1821.8 1674.3,1827.1 1690.9,1834.5 1667,1839.8 1642.1,1847.2 1598.7,1852.5 1570.1,1859.9 1559.1,1867.3 1552.6,1878 1552.6,1978.7" fill="none" stroke="#000" stroke-width="1.9" stroke-linejoin="round"/><polyline points="1552.6,1708.3 1552.6,1765.3 1557.2,1787.8 1562.7,1794.5 1564.6,1805.3 1578.4,1812.5 1591.3,1821.8 1598.7,1828.9 1613.5,1836.1 1631,1845.4 1634.7,1850.7 1667,1856.2 1634.7,1863.4 1619.9,1868.9 1613.5,1876.1 1591.3,1881.7 1573.8,1888.8 1559.1,1896.5 1555.4,1907.1 1553.5,1933.6 1552.6,1978.7" fill="none" stroke="#ff0000" stroke-width="1.9" stroke-linejoin="round"/><polyline points="1552.6,1708.3 1552.6,1843.5 1553.5,1870 1554.4,1896.5 1555.4,1917.7 1554.4,1928.3 1555.4,1938.9 1554.4,1954.8 1553.5,1978.7" fill="none" stroke="#0a64f0" stroke-width="1.9" stroke-linejoin="round"/><polyline points="1552.6,1708.3 1553.5,1737.5 1554.4,1764 1554.4,1785.2 1555.4,1806.4 1558.1,1817 1559.1,1827.6 1557.2,1832.9 1562.7,1841.6 1563.7,1851.5 1566.4,1859.4 1575.7,1867.3 1570.1,1871.3 1574.7,1878 1577.5,1885.9 1580.3,1896.5 1584,1907.1 1589.5,1915 1598.7,1925.7 1595,1933.6 1615.3,1941.5 1598.7,1946.8 1613.5,1952.2 1606.1,1957.5 1615.3,1963.3 1598.7,1969.4 1582.1,1976 1580.3,1978.7" fill="none" stroke="#14b432" stroke-width="1.9" stroke-linejoin="round"/></g><text font-size="23" font-weight="bold" text-anchor="end" fill="#1c1c1c" transform="translate(1264.3 1705.1)">0</text><text font-size="23" font-weight="bold" text-anchor="end" fill="#1c1c1c" transform="translate(1264.3 1648.4)">50</text><text font-size="23" font-weight="bold" text-anchor="end" fill="#1c1c1c" transform="translate(1264.3 1591.7)">100</text><rect x="1235" y="1703" width="36" height="5.6" fill="#fff"/><text font-size="24.3" font-weight="bold" text-anchor="end" fill="#1c1c1c" transform="translate(1265.4 1962.2) scale(1 1.05)">260</text><text font-size="24.3" font-weight="bold" text-anchor="end" fill="#1c1c1c" transform="translate(1265.4 1854.1) scale(1 1.05)">300</text><text font-size="24.3" font-weight="bold" text-anchor="end" fill="#1c1c1c" transform="translate(1265.4 1746) scale(1 1.05)">340</text><text font-size="24.3" font-weight="bold" text-anchor="middle" fill="#1c1c1c" transform="translate(1299.2 2009.5) scale(1 1.05)">5160</text><text font-size="24.3" font-weight="bold" text-anchor="middle" fill="#1c1c1c" transform="translate(1407.1 2009.5) scale(1 1.05)">5200</text><text font-size="24.3" font-weight="bold" text-anchor="middle" fill="#1c1c1c" transform="translate(1515 2009.5) scale(1 1.05)">5240</text><text font-size="24.3" font-weight="bold" text-anchor="end" fill="#1c1c1c" transform="translate(1544.1 1704.8) rotate(90)">0</text><text font-size="24.3" font-weight="bold" text-anchor="end" fill="#1c1c1c" transform="translate(1590.2 1704.8) rotate(90)">50</text><text font-size="24.3" font-weight="bold" text-anchor="end" fill="#1c1c1c" transform="translate(1636.3 1704.8) rotate(90)">100</text><text font-size="24.3" font-weight="bold" text-anchor="end" fill="#1c1c1c" transform="translate(1682.4 1704.8) rotate(90)">150</text><text font-size="27" font-weight="bold" text-anchor="middle" fill="#1c1c1c" transform="translate(1407.1 2039.6) scale(1 1.05)">X (nm)</text><text font-size="26" font-weight="bold" text-anchor="middle" fill="#1c1c1c" transform="translate(1217 1622.5) rotate(-90)">Localizations</text><text font-size="27.4" font-weight="bold" text-anchor="middle" fill="#1c1c1c" transform="translate(1213 1843) rotate(-90)">Emitter Size (nm)</text><text font-size="26" font-weight="bold" text-anchor="middle" fill="#1c1c1c" transform="translate(1627 1657.5) scale(1 1.05)">Localizations</text><text font-size="39" font-weight="bold" transform="translate(1141.5 1581) scale(1 1.05)">e3</text></g>
</svg></body></html>
